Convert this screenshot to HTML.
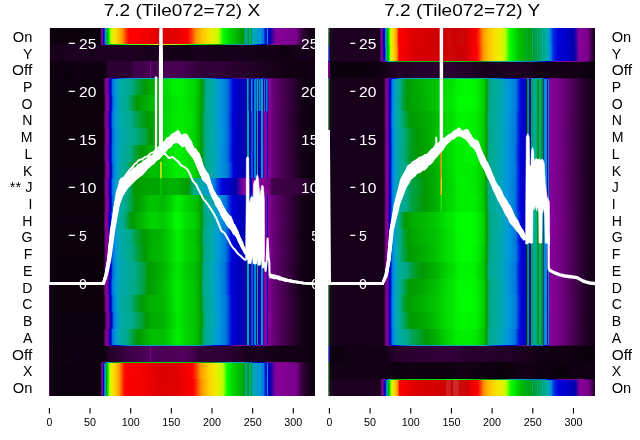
<!DOCTYPE html>
<html><head><meta charset="utf-8"><title>7.2 (Tile072=72)</title>
<style>
html,body{margin:0;padding:0;background:#fff;}
body{width:640px;height:440px;overflow:hidden;position:relative;font-family:"Liberation Sans",sans-serif;}
svg{display:block;font-family:"Liberation Sans",sans-serif;}
</style></head><body>
<svg width="640" height="440" viewBox="0 0 640 440">
<defs>
<clipPath id="cl"><rect x="48.90" y="27.90" width="266.10" height="367.80"/></clipPath>
<clipPath id="cr"><rect x="327.90" y="27.90" width="267.10" height="367.80"/></clipPath>
<linearGradient id="l0" gradientUnits="userSpaceOnUse" x1="48.90" y1="0" x2="315.00" y2="0"><stop offset="0" stop-color="#640072"/><stop offset=".0028" stop-color="#640072"/><stop offset=".0038" stop-color="#0c000d"/><stop offset=".1935" stop-color="#0c000e"/><stop offset=".1945" stop-color="#27002c"/><stop offset=".1954" stop-color="#540060"/><stop offset=".1964" stop-color="#780089"/><stop offset=".2001" stop-color="#870098"/><stop offset=".2011" stop-color="#7b009b"/><stop offset=".2029" stop-color="#56009f"/><stop offset=".2039" stop-color="#3600a3"/><stop offset=".2048" stop-color="#0d00a8"/><stop offset=".2057" stop-color="#0000b5"/><stop offset=".2076" stop-color="#0000d6"/><stop offset=".2086" stop-color="#0021dd"/><stop offset=".2104" stop-color="#007add"/><stop offset=".2123" stop-color="#0095dd"/><stop offset=".2133" stop-color="#009fcc"/><stop offset=".2142" stop-color="#00a7b2"/><stop offset=".2161" stop-color="#00aa8e"/><stop offset=".2170" stop-color="#00a45b"/><stop offset=".2180" stop-color="#009c17"/><stop offset=".2189" stop-color="#00a100"/><stop offset=".2255" stop-color="#00ee00"/><stop offset=".2274" stop-color="#03ff00"/><stop offset=".2292" stop-color="#60ff00"/><stop offset=".2302" stop-color="#81ff00"/><stop offset=".2321" stop-color="#afff00"/><stop offset=".2330" stop-color="#befe00"/><stop offset=".2368" stop-color="#d7f600"/><stop offset=".2424" stop-color="#ecef00"/><stop offset=".2584" stop-color="#ffcb00"/><stop offset=".2753" stop-color="#ff9a00"/><stop offset=".2931" stop-color="#ff2500"/><stop offset=".3016" stop-color="#ff0000"/><stop offset=".3420" stop-color="#fa0000"/><stop offset=".4181" stop-color="#dc0000"/><stop offset=".4744" stop-color="#e20000"/><stop offset=".5224" stop-color="#ff0000"/><stop offset=".5374" stop-color="#ff4100"/><stop offset=".5487" stop-color="#ff8000"/><stop offset=".5543" stop-color="#ff9700"/><stop offset=".5806" stop-color="#ffcc00"/><stop offset=".6097" stop-color="#eeee00"/><stop offset=".6248" stop-color="#d7f600"/><stop offset=".6389" stop-color="#b9ff00"/><stop offset=".6548" stop-color="#00ff00"/><stop offset=".6736" stop-color="#00dd00"/><stop offset=".7281" stop-color="#009900"/><stop offset=".7328" stop-color="#009c1a"/><stop offset=".7375" stop-color="#00a248"/><stop offset=".7384" stop-color="#00aaa3"/><stop offset=".7422" stop-color="#00aaa3"/><stop offset=".7431" stop-color="#00a981"/><stop offset=".7441" stop-color="#00aa89"/><stop offset=".7460" stop-color="#00aa8d"/><stop offset=".7469" stop-color="#009900"/><stop offset=".7507" stop-color="#009900"/><stop offset=".7516" stop-color="#00aa98"/><stop offset=".7544" stop-color="#00aaa3"/><stop offset=".7582" stop-color="#00aaa3"/><stop offset=".7601" stop-color="#00aaaa"/><stop offset=".7610" stop-color="#009c1b"/><stop offset=".7629" stop-color="#009c1b"/><stop offset=".7638" stop-color="#00a7b4"/><stop offset=".7835" stop-color="#00a2c3"/><stop offset=".7845" stop-color="#008bdd"/><stop offset=".7882" stop-color="#008bdd"/><stop offset=".7892" stop-color="#009fcb"/><stop offset=".7967" stop-color="#009cd5"/><stop offset=".7976" stop-color="#0085dd"/><stop offset=".8042" stop-color="#0085dd"/><stop offset=".8061" stop-color="#0078dd"/><stop offset=".8080" stop-color="#0052dd"/><stop offset=".8089" stop-color="#0044dd"/><stop offset=".8155" stop-color="#0005dd"/><stop offset=".8164" stop-color="#0000dc"/><stop offset=".8192" stop-color="#0000d3"/><stop offset=".8202" stop-color="#0099dd"/><stop offset=".8221" stop-color="#0099dd"/><stop offset=".8230" stop-color="#0000c7"/><stop offset=".8315" stop-color="#0000ab"/><stop offset=".8455" stop-color="#66009d"/><stop offset=".8587" stop-color="#880099"/><stop offset=".9310" stop-color="#770088"/><stop offset=".9442" stop-color="#470051"/><stop offset=".9620" stop-color="#24002a"/><stop offset=".9808" stop-color="#130016"/><stop offset=".9996" stop-color="#0d000f"/></linearGradient>
<linearGradient id="l1" gradientUnits="userSpaceOnUse" x1="48.90" y1="0" x2="315.00" y2="0"><stop offset="0" stop-color="#640072"/><stop offset=".0028" stop-color="#640072"/><stop offset=".0038" stop-color="#1b001e"/><stop offset=".0376" stop-color="#17001b"/><stop offset=".0752" stop-color="#1f0023"/><stop offset=".1503" stop-color="#1a001e"/><stop offset=".3382" stop-color="#1c0020"/><stop offset=".3758" stop-color="#17001a"/><stop offset=".4134" stop-color="#1d0021"/><stop offset=".4510" stop-color="#140017"/><stop offset=".5261" stop-color="#130016"/><stop offset=".5637" stop-color="#19001d"/><stop offset=".6013" stop-color="#150018"/><stop offset=".7140" stop-color="#16001a"/><stop offset=".9019" stop-color="#100012"/><stop offset=".9395" stop-color="#17001a"/><stop offset=".9996" stop-color="#150018"/></linearGradient>
<linearGradient id="l2" gradientUnits="userSpaceOnUse" x1="48.90" y1="0" x2="315.00" y2="0"><stop offset="0" stop-color="#640072"/><stop offset=".0028" stop-color="#640072"/><stop offset=".0038" stop-color="#0b000d"/><stop offset=".0376" stop-color="#0f0012"/><stop offset=".0752" stop-color="#0b000d"/><stop offset=".1127" stop-color="#100013"/><stop offset=".2104" stop-color="#0f0011"/><stop offset=".2227" stop-color="#2c0032"/><stop offset=".3006" stop-color="#2b0031"/><stop offset=".3241" stop-color="#41004b"/><stop offset=".3796" stop-color="#45004f"/><stop offset=".3805" stop-color="#720083"/><stop offset=".3833" stop-color="#720083"/><stop offset=".3843" stop-color="#45004f"/><stop offset=".4923" stop-color="#490054"/><stop offset=".5684" stop-color="#320039"/><stop offset=".6013" stop-color="#2e0035"/><stop offset=".6389" stop-color="#310038"/><stop offset=".9019" stop-color="#100012"/><stop offset=".9996" stop-color="#100012"/></linearGradient>
<linearGradient id="l3" gradientUnits="userSpaceOnUse" x1="48.90" y1="0" x2="315.00" y2="0"><stop offset="0" stop-color="#640072"/><stop offset=".0028" stop-color="#640072"/><stop offset=".0038" stop-color="#0c000e"/><stop offset=".2048" stop-color="#0c000e"/><stop offset=".2057" stop-color="#0f0011"/><stop offset=".2114" stop-color="#700080"/><stop offset=".2123" stop-color="#780089"/><stop offset=".2217" stop-color="#870098"/><stop offset=".2227" stop-color="#7c009a"/><stop offset=".2274" stop-color="#0d00a8"/><stop offset=".2283" stop-color="#0000ae"/><stop offset=".2330" stop-color="#0000d7"/><stop offset=".2339" stop-color="#0006dd"/><stop offset=".2386" stop-color="#0067dd"/><stop offset=".2396" stop-color="#0075dd"/><stop offset=".2508" stop-color="#0097dd"/><stop offset=".2659" stop-color="#00aaaa"/><stop offset=".3100" stop-color="#00aa88"/><stop offset=".3232" stop-color="#00a45a"/><stop offset=".3382" stop-color="#00a03c"/><stop offset=".3617" stop-color="#009901"/><stop offset=".3805" stop-color="#00a900"/><stop offset=".4190" stop-color="#00b500"/><stop offset=".4293" stop-color="#00d600"/><stop offset=".4782" stop-color="#00f200"/><stop offset=".4970" stop-color="#00f100"/><stop offset=".5487" stop-color="#00d600"/><stop offset=".5637" stop-color="#00bc00"/><stop offset=".5750" stop-color="#009b00"/><stop offset=".5759" stop-color="#009903"/><stop offset=".5909" stop-color="#00aa88"/><stop offset=".6191" stop-color="#00aaab"/><stop offset=".6285" stop-color="#00a3c0"/><stop offset=".6464" stop-color="#0098dd"/><stop offset=".6699" stop-color="#0077dd"/><stop offset=".6802" stop-color="#0047dd"/><stop offset=".6915" stop-color="#0001dd"/><stop offset=".6924" stop-color="#0000dc"/><stop offset=".7074" stop-color="#0000c3"/><stop offset=".7441" stop-color="#0000b6"/><stop offset=".7450" stop-color="#00aa9c"/><stop offset=".7497" stop-color="#00aa9c"/><stop offset=".7507" stop-color="#0000b3"/><stop offset=".7591" stop-color="#0000b0"/><stop offset=".7601" stop-color="#0085dd"/><stop offset=".7648" stop-color="#0085dd"/><stop offset=".7657" stop-color="#0000ae"/><stop offset=".7704" stop-color="#0000ac"/><stop offset=".7713" stop-color="#0085dd"/><stop offset=".7798" stop-color="#0085dd"/><stop offset=".7807" stop-color="#0400aa"/><stop offset=".7817" stop-color="#00aa9c"/><stop offset=".7864" stop-color="#00aa9c"/><stop offset=".7873" stop-color="#0a00a9"/><stop offset=".7882" stop-color="#008bdd"/><stop offset=".7948" stop-color="#008bdd"/><stop offset=".7958" stop-color="#1200a8"/><stop offset=".7967" stop-color="#00a3be"/><stop offset=".8042" stop-color="#00a3be"/><stop offset=".8051" stop-color="#2200a6"/><stop offset=".8080" stop-color="#2900a5"/><stop offset=".8089" stop-color="#0077dd"/><stop offset=".8117" stop-color="#0077dd"/><stop offset=".8127" stop-color="#3500a3"/><stop offset=".8164" stop-color="#3e00a2"/><stop offset=".8174" stop-color="#0077dd"/><stop offset=".8211" stop-color="#0077dd"/><stop offset=".8221" stop-color="#4d00a0"/><stop offset=".8239" stop-color="#56009f"/><stop offset=".8286" stop-color="#880099"/><stop offset=".8343" stop-color="#780089"/><stop offset=".8465" stop-color="#630072"/><stop offset=".9433" stop-color="#18001c"/><stop offset=".9630" stop-color="#110013"/><stop offset=".9996" stop-color="#0c000e"/></linearGradient>
<linearGradient id="l4" gradientUnits="userSpaceOnUse" x1="48.90" y1="0" x2="315.00" y2="0"><stop offset="0" stop-color="#640072"/><stop offset=".0028" stop-color="#640072"/><stop offset=".0038" stop-color="#0c000e"/><stop offset=".2067" stop-color="#0c000d"/><stop offset=".2133" stop-color="#770088"/><stop offset=".2227" stop-color="#860097"/><stop offset=".2236" stop-color="#860099"/><stop offset=".2292" stop-color="#0100aa"/><stop offset=".2349" stop-color="#0000db"/><stop offset=".2396" stop-color="#005ddd"/><stop offset=".2415" stop-color="#0076dd"/><stop offset=".2527" stop-color="#0097dd"/><stop offset=".2668" stop-color="#00aaaa"/><stop offset=".2959" stop-color="#00aa86"/><stop offset=".3091" stop-color="#00a458"/><stop offset=".3251" stop-color="#009c14"/><stop offset=".3326" stop-color="#009900"/><stop offset=".3814" stop-color="#00b700"/><stop offset=".4021" stop-color="#00bb00"/><stop offset=".4200" stop-color="#00b400"/><stop offset=".4303" stop-color="#00d000"/><stop offset=".4791" stop-color="#00ea00"/><stop offset=".4970" stop-color="#00ec00"/><stop offset=".5383" stop-color="#00dc00"/><stop offset=".5496" stop-color="#00d300"/><stop offset=".5646" stop-color="#00b700"/><stop offset=".5740" stop-color="#009b00"/><stop offset=".5750" stop-color="#009904"/><stop offset=".5769" stop-color="#009c18"/><stop offset=".5900" stop-color="#00aa88"/><stop offset=".6172" stop-color="#00aaa9"/><stop offset=".6295" stop-color="#00a1c4"/><stop offset=".6445" stop-color="#0099dd"/><stop offset=".6708" stop-color="#0076dd"/><stop offset=".6811" stop-color="#0045dd"/><stop offset=".6924" stop-color="#0000dc"/><stop offset=".7084" stop-color="#0000bf"/><stop offset=".7441" stop-color="#0000b1"/><stop offset=".7450" stop-color="#00aa9c"/><stop offset=".7497" stop-color="#00aa9c"/><stop offset=".7507" stop-color="#0000af"/><stop offset=".7591" stop-color="#0000ac"/><stop offset=".7601" stop-color="#0085dd"/><stop offset=".7648" stop-color="#0085dd"/><stop offset=".7657" stop-color="#0100aa"/><stop offset=".7704" stop-color="#0600a9"/><stop offset=".7713" stop-color="#0085dd"/><stop offset=".7798" stop-color="#0085dd"/><stop offset=".7807" stop-color="#0f00a8"/><stop offset=".7817" stop-color="#00aa9c"/><stop offset=".7864" stop-color="#00aa9c"/><stop offset=".7873" stop-color="#1300a8"/><stop offset=".7882" stop-color="#008bdd"/><stop offset=".7948" stop-color="#008bdd"/><stop offset=".7958" stop-color="#1a00a7"/><stop offset=".7967" stop-color="#00a3be"/><stop offset=".8042" stop-color="#00a3be"/><stop offset=".8051" stop-color="#2500a5"/><stop offset=".8080" stop-color="#2c00a5"/><stop offset=".8089" stop-color="#0077dd"/><stop offset=".8117" stop-color="#0077dd"/><stop offset=".8127" stop-color="#3600a3"/><stop offset=".8164" stop-color="#3f00a2"/><stop offset=".8174" stop-color="#0077dd"/><stop offset=".8211" stop-color="#0077dd"/><stop offset=".8221" stop-color="#4d00a0"/><stop offset=".8249" stop-color="#57009f"/><stop offset=".8296" stop-color="#880099"/><stop offset=".8362" stop-color="#760086"/><stop offset=".8474" stop-color="#630071"/><stop offset=".9442" stop-color="#18001b"/><stop offset=".9639" stop-color="#100013"/><stop offset=".9996" stop-color="#0c000e"/></linearGradient>
<linearGradient id="l5" gradientUnits="userSpaceOnUse" x1="48.90" y1="0" x2="315.00" y2="0"><stop offset="0" stop-color="#640072"/><stop offset=".0028" stop-color="#640072"/><stop offset=".0038" stop-color="#0c000d"/><stop offset=".2048" stop-color="#0c000d"/><stop offset=".2104" stop-color="#6b007b"/><stop offset=".2114" stop-color="#780089"/><stop offset=".2208" stop-color="#870098"/><stop offset=".2217" stop-color="#840099"/><stop offset=".2274" stop-color="#0000aa"/><stop offset=".2330" stop-color="#0000dc"/><stop offset=".2377" stop-color="#0060dd"/><stop offset=".2386" stop-color="#0070dd"/><stop offset=".2396" stop-color="#0078dd"/><stop offset=".2508" stop-color="#0098dd"/><stop offset=".2649" stop-color="#00a9af"/><stop offset=".3129" stop-color="#00aa88"/><stop offset=".3232" stop-color="#00a562"/><stop offset=".3382" stop-color="#00a13d"/><stop offset=".3617" stop-color="#009b13"/><stop offset=".3683" stop-color="#009900"/><stop offset=".4181" stop-color="#00af00"/><stop offset=".4284" stop-color="#00d200"/><stop offset=".4773" stop-color="#00ec00"/><stop offset=".4951" stop-color="#00ed00"/><stop offset=".5365" stop-color="#00de00"/><stop offset=".5477" stop-color="#00d400"/><stop offset=".5628" stop-color="#00b800"/><stop offset=".5731" stop-color="#009901"/><stop offset=".5750" stop-color="#009c17"/><stop offset=".5881" stop-color="#00aa89"/><stop offset=".6154" stop-color="#00aaa9"/><stop offset=".6276" stop-color="#00a2c3"/><stop offset=".6436" stop-color="#0099dd"/><stop offset=".6689" stop-color="#0076dd"/><stop offset=".6793" stop-color="#0046dd"/><stop offset=".6905" stop-color="#0000dc"/><stop offset=".7065" stop-color="#0000c0"/><stop offset=".7431" stop-color="#0000af"/><stop offset=".7441" stop-color="#00aa9c"/><stop offset=".7507" stop-color="#00aa9c"/><stop offset=".7516" stop-color="#0000ad"/><stop offset=".7591" stop-color="#0000ab"/><stop offset=".7601" stop-color="#0053dd"/><stop offset=".7666" stop-color="#0053dd"/><stop offset=".7676" stop-color="#0200aa"/><stop offset=".7704" stop-color="#0400aa"/><stop offset=".7713" stop-color="#0085dd"/><stop offset=".7788" stop-color="#0085dd"/><stop offset=".7798" stop-color="#0b00a9"/><stop offset=".7807" stop-color="#0c00a9"/><stop offset=".7817" stop-color="#00aaa3"/><stop offset=".7864" stop-color="#00aaa3"/><stop offset=".7873" stop-color="#1300a8"/><stop offset=".7958" stop-color="#1b00a7"/><stop offset=".7967" stop-color="#0092dd"/><stop offset=".8042" stop-color="#0092dd"/><stop offset=".8051" stop-color="#2d00a4"/><stop offset=".8061" stop-color="#2f00a4"/><stop offset=".8070" stop-color="#880099"/><stop offset=".8183" stop-color="#880099"/><stop offset=".8192" stop-color="#0000b9"/><stop offset=".8230" stop-color="#0000b9"/><stop offset=".8239" stop-color="#870098"/><stop offset=".8286" stop-color="#870098"/><stop offset=".8343" stop-color="#750086"/><stop offset=".8455" stop-color="#630071"/><stop offset=".9423" stop-color="#18001c"/><stop offset=".9620" stop-color="#110013"/><stop offset=".9996" stop-color="#0c000e"/></linearGradient>
<linearGradient id="l6" gradientUnits="userSpaceOnUse" x1="48.90" y1="0" x2="315.00" y2="0"><stop offset="0" stop-color="#640072"/><stop offset=".0028" stop-color="#640072"/><stop offset=".0038" stop-color="#0c000d"/><stop offset=".2057" stop-color="#0c000d"/><stop offset=".2067" stop-color="#120015"/><stop offset=".2123" stop-color="#730083"/><stop offset=".2151" stop-color="#7d008e"/><stop offset=".2227" stop-color="#870098"/><stop offset=".2236" stop-color="#78009b"/><stop offset=".2283" stop-color="#0800a9"/><stop offset=".2292" stop-color="#0000af"/><stop offset=".2339" stop-color="#0000da"/><stop offset=".2349" stop-color="#000cdd"/><stop offset=".2396" stop-color="#006ddd"/><stop offset=".2405" stop-color="#0077dd"/><stop offset=".2527" stop-color="#0098dd"/><stop offset=".2668" stop-color="#00a7b4"/><stop offset=".3232" stop-color="#00aa88"/><stop offset=".3636" stop-color="#00a141"/><stop offset=".3805" stop-color="#009a09"/><stop offset=".3861" stop-color="#009900"/><stop offset=".4200" stop-color="#00ab00"/><stop offset=".4303" stop-color="#00cf00"/><stop offset=".4782" stop-color="#00ea00"/><stop offset=".4970" stop-color="#00eb00"/><stop offset=".5383" stop-color="#00d900"/><stop offset=".5496" stop-color="#00cf00"/><stop offset=".5646" stop-color="#00b300"/><stop offset=".5731" stop-color="#009900"/><stop offset=".5769" stop-color="#009e29"/><stop offset=".5881" stop-color="#00aa89"/><stop offset=".6163" stop-color="#00aaab"/><stop offset=".6285" stop-color="#00a2c3"/><stop offset=".6464" stop-color="#0099dd"/><stop offset=".6699" stop-color="#0077dd"/><stop offset=".6811" stop-color="#0041dd"/><stop offset=".6915" stop-color="#0000dd"/><stop offset=".7074" stop-color="#0000c1"/><stop offset=".7431" stop-color="#0000b1"/><stop offset=".7441" stop-color="#00aa9c"/><stop offset=".7507" stop-color="#00aa9c"/><stop offset=".7516" stop-color="#0000ae"/><stop offset=".7591" stop-color="#0000ac"/><stop offset=".7601" stop-color="#0053dd"/><stop offset=".7666" stop-color="#0053dd"/><stop offset=".7676" stop-color="#0200aa"/><stop offset=".7704" stop-color="#0500a9"/><stop offset=".7713" stop-color="#0085dd"/><stop offset=".7788" stop-color="#0085dd"/><stop offset=".7798" stop-color="#0e00a8"/><stop offset=".7807" stop-color="#0f00a8"/><stop offset=".7817" stop-color="#00aaa3"/><stop offset=".7864" stop-color="#00aaa3"/><stop offset=".7873" stop-color="#1600a7"/><stop offset=".7958" stop-color="#1f00a6"/><stop offset=".7967" stop-color="#0092dd"/><stop offset=".8042" stop-color="#0092dd"/><stop offset=".8051" stop-color="#2e00a4"/><stop offset=".8061" stop-color="#3000a4"/><stop offset=".8070" stop-color="#880099"/><stop offset=".8183" stop-color="#880099"/><stop offset=".8192" stop-color="#0000b9"/><stop offset=".8230" stop-color="#0000b9"/><stop offset=".8239" stop-color="#870098"/><stop offset=".8286" stop-color="#870098"/><stop offset=".8362" stop-color="#730083"/><stop offset=".8465" stop-color="#620070"/><stop offset=".9442" stop-color="#18001b"/><stop offset=".9630" stop-color="#100013"/><stop offset=".9996" stop-color="#0c000e"/></linearGradient>
<linearGradient id="l7" gradientUnits="userSpaceOnUse" x1="48.90" y1="0" x2="315.00" y2="0"><stop offset="0" stop-color="#640072"/><stop offset=".0028" stop-color="#640072"/><stop offset=".0038" stop-color="#0c000d"/><stop offset=".2048" stop-color="#0c000e"/><stop offset=".2057" stop-color="#0f0011"/><stop offset=".2114" stop-color="#700080"/><stop offset=".2123" stop-color="#780089"/><stop offset=".2217" stop-color="#870098"/><stop offset=".2227" stop-color="#7c009b"/><stop offset=".2274" stop-color="#0c00a9"/><stop offset=".2283" stop-color="#0000ae"/><stop offset=".2330" stop-color="#0000d8"/><stop offset=".2339" stop-color="#0008dd"/><stop offset=".2386" stop-color="#0069dd"/><stop offset=".2396" stop-color="#0076dd"/><stop offset=".2518" stop-color="#0098dd"/><stop offset=".2659" stop-color="#00a9ad"/><stop offset=".3063" stop-color="#00aa86"/><stop offset=".3241" stop-color="#00a13c"/><stop offset=".3467" stop-color="#009901"/><stop offset=".3805" stop-color="#00ae00"/><stop offset=".4190" stop-color="#00b100"/><stop offset=".4293" stop-color="#00cf00"/><stop offset=".4782" stop-color="#00ee00"/><stop offset=".4970" stop-color="#00ed00"/><stop offset=".5487" stop-color="#00d000"/><stop offset=".5637" stop-color="#00b500"/><stop offset=".5731" stop-color="#009900"/><stop offset=".5759" stop-color="#009d1f"/><stop offset=".5881" stop-color="#00aa87"/><stop offset=".6172" stop-color="#00aaaa"/><stop offset=".6464" stop-color="#0098dd"/><stop offset=".6689" stop-color="#0075dd"/><stop offset=".6802" stop-color="#003edd"/><stop offset=".6905" stop-color="#0000dc"/><stop offset=".7074" stop-color="#0000c0"/><stop offset=".7431" stop-color="#0000b3"/><stop offset=".7441" stop-color="#00aa9c"/><stop offset=".7507" stop-color="#00aa9c"/><stop offset=".7516" stop-color="#0000b0"/><stop offset=".7591" stop-color="#0000ad"/><stop offset=".7601" stop-color="#0053dd"/><stop offset=".7666" stop-color="#0053dd"/><stop offset=".7676" stop-color="#0000aa"/><stop offset=".7704" stop-color="#0200aa"/><stop offset=".7713" stop-color="#0085dd"/><stop offset=".7788" stop-color="#0085dd"/><stop offset=".7798" stop-color="#0b00a9"/><stop offset=".7807" stop-color="#0c00a9"/><stop offset=".7817" stop-color="#00aaa3"/><stop offset=".7864" stop-color="#00aaa3"/><stop offset=".7873" stop-color="#1100a8"/><stop offset=".7958" stop-color="#1800a7"/><stop offset=".7967" stop-color="#0092dd"/><stop offset=".8042" stop-color="#0092dd"/><stop offset=".8051" stop-color="#2700a5"/><stop offset=".8061" stop-color="#2900a5"/><stop offset=".8070" stop-color="#880099"/><stop offset=".8183" stop-color="#880099"/><stop offset=".8192" stop-color="#0000b9"/><stop offset=".8230" stop-color="#0000b9"/><stop offset=".8239" stop-color="#870098"/><stop offset=".8286" stop-color="#870098"/><stop offset=".8352" stop-color="#750086"/><stop offset=".8465" stop-color="#620070"/><stop offset=".9433" stop-color="#18001b"/><stop offset=".9630" stop-color="#110013"/><stop offset=".9996" stop-color="#0c000e"/></linearGradient>
<linearGradient id="l8" gradientUnits="userSpaceOnUse" x1="48.90" y1="0" x2="315.00" y2="0"><stop offset="0" stop-color="#640072"/><stop offset=".0028" stop-color="#640072"/><stop offset=".0038" stop-color="#0c000e"/><stop offset=".2067" stop-color="#0c000e"/><stop offset=".2076" stop-color="#160019"/><stop offset=".2133" stop-color="#770088"/><stop offset=".2236" stop-color="#880099"/><stop offset=".2292" stop-color="#0100aa"/><stop offset=".2349" stop-color="#0000dc"/><stop offset=".2405" stop-color="#0074dd"/><stop offset=".2527" stop-color="#0099dd"/><stop offset=".2668" stop-color="#00aaa7"/><stop offset=".2903" stop-color="#00aa88"/><stop offset=".2978" stop-color="#00a666"/><stop offset=".3251" stop-color="#009900"/><stop offset=".3814" stop-color="#00bc00"/><stop offset=".4021" stop-color="#00bf00"/><stop offset=".4209" stop-color="#00b500"/><stop offset=".4303" stop-color="#00d000"/><stop offset=".4791" stop-color="#00ef00"/><stop offset=".4979" stop-color="#00ef00"/><stop offset=".5505" stop-color="#00d500"/><stop offset=".5656" stop-color="#00b900"/><stop offset=".5759" stop-color="#009a00"/><stop offset=".5909" stop-color="#00aa87"/><stop offset=".5919" stop-color="#00aa8a"/><stop offset=".6182" stop-color="#00aaaa"/><stop offset=".6295" stop-color="#00a2c3"/><stop offset=".6454" stop-color="#0098dd"/><stop offset=".6717" stop-color="#0077dd"/><stop offset=".6821" stop-color="#0047dd"/><stop offset=".6933" stop-color="#0000dc"/><stop offset=".7084" stop-color="#0000c2"/><stop offset=".7431" stop-color="#0000b4"/><stop offset=".7441" stop-color="#00aa9c"/><stop offset=".7507" stop-color="#00aa9c"/><stop offset=".7516" stop-color="#0000b1"/><stop offset=".7591" stop-color="#0000af"/><stop offset=".7601" stop-color="#0053dd"/><stop offset=".7666" stop-color="#0053dd"/><stop offset=".7676" stop-color="#0000ac"/><stop offset=".7704" stop-color="#0000ab"/><stop offset=".7713" stop-color="#0085dd"/><stop offset=".7788" stop-color="#0085dd"/><stop offset=".7798" stop-color="#0700a9"/><stop offset=".7807" stop-color="#0800a9"/><stop offset=".7817" stop-color="#00aaa3"/><stop offset=".7864" stop-color="#00aaa3"/><stop offset=".7873" stop-color="#0e00a8"/><stop offset=".7958" stop-color="#1600a7"/><stop offset=".7967" stop-color="#0092dd"/><stop offset=".8042" stop-color="#0092dd"/><stop offset=".8051" stop-color="#2200a6"/><stop offset=".8061" stop-color="#2500a5"/><stop offset=".8070" stop-color="#880099"/><stop offset=".8183" stop-color="#880099"/><stop offset=".8192" stop-color="#0000b9"/><stop offset=".8230" stop-color="#0000b9"/><stop offset=".8239" stop-color="#870098"/><stop offset=".8305" stop-color="#870098"/><stop offset=".8362" stop-color="#760087"/><stop offset=".8474" stop-color="#630072"/><stop offset=".9451" stop-color="#18001b"/><stop offset=".9639" stop-color="#110013"/><stop offset=".9996" stop-color="#0c000e"/></linearGradient>
<linearGradient id="l9" gradientUnits="userSpaceOnUse" x1="48.90" y1="0" x2="315.00" y2="0"><stop offset="0" stop-color="#640072"/><stop offset=".0028" stop-color="#640072"/><stop offset=".0038" stop-color="#0c000e"/><stop offset=".2048" stop-color="#0c000e"/><stop offset=".2057" stop-color="#0f0011"/><stop offset=".2114" stop-color="#710081"/><stop offset=".2123" stop-color="#780089"/><stop offset=".2217" stop-color="#870098"/><stop offset=".2227" stop-color="#7b009b"/><stop offset=".2274" stop-color="#0900a9"/><stop offset=".2283" stop-color="#0000af"/><stop offset=".2330" stop-color="#0000da"/><stop offset=".2339" stop-color="#000cdd"/><stop offset=".2386" stop-color="#006fdd"/><stop offset=".2396" stop-color="#0079dd"/><stop offset=".2480" stop-color="#0097dd"/><stop offset=".2640" stop-color="#00aaab"/><stop offset=".2978" stop-color="#00aa87"/><stop offset=".3204" stop-color="#009900"/><stop offset=".3720" stop-color="#00a400"/><stop offset=".4284" stop-color="#00a700"/><stop offset=".4547" stop-color="#00b000"/><stop offset=".4848" stop-color="#00b100"/><stop offset=".5224" stop-color="#009a00"/><stop offset=".5374" stop-color="#00a352"/><stop offset=".5458" stop-color="#00aa87"/><stop offset=".5712" stop-color="#00aaaa"/><stop offset=".5994" stop-color="#0099dd"/><stop offset=".6219" stop-color="#0078dd"/><stop offset=".6323" stop-color="#0046dd"/><stop offset=".6511" stop-color="#0000dd"/><stop offset=".7027" stop-color="#0000aa"/><stop offset=".7178" stop-color="#5000a0"/><stop offset=".7337" stop-color="#880099"/><stop offset=".7535" stop-color="#840095"/><stop offset=".7544" stop-color="#0000be"/><stop offset=".7629" stop-color="#0000be"/><stop offset=".7638" stop-color="#840095"/><stop offset=".7723" stop-color="#840095"/><stop offset=".7732" stop-color="#0000b4"/><stop offset=".7779" stop-color="#0000b4"/><stop offset=".7788" stop-color="#830094"/><stop offset=".8014" stop-color="#830094"/><stop offset=".8277" stop-color="#770088"/><stop offset=".8390" stop-color="#42004b"/><stop offset=".9433" stop-color="#34003c"/><stop offset=".9996" stop-color="#0e0010"/></linearGradient>
<linearGradient id="l10" gradientUnits="userSpaceOnUse" x1="48.90" y1="0" x2="315.00" y2="0"><stop offset="0" stop-color="#640072"/><stop offset=".0028" stop-color="#640072"/><stop offset=".0038" stop-color="#0c000d"/><stop offset=".2057" stop-color="#0c000d"/><stop offset=".2067" stop-color="#120015"/><stop offset=".2123" stop-color="#720083"/><stop offset=".2151" stop-color="#7d008e"/><stop offset=".2227" stop-color="#870098"/><stop offset=".2236" stop-color="#7a009b"/><stop offset=".2283" stop-color="#0a00a9"/><stop offset=".2292" stop-color="#0000af"/><stop offset=".2339" stop-color="#0000d9"/><stop offset=".2349" stop-color="#0009dd"/><stop offset=".2396" stop-color="#006bdd"/><stop offset=".2405" stop-color="#0076dd"/><stop offset=".2527" stop-color="#0099dd"/><stop offset=".2659" stop-color="#00aaaa"/><stop offset=".2912" stop-color="#00aa88"/><stop offset=".2969" stop-color="#00a76c"/><stop offset=".3044" stop-color="#00a34f"/><stop offset=".3241" stop-color="#009a0c"/><stop offset=".3298" stop-color="#009900"/><stop offset=".3805" stop-color="#00c300"/><stop offset=".4021" stop-color="#00c300"/><stop offset=".4284" stop-color="#00b700"/><stop offset=".4632" stop-color="#00d600"/><stop offset=".4782" stop-color="#00eb00"/><stop offset=".4932" stop-color="#00eb00"/><stop offset=".5083" stop-color="#00d900"/><stop offset=".5505" stop-color="#00c100"/><stop offset=".5609" stop-color="#00b600"/><stop offset=".5731" stop-color="#009a00"/><stop offset=".5834" stop-color="#00aa84"/><stop offset=".5844" stop-color="#00aa89"/><stop offset=".6107" stop-color="#00aaaa"/><stop offset=".6389" stop-color="#0098dd"/><stop offset=".6642" stop-color="#0078dd"/><stop offset=".6887" stop-color="#0000dc"/><stop offset=".7074" stop-color="#0000c3"/><stop offset=".7431" stop-color="#0000b1"/><stop offset=".7441" stop-color="#00aa9c"/><stop offset=".7507" stop-color="#00aa9c"/><stop offset=".7516" stop-color="#0000ae"/><stop offset=".7591" stop-color="#0000ac"/><stop offset=".7601" stop-color="#0053dd"/><stop offset=".7666" stop-color="#0053dd"/><stop offset=".7676" stop-color="#0200aa"/><stop offset=".7704" stop-color="#0500a9"/><stop offset=".7713" stop-color="#0085dd"/><stop offset=".7788" stop-color="#0085dd"/><stop offset=".7798" stop-color="#0d00a8"/><stop offset=".7807" stop-color="#0d00a8"/><stop offset=".7817" stop-color="#00aaa3"/><stop offset=".7864" stop-color="#00aaa3"/><stop offset=".7873" stop-color="#1200a8"/><stop offset=".7958" stop-color="#1900a7"/><stop offset=".7967" stop-color="#0092dd"/><stop offset=".8042" stop-color="#0092dd"/><stop offset=".8051" stop-color="#2500a5"/><stop offset=".8061" stop-color="#2700a5"/><stop offset=".8070" stop-color="#880099"/><stop offset=".8183" stop-color="#880099"/><stop offset=".8192" stop-color="#0000b9"/><stop offset=".8230" stop-color="#0000b9"/><stop offset=".8239" stop-color="#870098"/><stop offset=".8296" stop-color="#870099"/><stop offset=".8362" stop-color="#750086"/><stop offset=".8474" stop-color="#630071"/><stop offset=".9442" stop-color="#18001b"/><stop offset=".9630" stop-color="#110013"/><stop offset=".9996" stop-color="#0c000e"/></linearGradient>
<linearGradient id="l11" gradientUnits="userSpaceOnUse" x1="48.90" y1="0" x2="315.00" y2="0"><stop offset="0" stop-color="#640072"/><stop offset=".0028" stop-color="#640072"/><stop offset=".0038" stop-color="#0c000e"/><stop offset=".2048" stop-color="#0c000e"/><stop offset=".2104" stop-color="#710081"/><stop offset=".2114" stop-color="#780089"/><stop offset=".2208" stop-color="#870099"/><stop offset=".2217" stop-color="#77009b"/><stop offset=".2264" stop-color="#0300aa"/><stop offset=".2321" stop-color="#0000dd"/><stop offset=".2377" stop-color="#0078dd"/><stop offset=".2480" stop-color="#0098dd"/><stop offset=".2640" stop-color="#00aaa2"/><stop offset=".2818" stop-color="#00aa89"/><stop offset=".2969" stop-color="#00a03a"/><stop offset=".3119" stop-color="#009900"/><stop offset=".3796" stop-color="#00d100"/><stop offset=".4021" stop-color="#00d400"/><stop offset=".4293" stop-color="#00c800"/><stop offset=".4613" stop-color="#00e400"/><stop offset=".4773" stop-color="#00f900"/><stop offset=".4923" stop-color="#00f700"/><stop offset=".5073" stop-color="#00e400"/><stop offset=".5487" stop-color="#00ce00"/><stop offset=".5599" stop-color="#00bf00"/><stop offset=".5740" stop-color="#009900"/><stop offset=".5825" stop-color="#00a66b"/><stop offset=".5891" stop-color="#00aa88"/><stop offset=".6172" stop-color="#00aaaa"/><stop offset=".6436" stop-color="#0099dd"/><stop offset=".6670" stop-color="#0077dd"/><stop offset=".6868" stop-color="#000ddd"/><stop offset=".6905" stop-color="#0000dd"/><stop offset=".7065" stop-color="#0000c8"/><stop offset=".7431" stop-color="#0000b4"/><stop offset=".7441" stop-color="#00aa9c"/><stop offset=".7507" stop-color="#00aa9c"/><stop offset=".7516" stop-color="#0000b2"/><stop offset=".7591" stop-color="#0000b0"/><stop offset=".7601" stop-color="#0053dd"/><stop offset=".7666" stop-color="#0053dd"/><stop offset=".7676" stop-color="#0000ae"/><stop offset=".7704" stop-color="#0000ae"/><stop offset=".7713" stop-color="#0085dd"/><stop offset=".7788" stop-color="#0085dd"/><stop offset=".7798" stop-color="#0000ab"/><stop offset=".7807" stop-color="#0000ab"/><stop offset=".7817" stop-color="#00aaa3"/><stop offset=".7864" stop-color="#00aaa3"/><stop offset=".7873" stop-color="#0600a9"/><stop offset=".7958" stop-color="#1000a8"/><stop offset=".7967" stop-color="#0092dd"/><stop offset=".8042" stop-color="#0092dd"/><stop offset=".8051" stop-color="#2300a6"/><stop offset=".8061" stop-color="#2600a5"/><stop offset=".8070" stop-color="#880099"/><stop offset=".8183" stop-color="#880099"/><stop offset=".8192" stop-color="#0000b9"/><stop offset=".8230" stop-color="#0000b9"/><stop offset=".8239" stop-color="#870098"/><stop offset=".8286" stop-color="#870098"/><stop offset=".8333" stop-color="#79008a"/><stop offset=".8455" stop-color="#670075"/><stop offset=".9423" stop-color="#19001d"/><stop offset=".9620" stop-color="#110013"/><stop offset=".9996" stop-color="#0c000e"/></linearGradient>
<linearGradient id="l12" gradientUnits="userSpaceOnUse" x1="48.90" y1="0" x2="315.00" y2="0"><stop offset="0" stop-color="#640072"/><stop offset=".0028" stop-color="#640072"/><stop offset=".0038" stop-color="#0c000e"/><stop offset=".2048" stop-color="#0c000d"/><stop offset=".2057" stop-color="#0f0011"/><stop offset=".2114" stop-color="#6f007f"/><stop offset=".2123" stop-color="#780089"/><stop offset=".2217" stop-color="#870098"/><stop offset=".2227" stop-color="#80009a"/><stop offset=".2274" stop-color="#1100a8"/><stop offset=".2283" stop-color="#0000ac"/><stop offset=".2339" stop-color="#0001dd"/><stop offset=".2386" stop-color="#0062dd"/><stop offset=".2405" stop-color="#0078dd"/><stop offset=".2518" stop-color="#0098dd"/><stop offset=".2659" stop-color="#00a9ad"/><stop offset=".3063" stop-color="#00aa86"/><stop offset=".3241" stop-color="#00a247"/><stop offset=".3570" stop-color="#009901"/><stop offset=".3805" stop-color="#00ac00"/><stop offset=".4256" stop-color="#00b800"/><stop offset=".4622" stop-color="#00d900"/><stop offset=".4782" stop-color="#00ee00"/><stop offset=".4923" stop-color="#00ed00"/><stop offset=".5083" stop-color="#00da00"/><stop offset=".5487" stop-color="#00c400"/><stop offset=".5599" stop-color="#00b700"/><stop offset=".5722" stop-color="#009a00"/><stop offset=".5731" stop-color="#009a07"/><stop offset=".5825" stop-color="#00a981"/><stop offset=".5834" stop-color="#00aa88"/><stop offset=".6116" stop-color="#00aaaa"/><stop offset=".6389" stop-color="#0098dd"/><stop offset=".6642" stop-color="#0075dd"/><stop offset=".6868" stop-color="#0000dd"/><stop offset=".7074" stop-color="#0000bf"/><stop offset=".7431" stop-color="#0000af"/><stop offset=".7441" stop-color="#00aa9c"/><stop offset=".7507" stop-color="#00aa9c"/><stop offset=".7516" stop-color="#0000ad"/><stop offset=".7591" stop-color="#0000ac"/><stop offset=".7601" stop-color="#0053dd"/><stop offset=".7666" stop-color="#0053dd"/><stop offset=".7676" stop-color="#0000aa"/><stop offset=".7704" stop-color="#0100aa"/><stop offset=".7713" stop-color="#0085dd"/><stop offset=".7788" stop-color="#0085dd"/><stop offset=".7798" stop-color="#0700a9"/><stop offset=".7807" stop-color="#0800a9"/><stop offset=".7817" stop-color="#00aaa3"/><stop offset=".7864" stop-color="#00aaa3"/><stop offset=".7873" stop-color="#0f00a8"/><stop offset=".7958" stop-color="#1800a7"/><stop offset=".7967" stop-color="#0092dd"/><stop offset=".8042" stop-color="#0092dd"/><stop offset=".8051" stop-color="#2800a5"/><stop offset=".8061" stop-color="#2b00a5"/><stop offset=".8070" stop-color="#880099"/><stop offset=".8183" stop-color="#880099"/><stop offset=".8192" stop-color="#0000b9"/><stop offset=".8230" stop-color="#0000b9"/><stop offset=".8239" stop-color="#870098"/><stop offset=".8286" stop-color="#870098"/><stop offset=".8352" stop-color="#750086"/><stop offset=".8465" stop-color="#630071"/><stop offset=".9433" stop-color="#18001b"/><stop offset=".9630" stop-color="#100013"/><stop offset=".9996" stop-color="#0c000e"/></linearGradient>
<linearGradient id="l13" gradientUnits="userSpaceOnUse" x1="48.90" y1="0" x2="315.00" y2="0"><stop offset="0" stop-color="#640072"/><stop offset=".0028" stop-color="#640072"/><stop offset=".0038" stop-color="#0c000e"/><stop offset=".2067" stop-color="#0c000d"/><stop offset=".2123" stop-color="#6c007c"/><stop offset=".2133" stop-color="#780089"/><stop offset=".2227" stop-color="#870098"/><stop offset=".2236" stop-color="#80009a"/><stop offset=".2283" stop-color="#0e00a8"/><stop offset=".2292" stop-color="#0000ad"/><stop offset=".2339" stop-color="#0000d8"/><stop offset=".2349" stop-color="#0009dd"/><stop offset=".2396" stop-color="#006ddd"/><stop offset=".2405" stop-color="#0078dd"/><stop offset=".2518" stop-color="#0098dd"/><stop offset=".2668" stop-color="#00a9ad"/><stop offset=".3119" stop-color="#00aa87"/><stop offset=".3251" stop-color="#00a458"/><stop offset=".3429" stop-color="#009f2f"/><stop offset=".3589" stop-color="#009901"/><stop offset=".3814" stop-color="#00ae00"/><stop offset=".4265" stop-color="#00bb00"/><stop offset=".4632" stop-color="#00da00"/><stop offset=".4791" stop-color="#00ee00"/><stop offset=".4942" stop-color="#00ed00"/><stop offset=".5092" stop-color="#00db00"/><stop offset=".5505" stop-color="#00c500"/><stop offset=".5618" stop-color="#00b700"/><stop offset=".5731" stop-color="#009b00"/><stop offset=".5740" stop-color="#009903"/><stop offset=".5844" stop-color="#00aa86"/><stop offset=".6126" stop-color="#00aaaa"/><stop offset=".6398" stop-color="#0099dd"/><stop offset=".6652" stop-color="#0075dd"/><stop offset=".6877" stop-color="#0000dd"/><stop offset=".7084" stop-color="#0000c1"/><stop offset=".7431" stop-color="#0000b5"/><stop offset=".7441" stop-color="#00aa9c"/><stop offset=".7507" stop-color="#00aa9c"/><stop offset=".7516" stop-color="#0000b2"/><stop offset=".7591" stop-color="#0000af"/><stop offset=".7601" stop-color="#0053dd"/><stop offset=".7666" stop-color="#0053dd"/><stop offset=".7676" stop-color="#0000ac"/><stop offset=".7704" stop-color="#0000ab"/><stop offset=".7713" stop-color="#0085dd"/><stop offset=".7788" stop-color="#0085dd"/><stop offset=".7798" stop-color="#0700a9"/><stop offset=".7807" stop-color="#0800a9"/><stop offset=".7817" stop-color="#00aaa3"/><stop offset=".7864" stop-color="#00aaa3"/><stop offset=".7873" stop-color="#0f00a8"/><stop offset=".7958" stop-color="#1900a7"/><stop offset=".7967" stop-color="#0092dd"/><stop offset=".8042" stop-color="#0092dd"/><stop offset=".8051" stop-color="#2800a5"/><stop offset=".8061" stop-color="#2b00a5"/><stop offset=".8070" stop-color="#880099"/><stop offset=".8183" stop-color="#880099"/><stop offset=".8192" stop-color="#0000b9"/><stop offset=".8230" stop-color="#0000b9"/><stop offset=".8239" stop-color="#870098"/><stop offset=".8296" stop-color="#880099"/><stop offset=".8362" stop-color="#760087"/><stop offset=".8474" stop-color="#640073"/><stop offset=".9442" stop-color="#18001c"/><stop offset=".9639" stop-color="#110013"/><stop offset=".9996" stop-color="#0c000e"/></linearGradient>
<linearGradient id="l14" gradientUnits="userSpaceOnUse" x1="48.90" y1="0" x2="315.00" y2="0"><stop offset="0" stop-color="#640072"/><stop offset=".0028" stop-color="#640072"/><stop offset=".0038" stop-color="#0b000d"/><stop offset=".2048" stop-color="#0c000d"/><stop offset=".2057" stop-color="#0f0011"/><stop offset=".2114" stop-color="#6e007e"/><stop offset=".2123" stop-color="#780089"/><stop offset=".2217" stop-color="#870098"/><stop offset=".2227" stop-color="#82009a"/><stop offset=".2283" stop-color="#0000aa"/><stop offset=".2339" stop-color="#0000db"/><stop offset=".2349" stop-color="#000edd"/><stop offset=".2386" stop-color="#005add"/><stop offset=".2415" stop-color="#0078dd"/><stop offset=".2527" stop-color="#0098dd"/><stop offset=".2659" stop-color="#00a7b4"/><stop offset=".3251" stop-color="#00aa87"/><stop offset=".3420" stop-color="#00a563"/><stop offset=".3608" stop-color="#009f32"/><stop offset=".3739" stop-color="#009a00"/><stop offset=".4247" stop-color="#00b100"/><stop offset=".4622" stop-color="#00d300"/><stop offset=".4782" stop-color="#00e700"/><stop offset=".4923" stop-color="#00e500"/><stop offset=".5083" stop-color="#00d100"/><stop offset=".5487" stop-color="#00be00"/><stop offset=".5599" stop-color="#00b200"/><stop offset=".5712" stop-color="#009900"/><stop offset=".5815" stop-color="#00a983"/><stop offset=".5825" stop-color="#00aa8a"/><stop offset=".6079" stop-color="#00aaaa"/><stop offset=".6351" stop-color="#0098dd"/><stop offset=".6605" stop-color="#0078dd"/><stop offset=".6849" stop-color="#0000dd"/><stop offset=".7065" stop-color="#0000be"/><stop offset=".7431" stop-color="#0000ae"/><stop offset=".7441" stop-color="#00aa9c"/><stop offset=".7507" stop-color="#00aa9c"/><stop offset=".7516" stop-color="#0000ab"/><stop offset=".7591" stop-color="#0500a9"/><stop offset=".7601" stop-color="#0053dd"/><stop offset=".7666" stop-color="#0053dd"/><stop offset=".7676" stop-color="#0d00a8"/><stop offset=".7704" stop-color="#1000a8"/><stop offset=".7713" stop-color="#0085dd"/><stop offset=".7788" stop-color="#0085dd"/><stop offset=".7798" stop-color="#1800a7"/><stop offset=".7807" stop-color="#1900a7"/><stop offset=".7817" stop-color="#00aaa3"/><stop offset=".7864" stop-color="#00aaa3"/><stop offset=".7873" stop-color="#1d00a6"/><stop offset=".7958" stop-color="#2200a6"/><stop offset=".7967" stop-color="#0092dd"/><stop offset=".8042" stop-color="#0092dd"/><stop offset=".8051" stop-color="#2e00a4"/><stop offset=".8061" stop-color="#3000a4"/><stop offset=".8070" stop-color="#880099"/><stop offset=".8183" stop-color="#880099"/><stop offset=".8192" stop-color="#0000b9"/><stop offset=".8230" stop-color="#0000b9"/><stop offset=".8239" stop-color="#870098"/><stop offset=".8286" stop-color="#870098"/><stop offset=".8352" stop-color="#730084"/><stop offset=".8465" stop-color="#61006f"/><stop offset=".9433" stop-color="#17001b"/><stop offset=".9630" stop-color="#100012"/><stop offset=".9996" stop-color="#0c000e"/></linearGradient>
<linearGradient id="l15" gradientUnits="userSpaceOnUse" x1="48.90" y1="0" x2="315.00" y2="0"><stop offset="0" stop-color="#640072"/><stop offset=".0028" stop-color="#640072"/><stop offset=".0038" stop-color="#0c000d"/><stop offset=".2039" stop-color="#0c000d"/><stop offset=".2048" stop-color="#120015"/><stop offset=".2104" stop-color="#720083"/><stop offset=".2133" stop-color="#7d008e"/><stop offset=".2208" stop-color="#870098"/><stop offset=".2217" stop-color="#79009b"/><stop offset=".2264" stop-color="#0800a9"/><stop offset=".2274" stop-color="#0000b0"/><stop offset=".2321" stop-color="#0000da"/><stop offset=".2330" stop-color="#000ddd"/><stop offset=".2377" stop-color="#0070dd"/><stop offset=".2386" stop-color="#0078dd"/><stop offset=".2499" stop-color="#0098dd"/><stop offset=".2649" stop-color="#00a9af"/><stop offset=".3213" stop-color="#00aa88"/><stop offset=".3382" stop-color="#00a66a"/><stop offset=".3617" stop-color="#009f2d"/><stop offset=".3720" stop-color="#009901"/><stop offset=".4237" stop-color="#00b600"/><stop offset=".4613" stop-color="#00d700"/><stop offset=".4763" stop-color="#00eb00"/><stop offset=".4914" stop-color="#00ec00"/><stop offset=".5064" stop-color="#00da00"/><stop offset=".5477" stop-color="#00c200"/><stop offset=".5590" stop-color="#00b500"/><stop offset=".5703" stop-color="#009a00"/><stop offset=".5712" stop-color="#009a06"/><stop offset=".5815" stop-color="#00aa89"/><stop offset=".6097" stop-color="#00aaaa"/><stop offset=".6360" stop-color="#0099dd"/><stop offset=".6623" stop-color="#0075dd"/><stop offset=".6858" stop-color="#0000dd"/><stop offset=".7056" stop-color="#0000c3"/><stop offset=".7431" stop-color="#0000b1"/><stop offset=".7441" stop-color="#00aa9c"/><stop offset=".7507" stop-color="#00aa9c"/><stop offset=".7516" stop-color="#0000ae"/><stop offset=".7591" stop-color="#0000ab"/><stop offset=".7601" stop-color="#0053dd"/><stop offset=".7666" stop-color="#0053dd"/><stop offset=".7676" stop-color="#0500a9"/><stop offset=".7704" stop-color="#0700a9"/><stop offset=".7713" stop-color="#0085dd"/><stop offset=".7788" stop-color="#0085dd"/><stop offset=".7798" stop-color="#1000a8"/><stop offset=".7807" stop-color="#1100a8"/><stop offset=".7817" stop-color="#00aaa3"/><stop offset=".7864" stop-color="#00aaa3"/><stop offset=".7873" stop-color="#1800a7"/><stop offset=".7958" stop-color="#2000a6"/><stop offset=".7967" stop-color="#0092dd"/><stop offset=".8042" stop-color="#0092dd"/><stop offset=".8051" stop-color="#3200a4"/><stop offset=".8061" stop-color="#3400a3"/><stop offset=".8070" stop-color="#880099"/><stop offset=".8183" stop-color="#880099"/><stop offset=".8192" stop-color="#0000b9"/><stop offset=".8230" stop-color="#0000b9"/><stop offset=".8239" stop-color="#870098"/><stop offset=".8286" stop-color="#870098"/><stop offset=".8343" stop-color="#740084"/><stop offset=".8446" stop-color="#630071"/><stop offset=".9423" stop-color="#18001b"/><stop offset=".9611" stop-color="#110013"/><stop offset=".9996" stop-color="#0c000e"/></linearGradient>
<linearGradient id="l16" gradientUnits="userSpaceOnUse" x1="48.90" y1="0" x2="315.00" y2="0"><stop offset="0" stop-color="#640072"/><stop offset=".0028" stop-color="#640072"/><stop offset=".0038" stop-color="#0c000d"/><stop offset=".2057" stop-color="#0c000d"/><stop offset=".2067" stop-color="#120015"/><stop offset=".2123" stop-color="#720082"/><stop offset=".2151" stop-color="#7d008e"/><stop offset=".2227" stop-color="#870098"/><stop offset=".2236" stop-color="#7b009b"/><stop offset=".2283" stop-color="#0c00a8"/><stop offset=".2292" stop-color="#0000ae"/><stop offset=".2339" stop-color="#0000d7"/><stop offset=".2349" stop-color="#0006dd"/><stop offset=".2396" stop-color="#0068dd"/><stop offset=".2405" stop-color="#0073dd"/><stop offset=".2518" stop-color="#0097dd"/><stop offset=".2668" stop-color="#00aaa9"/><stop offset=".3063" stop-color="#00aa87"/><stop offset=".3241" stop-color="#00a143"/><stop offset=".3504" stop-color="#009900"/><stop offset=".3805" stop-color="#00b100"/><stop offset=".4284" stop-color="#00b600"/><stop offset=".4632" stop-color="#00d600"/><stop offset=".4791" stop-color="#00eb00"/><stop offset=".4932" stop-color="#00ea00"/><stop offset=".5083" stop-color="#00d700"/><stop offset=".5496" stop-color="#00c300"/><stop offset=".5609" stop-color="#00b500"/><stop offset=".5722" stop-color="#009900"/><stop offset=".5825" stop-color="#00aa84"/><stop offset=".5834" stop-color="#00aa8a"/><stop offset=".6097" stop-color="#00aaaa"/><stop offset=".6379" stop-color="#0098dd"/><stop offset=".6652" stop-color="#0077dd"/><stop offset=".6755" stop-color="#0047dd"/><stop offset=".6877" stop-color="#0001dd"/><stop offset=".6887" stop-color="#0000db"/><stop offset=".7074" stop-color="#0000bf"/><stop offset=".7431" stop-color="#0000af"/><stop offset=".7441" stop-color="#00aa9c"/><stop offset=".7507" stop-color="#00aa9c"/><stop offset=".7516" stop-color="#0000ad"/><stop offset=".7591" stop-color="#0000ac"/><stop offset=".7601" stop-color="#0053dd"/><stop offset=".7666" stop-color="#0053dd"/><stop offset=".7676" stop-color="#0100aa"/><stop offset=".7704" stop-color="#0300aa"/><stop offset=".7713" stop-color="#0085dd"/><stop offset=".7788" stop-color="#0085dd"/><stop offset=".7798" stop-color="#0a00a9"/><stop offset=".7807" stop-color="#0b00a9"/><stop offset=".7817" stop-color="#00aaa3"/><stop offset=".7864" stop-color="#00aaa3"/><stop offset=".7873" stop-color="#1300a8"/><stop offset=".7958" stop-color="#1d00a6"/><stop offset=".7967" stop-color="#0092dd"/><stop offset=".8042" stop-color="#0092dd"/><stop offset=".8051" stop-color="#2d00a4"/><stop offset=".8061" stop-color="#3000a4"/><stop offset=".8070" stop-color="#880099"/><stop offset=".8183" stop-color="#880099"/><stop offset=".8192" stop-color="#0000b9"/><stop offset=".8230" stop-color="#0000b9"/><stop offset=".8239" stop-color="#870098"/><stop offset=".8286" stop-color="#870098"/><stop offset=".8362" stop-color="#750085"/><stop offset=".8465" stop-color="#640072"/><stop offset=".9442" stop-color="#18001b"/><stop offset=".9630" stop-color="#110013"/><stop offset=".9996" stop-color="#0c000e"/></linearGradient>
<linearGradient id="l17" gradientUnits="userSpaceOnUse" x1="48.90" y1="0" x2="315.00" y2="0"><stop offset="0" stop-color="#640072"/><stop offset=".0028" stop-color="#640072"/><stop offset=".0038" stop-color="#0c000e"/><stop offset=".2086" stop-color="#0b000d"/><stop offset=".2151" stop-color="#770088"/><stop offset=".2255" stop-color="#880099"/><stop offset=".2311" stop-color="#0400aa"/><stop offset=".2368" stop-color="#0000da"/><stop offset=".2377" stop-color="#000ddd"/><stop offset=".2415" stop-color="#005bdd"/><stop offset=".2433" stop-color="#0075dd"/><stop offset=".2546" stop-color="#0097dd"/><stop offset=".2678" stop-color="#00a8af"/><stop offset=".2706" stop-color="#00aaaa"/><stop offset=".3166" stop-color="#00aa88"/><stop offset=".3269" stop-color="#00a669"/><stop offset=".3382" stop-color="#00a456"/><stop offset=".3457" stop-color="#00a144"/><stop offset=".3683" stop-color="#009900"/><stop offset=".3833" stop-color="#00a800"/><stop offset=".4284" stop-color="#00b300"/><stop offset=".4651" stop-color="#00d300"/><stop offset=".4810" stop-color="#00e800"/><stop offset=".4951" stop-color="#00e800"/><stop offset=".5111" stop-color="#00d600"/><stop offset=".5524" stop-color="#00bf00"/><stop offset=".5637" stop-color="#00b200"/><stop offset=".5740" stop-color="#009900"/><stop offset=".5853" stop-color="#00aa89"/><stop offset=".6126" stop-color="#00aaaa"/><stop offset=".6389" stop-color="#0099dd"/><stop offset=".6652" stop-color="#0077dd"/><stop offset=".6887" stop-color="#0001dd"/><stop offset=".6896" stop-color="#0000db"/><stop offset=".7103" stop-color="#0000bf"/><stop offset=".7431" stop-color="#0000af"/><stop offset=".7441" stop-color="#00aa9c"/><stop offset=".7507" stop-color="#00aa9c"/><stop offset=".7516" stop-color="#0000ad"/><stop offset=".7591" stop-color="#0000ac"/><stop offset=".7601" stop-color="#0053dd"/><stop offset=".7666" stop-color="#0053dd"/><stop offset=".7676" stop-color="#0100aa"/><stop offset=".7704" stop-color="#0200aa"/><stop offset=".7713" stop-color="#0085dd"/><stop offset=".7788" stop-color="#0085dd"/><stop offset=".7798" stop-color="#0900a9"/><stop offset=".7807" stop-color="#0a00a9"/><stop offset=".7817" stop-color="#00aaa3"/><stop offset=".7864" stop-color="#00aaa3"/><stop offset=".7873" stop-color="#1100a8"/><stop offset=".7958" stop-color="#1900a7"/><stop offset=".7967" stop-color="#0092dd"/><stop offset=".8042" stop-color="#0092dd"/><stop offset=".8051" stop-color="#2500a5"/><stop offset=".8061" stop-color="#2700a5"/><stop offset=".8070" stop-color="#880099"/><stop offset=".8183" stop-color="#880099"/><stop offset=".8192" stop-color="#0000b9"/><stop offset=".8230" stop-color="#0000b9"/><stop offset=".8239" stop-color="#870098"/><stop offset=".8286" stop-color="#870098"/><stop offset=".8296" stop-color="#79009b"/><stop offset=".8315" stop-color="#870098"/><stop offset=".8380" stop-color="#740085"/><stop offset=".8493" stop-color="#620070"/><stop offset=".9461" stop-color="#18001b"/><stop offset=".9658" stop-color="#100013"/><stop offset=".9996" stop-color="#0d000e"/></linearGradient>
<linearGradient id="l18" gradientUnits="userSpaceOnUse" x1="48.90" y1="0" x2="315.00" y2="0"><stop offset="0" stop-color="#640072"/><stop offset=".0028" stop-color="#640072"/><stop offset=".0038" stop-color="#0c000e"/><stop offset=".2048" stop-color="#0c000e"/><stop offset=".2057" stop-color="#0f0011"/><stop offset=".2114" stop-color="#700080"/><stop offset=".2123" stop-color="#780089"/><stop offset=".2217" stop-color="#870098"/><stop offset=".2227" stop-color="#7c009a"/><stop offset=".2274" stop-color="#0c00a9"/><stop offset=".2283" stop-color="#0000ae"/><stop offset=".2330" stop-color="#0000d8"/><stop offset=".2339" stop-color="#0009dd"/><stop offset=".2386" stop-color="#006bdd"/><stop offset=".2396" stop-color="#0077dd"/><stop offset=".2518" stop-color="#0098dd"/><stop offset=".2659" stop-color="#00aaab"/><stop offset=".2950" stop-color="#00aa88"/><stop offset=".3044" stop-color="#00a562"/><stop offset=".3232" stop-color="#009d21"/><stop offset=".3382" stop-color="#009900"/><stop offset=".3805" stop-color="#00bc00"/><stop offset=".4021" stop-color="#00c000"/><stop offset=".4284" stop-color="#00bc00"/><stop offset=".4622" stop-color="#00da00"/><stop offset=".4782" stop-color="#00ee00"/><stop offset=".4923" stop-color="#00ed00"/><stop offset=".5083" stop-color="#00da00"/><stop offset=".5487" stop-color="#00c500"/><stop offset=".5599" stop-color="#00b700"/><stop offset=".5722" stop-color="#009900"/><stop offset=".5825" stop-color="#00aa86"/><stop offset=".5834" stop-color="#00aa89"/><stop offset=".6107" stop-color="#00aaab"/><stop offset=".6370" stop-color="#0098dd"/><stop offset=".6642" stop-color="#0078dd"/><stop offset=".6755" stop-color="#0046dd"/><stop offset=".6877" stop-color="#0000dd"/><stop offset=".6887" stop-color="#0000db"/><stop offset=".7074" stop-color="#0000c1"/><stop offset=".7431" stop-color="#0000b2"/><stop offset=".7441" stop-color="#00aa9c"/><stop offset=".7507" stop-color="#00aa9c"/><stop offset=".7516" stop-color="#0000af"/><stop offset=".7591" stop-color="#0000ad"/><stop offset=".7601" stop-color="#0053dd"/><stop offset=".7666" stop-color="#0053dd"/><stop offset=".7676" stop-color="#0000aa"/><stop offset=".7704" stop-color="#0300aa"/><stop offset=".7713" stop-color="#0085dd"/><stop offset=".7788" stop-color="#0085dd"/><stop offset=".7798" stop-color="#0c00a9"/><stop offset=".7807" stop-color="#0d00a8"/><stop offset=".7817" stop-color="#00aaa3"/><stop offset=".7864" stop-color="#00aaa3"/><stop offset=".7873" stop-color="#1300a8"/><stop offset=".7958" stop-color="#1b00a7"/><stop offset=".7967" stop-color="#0092dd"/><stop offset=".8042" stop-color="#0092dd"/><stop offset=".8051" stop-color="#2a00a5"/><stop offset=".8061" stop-color="#2c00a4"/><stop offset=".8070" stop-color="#880099"/><stop offset=".8183" stop-color="#880099"/><stop offset=".8192" stop-color="#0000b9"/><stop offset=".8230" stop-color="#0000b9"/><stop offset=".8239" stop-color="#870098"/><stop offset=".8286" stop-color="#870098"/><stop offset=".8352" stop-color="#760087"/><stop offset=".8465" stop-color="#640072"/><stop offset=".9433" stop-color="#18001b"/><stop offset=".9630" stop-color="#100013"/><stop offset=".9996" stop-color="#0c000e"/></linearGradient>
<linearGradient id="l19" gradientUnits="userSpaceOnUse" x1="48.90" y1="0" x2="315.00" y2="0"><stop offset="0" stop-color="#640072"/><stop offset=".0028" stop-color="#640072"/><stop offset=".0038" stop-color="#0e0010"/><stop offset=".1127" stop-color="#110014"/><stop offset=".2104" stop-color="#0b000d"/><stop offset=".2227" stop-color="#210026"/><stop offset=".3006" stop-color="#3d0046"/><stop offset=".3786" stop-color="#4f005a"/><stop offset=".3796" stop-color="#770088"/><stop offset=".3824" stop-color="#770088"/><stop offset=".3833" stop-color="#4f005a"/><stop offset=".4510" stop-color="#4b0055"/><stop offset=".5111" stop-color="#50005c"/><stop offset=".5675" stop-color="#320039"/><stop offset=".6764" stop-color="#2d0034"/><stop offset=".7516" stop-color="#16001a"/><stop offset=".7892" stop-color="#1b001f"/><stop offset=".8643" stop-color="#120014"/><stop offset=".9395" stop-color="#140016"/><stop offset=".9996" stop-color="#0d000e"/></linearGradient>
<linearGradient id="l20" gradientUnits="userSpaceOnUse" x1="48.90" y1="0" x2="315.00" y2="0"><stop offset="0" stop-color="#640072"/><stop offset=".0028" stop-color="#640072"/><stop offset=".0038" stop-color="#0c000e"/><stop offset=".1945" stop-color="#0c000e"/><stop offset=".1954" stop-color="#210026"/><stop offset=".1964" stop-color="#550061"/><stop offset=".1973" stop-color="#7a008b"/><stop offset=".2001" stop-color="#860097"/><stop offset=".2011" stop-color="#80009a"/><stop offset=".2029" stop-color="#56009f"/><stop offset=".2048" stop-color="#0000ac"/><stop offset=".2067" stop-color="#0000d3"/><stop offset=".2076" stop-color="#0021dd"/><stop offset=".2086" stop-color="#0058dd"/><stop offset=".2095" stop-color="#007edd"/><stop offset=".2104" stop-color="#008edd"/><stop offset=".2114" stop-color="#009cd3"/><stop offset=".2123" stop-color="#00a6b5"/><stop offset=".2142" stop-color="#00aa89"/><stop offset=".2151" stop-color="#00a13e"/><stop offset=".2161" stop-color="#009c00"/><stop offset=".2217" stop-color="#00ea00"/><stop offset=".2236" stop-color="#03ff00"/><stop offset=".2255" stop-color="#71ff00"/><stop offset=".2274" stop-color="#a8ff00"/><stop offset=".2283" stop-color="#bdfe00"/><stop offset=".2321" stop-color="#dbf400"/><stop offset=".2368" stop-color="#eeed00"/><stop offset=".2499" stop-color="#ffca00"/><stop offset=".2649" stop-color="#ff9600"/><stop offset=".2800" stop-color="#ff2700"/><stop offset=".2884" stop-color="#ff0000"/><stop offset=".3720" stop-color="#ee0000"/><stop offset=".4162" stop-color="#dd0000"/><stop offset=".4820" stop-color="#e10000"/><stop offset=".5383" stop-color="#ff0000"/><stop offset=".5552" stop-color="#ff4500"/><stop offset=".5665" stop-color="#ff8500"/><stop offset=".5712" stop-color="#ff9900"/><stop offset=".5966" stop-color="#ffcc00"/><stop offset=".6266" stop-color="#eeee00"/><stop offset=".6539" stop-color="#bcff00"/><stop offset=".6548" stop-color="#b6ff00"/><stop offset=".6699" stop-color="#00ff00"/><stop offset=".6877" stop-color="#00dd00"/><stop offset=".7300" stop-color="#00a800"/><stop offset=".7375" stop-color="#009a00"/><stop offset=".7384" stop-color="#00aaa3"/><stop offset=".7422" stop-color="#00aaa3"/><stop offset=".7431" stop-color="#00a035"/><stop offset=".7460" stop-color="#00a45b"/><stop offset=".7469" stop-color="#009900"/><stop offset=".7507" stop-color="#009900"/><stop offset=".7516" stop-color="#00aa8e"/><stop offset=".7535" stop-color="#00aa93"/><stop offset=".7544" stop-color="#00aaa3"/><stop offset=".7601" stop-color="#00aaa4"/><stop offset=".7610" stop-color="#009c1b"/><stop offset=".7629" stop-color="#009c1b"/><stop offset=".7638" stop-color="#00a8b0"/><stop offset=".7835" stop-color="#00a2c3"/><stop offset=".7845" stop-color="#008bdd"/><stop offset=".7882" stop-color="#008bdd"/><stop offset=".7892" stop-color="#00a0c9"/><stop offset=".7967" stop-color="#009cd4"/><stop offset=".7976" stop-color="#0085dd"/><stop offset=".8051" stop-color="#0086dd"/><stop offset=".8070" stop-color="#007add"/><stop offset=".8080" stop-color="#006ddd"/><stop offset=".8098" stop-color="#0048dd"/><stop offset=".8164" stop-color="#0007dd"/><stop offset=".8174" stop-color="#0000dd"/><stop offset=".8192" stop-color="#0000d6"/><stop offset=".8202" stop-color="#0099dd"/><stop offset=".8221" stop-color="#0099dd"/><stop offset=".8230" stop-color="#0000c9"/><stop offset=".8324" stop-color="#0100aa"/><stop offset=".8362" stop-color="#2100a6"/><stop offset=".8465" stop-color="#6d009c"/><stop offset=".8578" stop-color="#880099"/><stop offset=".9320" stop-color="#770088"/><stop offset=".9451" stop-color="#470051"/><stop offset=".9630" stop-color="#25002a"/><stop offset=".9827" stop-color="#130015"/><stop offset=".9996" stop-color="#0d000f"/></linearGradient>
<linearGradient id="l21" gradientUnits="userSpaceOnUse" x1="48.90" y1="0" x2="315.00" y2="0"><stop offset="0" stop-color="#640072"/><stop offset=".0028" stop-color="#640072"/><stop offset=".0038" stop-color="#0c000e"/><stop offset=".1945" stop-color="#0c000e"/><stop offset=".1954" stop-color="#210026"/><stop offset=".1964" stop-color="#560063"/><stop offset=".1973" stop-color="#7a008b"/><stop offset=".2001" stop-color="#870098"/><stop offset=".2011" stop-color="#7b009b"/><stop offset=".2029" stop-color="#4f00a0"/><stop offset=".2039" stop-color="#2200a6"/><stop offset=".2048" stop-color="#0000af"/><stop offset=".2067" stop-color="#0000d7"/><stop offset=".2076" stop-color="#002add"/><stop offset=".2086" stop-color="#0062dd"/><stop offset=".2095" stop-color="#0081dd"/><stop offset=".2104" stop-color="#0091dd"/><stop offset=".2114" stop-color="#009ecf"/><stop offset=".2123" stop-color="#00a8b1"/><stop offset=".2142" stop-color="#00a983"/><stop offset=".2151" stop-color="#009f33"/><stop offset=".2161" stop-color="#009e00"/><stop offset=".2227" stop-color="#00f800"/><stop offset=".2236" stop-color="#0fff00"/><stop offset=".2255" stop-color="#7cff00"/><stop offset=".2274" stop-color="#b3ff00"/><stop offset=".2283" stop-color="#c0fd00"/><stop offset=".2321" stop-color="#ddf400"/><stop offset=".2358" stop-color="#edee00"/><stop offset=".2490" stop-color="#ffcc00"/><stop offset=".2640" stop-color="#ff9b00"/><stop offset=".2800" stop-color="#ff2300"/><stop offset=".2865" stop-color="#ff0000"/><stop offset=".3044" stop-color="#f80000"/><stop offset=".3382" stop-color="#f80000"/><stop offset=".4162" stop-color="#de0000"/><stop offset=".4397" stop-color="#de0000"/><stop offset=".4829" stop-color="#e10000"/><stop offset=".5421" stop-color="#ff0000"/><stop offset=".5552" stop-color="#ff3500"/><stop offset=".5665" stop-color="#ff7300"/><stop offset=".5750" stop-color="#ff9800"/><stop offset=".5994" stop-color="#ffcc00"/><stop offset=".6295" stop-color="#eeee00"/><stop offset=".6548" stop-color="#bcff00"/><stop offset=".6699" stop-color="#03ff00"/><stop offset=".6708" stop-color="#00fd00"/><stop offset=".6877" stop-color="#00dd00"/><stop offset=".7300" stop-color="#00a800"/><stop offset=".7375" stop-color="#009a00"/><stop offset=".7384" stop-color="#00aaa3"/><stop offset=".7422" stop-color="#00aaa3"/><stop offset=".7431" stop-color="#009f32"/><stop offset=".7460" stop-color="#00a459"/><stop offset=".7469" stop-color="#009900"/><stop offset=".7507" stop-color="#009900"/><stop offset=".7516" stop-color="#00aa8e"/><stop offset=".7535" stop-color="#00aa93"/><stop offset=".7544" stop-color="#00aaa3"/><stop offset=".7601" stop-color="#00aaa4"/><stop offset=".7610" stop-color="#009c1b"/><stop offset=".7629" stop-color="#009c1b"/><stop offset=".7638" stop-color="#00a8b0"/><stop offset=".7835" stop-color="#00a1c4"/><stop offset=".7845" stop-color="#008bdd"/><stop offset=".7882" stop-color="#008bdd"/><stop offset=".7892" stop-color="#009fca"/><stop offset=".7967" stop-color="#009cd4"/><stop offset=".7976" stop-color="#0085dd"/><stop offset=".8051" stop-color="#0086dd"/><stop offset=".8070" stop-color="#007add"/><stop offset=".8080" stop-color="#006edd"/><stop offset=".8098" stop-color="#0049dd"/><stop offset=".8164" stop-color="#0009dd"/><stop offset=".8174" stop-color="#0001dd"/><stop offset=".8192" stop-color="#0000d7"/><stop offset=".8202" stop-color="#0099dd"/><stop offset=".8221" stop-color="#0099dd"/><stop offset=".8230" stop-color="#0000ca"/><stop offset=".8324" stop-color="#0000ab"/><stop offset=".8465" stop-color="#6a009d"/><stop offset=".8587" stop-color="#880099"/><stop offset=".9320" stop-color="#770088"/><stop offset=".9451" stop-color="#460050"/><stop offset=".9630" stop-color="#25002a"/><stop offset=".9827" stop-color="#130016"/><stop offset=".9996" stop-color="#0e0010"/></linearGradient>
<linearGradient id="r0" gradientUnits="userSpaceOnUse" x1="327.90" y1="0" x2="595.00" y2="0"><stop offset="0" stop-color="#00c900"/><stop offset=".0028" stop-color="#00c900"/><stop offset=".0037" stop-color="#6b007a"/><stop offset=".0066" stop-color="#6b007a"/><stop offset=".0075" stop-color="#1c0020"/><stop offset=".1937" stop-color="#1c0020"/><stop offset=".1947" stop-color="#27002d"/><stop offset=".1975" stop-color="#770088"/><stop offset=".2022" stop-color="#860097"/><stop offset=".2031" stop-color="#7f009a"/><stop offset=".2078" stop-color="#0e00a8"/><stop offset=".2087" stop-color="#0000af"/><stop offset=".2115" stop-color="#0000d3"/><stop offset=".2125" stop-color="#0003dd"/><stop offset=".2134" stop-color="#001fdd"/><stop offset=".2153" stop-color="#007fdd"/><stop offset=".2162" stop-color="#0092dd"/><stop offset=".2171" stop-color="#009fcc"/><stop offset=".2181" stop-color="#00a9ae"/><stop offset=".2190" stop-color="#00aa98"/><stop offset=".2200" stop-color="#00a878"/><stop offset=".2209" stop-color="#009e26"/><stop offset=".2218" stop-color="#009f00"/><stop offset=".2293" stop-color="#00fb00"/><stop offset=".2303" stop-color="#2dff00"/><stop offset=".2312" stop-color="#63ff00"/><stop offset=".2331" stop-color="#bdfe00"/><stop offset=".2340" stop-color="#cafa00"/><stop offset=".2387" stop-color="#eeee00"/><stop offset=".2480" stop-color="#ffca00"/><stop offset=".2574" stop-color="#ff9600"/><stop offset=".2602" stop-color="#ff6800"/><stop offset=".2639" stop-color="#ff1000"/><stop offset=".2649" stop-color="#ff0600"/><stop offset=".2677" stop-color="#ff0000"/><stop offset=".3154" stop-color="#df0000"/><stop offset=".4446" stop-color="#cc0101"/><stop offset=".4502" stop-color="#cc0d0d"/><stop offset=".4699" stop-color="#cc0000"/><stop offset=".5054" stop-color="#cc0808"/><stop offset=".5129" stop-color="#cc0404"/><stop offset=".5139" stop-color="#cd0000"/><stop offset=".5251" stop-color="#de0000"/><stop offset=".5560" stop-color="#fe0000"/><stop offset=".5588" stop-color="#ff0a00"/><stop offset=".5691" stop-color="#ff4400"/><stop offset=".5766" stop-color="#ff8000"/><stop offset=".5822" stop-color="#ff9700"/><stop offset=".5953" stop-color="#ffb800"/><stop offset=".6065" stop-color="#ffcc00"/><stop offset=".6290" stop-color="#f2e600"/><stop offset=".6440" stop-color="#efed00"/><stop offset=".6636" stop-color="#b7ff00"/><stop offset=".6814" stop-color="#04ff00"/><stop offset=".6823" stop-color="#00fe00"/><stop offset=".7188" stop-color="#00bc00"/><stop offset=".7450" stop-color="#00a900"/><stop offset=".7460" stop-color="#00a352"/><stop offset=".7497" stop-color="#00a352"/><stop offset=".7507" stop-color="#00a400"/><stop offset=".7544" stop-color="#00a100"/><stop offset=".7553" stop-color="#00a352"/><stop offset=".7581" stop-color="#00a352"/><stop offset=".7591" stop-color="#009d00"/><stop offset=".7638" stop-color="#009a00"/><stop offset=".7647" stop-color="#00aa88"/><stop offset=".7675" stop-color="#00aa88"/><stop offset=".7684" stop-color="#009b0d"/><stop offset=".7731" stop-color="#009c1c"/><stop offset=".7741" stop-color="#00a76d"/><stop offset=".7769" stop-color="#00a76d"/><stop offset=".7778" stop-color="#009e2b"/><stop offset=".7825" stop-color="#00a03a"/><stop offset=".7834" stop-color="#00aa8f"/><stop offset=".7862" stop-color="#00aa8f"/><stop offset=".7872" stop-color="#00a249"/><stop offset=".7918" stop-color="#00a458"/><stop offset=".7928" stop-color="#00aa88"/><stop offset=".7956" stop-color="#00aa88"/><stop offset=".7965" stop-color="#00a667"/><stop offset=".8012" stop-color="#00a877"/><stop offset=".8021" stop-color="#00aa96"/><stop offset=".8049" stop-color="#00aa96"/><stop offset=".8059" stop-color="#00aa86"/><stop offset=".8096" stop-color="#00aa8c"/><stop offset=".8180" stop-color="#00aaa9"/><stop offset=".8237" stop-color="#00a3bf"/><stop offset=".8283" stop-color="#0098dd"/><stop offset=".8349" stop-color="#0078dd"/><stop offset=".8433" stop-color="#002edd"/><stop offset=".8639" stop-color="#0000dd"/><stop offset=".8882" stop-color="#0000ce"/><stop offset=".9210" stop-color="#0000ab"/><stop offset=".9407" stop-color="#880099"/><stop offset=".9734" stop-color="#770088"/><stop offset=".9959" stop-color="#1e0022"/><stop offset=".9996" stop-color="#18001b"/></linearGradient>
<linearGradient id="r1" gradientUnits="userSpaceOnUse" x1="327.90" y1="0" x2="595.00" y2="0"><stop offset="0" stop-color="#0085dd"/><stop offset=".0028" stop-color="#0085dd"/><stop offset=".0037" stop-color="#6b007a"/><stop offset=".0066" stop-color="#6b007a"/><stop offset=".0075" stop-color="#1c0020"/><stop offset=".1947" stop-color="#1d0021"/><stop offset=".1956" stop-color="#220027"/><stop offset=".1984" stop-color="#770088"/><stop offset=".2031" stop-color="#860097"/><stop offset=".2040" stop-color="#7f009a"/><stop offset=".2087" stop-color="#0d00a8"/><stop offset=".2097" stop-color="#0000af"/><stop offset=".2125" stop-color="#0000d3"/><stop offset=".2134" stop-color="#0004dd"/><stop offset=".2143" stop-color="#0020dd"/><stop offset=".2162" stop-color="#007ddd"/><stop offset=".2171" stop-color="#0090dd"/><stop offset=".2181" stop-color="#009ece"/><stop offset=".2190" stop-color="#00a8b1"/><stop offset=".2209" stop-color="#00a980"/><stop offset=".2218" stop-color="#009f2e"/><stop offset=".2228" stop-color="#009e00"/><stop offset=".2303" stop-color="#00fb00"/><stop offset=".2312" stop-color="#2aff00"/><stop offset=".2321" stop-color="#64ff00"/><stop offset=".2340" stop-color="#bdfe00"/><stop offset=".2349" stop-color="#cafa00"/><stop offset=".2396" stop-color="#eeed00"/><stop offset=".2490" stop-color="#ffc900"/><stop offset=".2574" stop-color="#ff9c00"/><stop offset=".2583" stop-color="#ff9200"/><stop offset=".2621" stop-color="#ff5200"/><stop offset=".2649" stop-color="#ff0e00"/><stop offset=".2658" stop-color="#ff0000"/><stop offset=".3164" stop-color="#dc0000"/><stop offset=".4474" stop-color="#cc0000"/><stop offset=".4511" stop-color="#cc0808"/><stop offset=".4867" stop-color="#cc0000"/><stop offset=".5148" stop-color="#cd0000"/><stop offset=".5260" stop-color="#dd0000"/><stop offset=".5588" stop-color="#ff0000"/><stop offset=".5700" stop-color="#ff4100"/><stop offset=".5784" stop-color="#ff8300"/><stop offset=".5841" stop-color="#ff9900"/><stop offset=".5972" stop-color="#ffba00"/><stop offset=".6075" stop-color="#ffcc00"/><stop offset=".6299" stop-color="#f1e800"/><stop offset=".6421" stop-color="#eeee00"/><stop offset=".6458" stop-color="#ebef00"/><stop offset=".6636" stop-color="#b9ff00"/><stop offset=".6823" stop-color="#00ff00"/><stop offset=".7198" stop-color="#00bb00"/><stop offset=".7450" stop-color="#00ad00"/><stop offset=".7460" stop-color="#00a352"/><stop offset=".7497" stop-color="#00a352"/><stop offset=".7507" stop-color="#00a800"/><stop offset=".7544" stop-color="#00a500"/><stop offset=".7553" stop-color="#00a352"/><stop offset=".7581" stop-color="#00a352"/><stop offset=".7591" stop-color="#00a100"/><stop offset=".7638" stop-color="#009e00"/><stop offset=".7647" stop-color="#00aa88"/><stop offset=".7675" stop-color="#00aa88"/><stop offset=".7684" stop-color="#009a00"/><stop offset=".7694" stop-color="#009900"/><stop offset=".7731" stop-color="#009b0d"/><stop offset=".7741" stop-color="#00a76d"/><stop offset=".7769" stop-color="#00a76d"/><stop offset=".7778" stop-color="#009d1d"/><stop offset=".7825" stop-color="#009f2e"/><stop offset=".7834" stop-color="#00aa8f"/><stop offset=".7862" stop-color="#00aa8f"/><stop offset=".7872" stop-color="#00a13f"/><stop offset=".7918" stop-color="#00a350"/><stop offset=".7928" stop-color="#00aa88"/><stop offset=".7956" stop-color="#00aa88"/><stop offset=".7965" stop-color="#00a561"/><stop offset=".8012" stop-color="#00a772"/><stop offset=".8021" stop-color="#00aa96"/><stop offset=".8049" stop-color="#00aa96"/><stop offset=".8059" stop-color="#00a983"/><stop offset=".8106" stop-color="#00aa8c"/><stop offset=".8190" stop-color="#00aaa8"/><stop offset=".8246" stop-color="#00a3be"/><stop offset=".8293" stop-color="#0099dd"/><stop offset=".8368" stop-color="#0073dd"/><stop offset=".8443" stop-color="#002fdd"/><stop offset=".8611" stop-color="#0001dd"/><stop offset=".9070" stop-color="#0000bf"/><stop offset=".9219" stop-color="#0000ab"/><stop offset=".9229" stop-color="#0200aa"/><stop offset=".9416" stop-color="#880099"/><stop offset=".9744" stop-color="#770088"/><stop offset=".9968" stop-color="#1f0023"/><stop offset=".9996" stop-color="#1a001e"/></linearGradient>
<linearGradient id="r2" gradientUnits="userSpaceOnUse" x1="327.90" y1="0" x2="595.00" y2="0"><stop offset="0" stop-color="#810092"/><stop offset=".0028" stop-color="#810092"/><stop offset=".0037" stop-color="#6b007a"/><stop offset=".0066" stop-color="#6b007a"/><stop offset=".0075" stop-color="#0e0010"/><stop offset=".1123" stop-color="#09000a"/><stop offset=".1956" stop-color="#0f0012"/><stop offset=".2621" stop-color="#240029"/><stop offset=".2995" stop-color="#210025"/><stop offset=".3370" stop-color="#27002d"/><stop offset=".3744" stop-color="#25002b"/><stop offset=".4568" stop-color="#2c0033"/><stop offset=".5990" stop-color="#17001b"/><stop offset=".7113" stop-color="#1d0021"/><stop offset=".7488" stop-color="#1b001f"/><stop offset=".7862" stop-color="#130015"/><stop offset=".9360" stop-color="#130016"/><stop offset=".9996" stop-color="#08000a"/></linearGradient>
<linearGradient id="r3" gradientUnits="userSpaceOnUse" x1="327.90" y1="0" x2="595.00" y2="0"><stop offset="0" stop-color="#00c900"/><stop offset=".0028" stop-color="#00c900"/><stop offset=".0037" stop-color="#6b007a"/><stop offset=".0066" stop-color="#6b007a"/><stop offset=".0075" stop-color="#18001b"/><stop offset=".2087" stop-color="#18001b"/><stop offset=".2134" stop-color="#43004d"/><stop offset=".2162" stop-color="#750085"/><stop offset=".2246" stop-color="#870098"/><stop offset=".2256" stop-color="#7b009b"/><stop offset=".2293" stop-color="#0b00a9"/><stop offset=".2303" stop-color="#0000b0"/><stop offset=".2340" stop-color="#0000d6"/><stop offset=".2349" stop-color="#0005dd"/><stop offset=".2405" stop-color="#0077dd"/><stop offset=".2480" stop-color="#0098dd"/><stop offset=".2593" stop-color="#00aaa7"/><stop offset=".2714" stop-color="#00aa89"/><stop offset=".2742" stop-color="#00a771"/><stop offset=".2845" stop-color="#00a037"/><stop offset=".2995" stop-color="#009a00"/><stop offset=".3117" stop-color="#00a400"/><stop offset=".4118" stop-color="#00c500"/><stop offset=".4530" stop-color="#00e200"/><stop offset=".4680" stop-color="#00e200"/><stop offset=".4802" stop-color="#00f300"/><stop offset=".5054" stop-color="#00fb00"/><stop offset=".5550" stop-color="#00f400"/><stop offset=".5859" stop-color="#00ca00"/><stop offset=".5915" stop-color="#00aa00"/><stop offset=".5953" stop-color="#009b00"/><stop offset=".5962" stop-color="#009a08"/><stop offset=".6009" stop-color="#00a563"/><stop offset=".6018" stop-color="#00a76d"/><stop offset=".6084" stop-color="#00aa88"/><stop offset=".6468" stop-color="#00aaaa"/><stop offset=".6767" stop-color="#0098dd"/><stop offset=".7048" stop-color="#0078dd"/><stop offset=".7142" stop-color="#0032dd"/><stop offset=".7235" stop-color="#0000dd"/><stop offset=".7338" stop-color="#0000c9"/><stop offset=".7441" stop-color="#0000bd"/><stop offset=".7450" stop-color="#009900"/><stop offset=".7507" stop-color="#009900"/><stop offset=".7516" stop-color="#0099dd"/><stop offset=".7535" stop-color="#0099dd"/><stop offset=".7544" stop-color="#0000bb"/><stop offset=".7591" stop-color="#0000b9"/><stop offset=".7600" stop-color="#00a352"/><stop offset=".7675" stop-color="#00a352"/><stop offset=".7684" stop-color="#00aa96"/><stop offset=".7815" stop-color="#00aa96"/><stop offset=".7825" stop-color="#009900"/><stop offset=".7900" stop-color="#009900"/><stop offset=".7909" stop-color="#00aa96"/><stop offset=".7965" stop-color="#00aa96"/><stop offset=".7975" stop-color="#009900"/><stop offset=".8049" stop-color="#009900"/><stop offset=".8059" stop-color="#0600a9"/><stop offset=".8068" stop-color="#0800a9"/><stop offset=".8077" stop-color="#008bdd"/><stop offset=".8190" stop-color="#008bdd"/><stop offset=".8199" stop-color="#2b00a5"/><stop offset=".8237" stop-color="#3400a3"/><stop offset=".8246" stop-color="#0085dd"/><stop offset=".8265" stop-color="#0085dd"/><stop offset=".8274" stop-color="#73009c"/><stop offset=".8283" stop-color="#840099"/><stop offset=".8293" stop-color="#880099"/><stop offset=".8686" stop-color="#770088"/><stop offset=".9622" stop-color="#220027"/><stop offset=".9996" stop-color="#140017"/></linearGradient>
<linearGradient id="r4" gradientUnits="userSpaceOnUse" x1="327.90" y1="0" x2="595.00" y2="0"><stop offset="0" stop-color="#00c900"/><stop offset=".0028" stop-color="#00c900"/><stop offset=".0037" stop-color="#6b007a"/><stop offset=".0066" stop-color="#6b007a"/><stop offset=".0075" stop-color="#18001b"/><stop offset=".2087" stop-color="#18001b"/><stop offset=".2134" stop-color="#44004e"/><stop offset=".2162" stop-color="#760087"/><stop offset=".2246" stop-color="#870098"/><stop offset=".2256" stop-color="#77009b"/><stop offset=".2293" stop-color="#0600a9"/><stop offset=".2303" stop-color="#0000b1"/><stop offset=".2340" stop-color="#0000d8"/><stop offset=".2349" stop-color="#000add"/><stop offset=".2396" stop-color="#006ddd"/><stop offset=".2405" stop-color="#0079dd"/><stop offset=".2480" stop-color="#009ada"/><stop offset=".2583" stop-color="#00aaa7"/><stop offset=".2705" stop-color="#00aa89"/><stop offset=".2742" stop-color="#00a668"/><stop offset=".2845" stop-color="#009f33"/><stop offset=".2995" stop-color="#009900"/><stop offset=".3117" stop-color="#00a300"/><stop offset=".3370" stop-color="#00a800"/><stop offset=".4118" stop-color="#00c700"/><stop offset=".4530" stop-color="#00e600"/><stop offset=".4680" stop-color="#00e500"/><stop offset=".4792" stop-color="#00f600"/><stop offset=".4951" stop-color="#00fd00"/><stop offset=".5316" stop-color="#00fc00"/><stop offset=".5550" stop-color="#00f600"/><stop offset=".5859" stop-color="#00ca00"/><stop offset=".5915" stop-color="#00a900"/><stop offset=".5953" stop-color="#009900"/><stop offset=".5962" stop-color="#009b0d"/><stop offset=".6009" stop-color="#00a66a"/><stop offset=".6018" stop-color="#00a774"/><stop offset=".6065" stop-color="#00aa88"/><stop offset=".6430" stop-color="#00aaab"/><stop offset=".6776" stop-color="#0099dd"/><stop offset=".7048" stop-color="#0076dd"/><stop offset=".7142" stop-color="#0031dd"/><stop offset=".7244" stop-color="#0000dc"/><stop offset=".7441" stop-color="#0000c1"/><stop offset=".7450" stop-color="#009900"/><stop offset=".7507" stop-color="#009900"/><stop offset=".7516" stop-color="#0099dd"/><stop offset=".7535" stop-color="#0099dd"/><stop offset=".7544" stop-color="#0000bd"/><stop offset=".7591" stop-color="#0000bb"/><stop offset=".7600" stop-color="#00a352"/><stop offset=".7675" stop-color="#00a352"/><stop offset=".7684" stop-color="#00aa96"/><stop offset=".7815" stop-color="#00aa96"/><stop offset=".7825" stop-color="#009900"/><stop offset=".7900" stop-color="#009900"/><stop offset=".7909" stop-color="#00aa96"/><stop offset=".7965" stop-color="#00aa96"/><stop offset=".7975" stop-color="#009900"/><stop offset=".8049" stop-color="#009900"/><stop offset=".8059" stop-color="#0a00a9"/><stop offset=".8068" stop-color="#0c00a8"/><stop offset=".8077" stop-color="#008bdd"/><stop offset=".8190" stop-color="#008bdd"/><stop offset=".8199" stop-color="#2b00a5"/><stop offset=".8237" stop-color="#3300a4"/><stop offset=".8246" stop-color="#0085dd"/><stop offset=".8265" stop-color="#0085dd"/><stop offset=".8274" stop-color="#71009c"/><stop offset=".8283" stop-color="#82009a"/><stop offset=".8293" stop-color="#880099"/><stop offset=".8686" stop-color="#770088"/><stop offset=".9622" stop-color="#220027"/><stop offset=".9996" stop-color="#140017"/></linearGradient>
<linearGradient id="r5" gradientUnits="userSpaceOnUse" x1="327.90" y1="0" x2="595.00" y2="0"><stop offset="0" stop-color="#00c900"/><stop offset=".0028" stop-color="#00c900"/><stop offset=".0037" stop-color="#6b007a"/><stop offset=".0066" stop-color="#6b007a"/><stop offset=".0075" stop-color="#18001b"/><stop offset=".2087" stop-color="#17001b"/><stop offset=".2134" stop-color="#43004c"/><stop offset=".2162" stop-color="#740085"/><stop offset=".2246" stop-color="#870098"/><stop offset=".2256" stop-color="#79009b"/><stop offset=".2293" stop-color="#0700a9"/><stop offset=".2303" stop-color="#0000b1"/><stop offset=".2340" stop-color="#0000d9"/><stop offset=".2349" stop-color="#000cdd"/><stop offset=".2396" stop-color="#0070dd"/><stop offset=".2405" stop-color="#007add"/><stop offset=".2480" stop-color="#009ada"/><stop offset=".2583" stop-color="#00aaaa"/><stop offset=".2733" stop-color="#00aa88"/><stop offset=".2845" stop-color="#00a458"/><stop offset=".3107" stop-color="#009900"/><stop offset=".3828" stop-color="#00b000"/><stop offset=".4128" stop-color="#00bf00"/><stop offset=".4530" stop-color="#00df00"/><stop offset=".4680" stop-color="#00de00"/><stop offset=".4802" stop-color="#00f000"/><stop offset=".5054" stop-color="#00f900"/><stop offset=".5550" stop-color="#00ef00"/><stop offset=".5859" stop-color="#00c500"/><stop offset=".5934" stop-color="#009c00"/><stop offset=".5943" stop-color="#009901"/><stop offset=".5962" stop-color="#009d1e"/><stop offset=".6009" stop-color="#00a879"/><stop offset=".6028" stop-color="#00aa87"/><stop offset=".6402" stop-color="#00aaab"/><stop offset=".6748" stop-color="#0098dd"/><stop offset=".7029" stop-color="#0077dd"/><stop offset=".7132" stop-color="#002ddd"/><stop offset=".7216" stop-color="#0001dd"/><stop offset=".7338" stop-color="#0000c7"/><stop offset=".7441" stop-color="#0000bb"/><stop offset=".7450" stop-color="#009900"/><stop offset=".7507" stop-color="#009900"/><stop offset=".7516" stop-color="#0099dd"/><stop offset=".7535" stop-color="#0099dd"/><stop offset=".7544" stop-color="#0000b8"/><stop offset=".7591" stop-color="#0000b7"/><stop offset=".7600" stop-color="#00a352"/><stop offset=".7675" stop-color="#00a352"/><stop offset=".7684" stop-color="#00aa96"/><stop offset=".7815" stop-color="#00aa96"/><stop offset=".7825" stop-color="#009900"/><stop offset=".7900" stop-color="#009900"/><stop offset=".7909" stop-color="#00aa96"/><stop offset=".7965" stop-color="#00aa96"/><stop offset=".7975" stop-color="#009900"/><stop offset=".8049" stop-color="#009900"/><stop offset=".8059" stop-color="#0d00a8"/><stop offset=".8068" stop-color="#0f00a8"/><stop offset=".8077" stop-color="#008bdd"/><stop offset=".8190" stop-color="#008bdd"/><stop offset=".8199" stop-color="#3100a4"/><stop offset=".8237" stop-color="#3a00a3"/><stop offset=".8246" stop-color="#0085dd"/><stop offset=".8265" stop-color="#0085dd"/><stop offset=".8274" stop-color="#78009b"/><stop offset=".8283" stop-color="#880099"/><stop offset=".8677" stop-color="#770088"/><stop offset=".9622" stop-color="#220026"/><stop offset=".9996" stop-color="#140017"/></linearGradient>
<linearGradient id="r6" gradientUnits="userSpaceOnUse" x1="327.90" y1="0" x2="595.00" y2="0"><stop offset="0" stop-color="#00c900"/><stop offset=".0028" stop-color="#00c900"/><stop offset=".0037" stop-color="#6b007a"/><stop offset=".0066" stop-color="#6b007a"/><stop offset=".0075" stop-color="#17001b"/><stop offset=".2087" stop-color="#17001b"/><stop offset=".2134" stop-color="#42004c"/><stop offset=".2162" stop-color="#740084"/><stop offset=".2171" stop-color="#79008a"/><stop offset=".2246" stop-color="#870098"/><stop offset=".2256" stop-color="#7c009b"/><stop offset=".2293" stop-color="#0c00a9"/><stop offset=".2303" stop-color="#0000af"/><stop offset=".2340" stop-color="#0000d6"/><stop offset=".2349" stop-color="#0005dd"/><stop offset=".2405" stop-color="#0076dd"/><stop offset=".2490" stop-color="#0099dc"/><stop offset=".2602" stop-color="#00a9ac"/><stop offset=".2733" stop-color="#00aa92"/><stop offset=".2836" stop-color="#00aa87"/><stop offset=".3107" stop-color="#009d24"/><stop offset=".3351" stop-color="#009900"/><stop offset=".3828" stop-color="#00ad00"/><stop offset=".4530" stop-color="#00df00"/><stop offset=".4680" stop-color="#00df00"/><stop offset=".4792" stop-color="#00ef00"/><stop offset=".4951" stop-color="#00f600"/><stop offset=".5550" stop-color="#00ee00"/><stop offset=".5859" stop-color="#00c500"/><stop offset=".5943" stop-color="#009a00"/><stop offset=".5962" stop-color="#009c18"/><stop offset=".6009" stop-color="#00a771"/><stop offset=".6018" stop-color="#00a87b"/><stop offset=".6046" stop-color="#00aa86"/><stop offset=".6393" stop-color="#00aaaa"/><stop offset=".6730" stop-color="#0098dd"/><stop offset=".7020" stop-color="#0077dd"/><stop offset=".7048" stop-color="#0069dd"/><stop offset=".7142" stop-color="#0024dd"/><stop offset=".7216" stop-color="#0000dc"/><stop offset=".7338" stop-color="#0000c6"/><stop offset=".7441" stop-color="#0000bb"/><stop offset=".7450" stop-color="#009900"/><stop offset=".7507" stop-color="#009900"/><stop offset=".7516" stop-color="#0099dd"/><stop offset=".7535" stop-color="#0099dd"/><stop offset=".7544" stop-color="#0000b7"/><stop offset=".7591" stop-color="#0000b6"/><stop offset=".7600" stop-color="#00a352"/><stop offset=".7675" stop-color="#00a352"/><stop offset=".7684" stop-color="#00aa96"/><stop offset=".7815" stop-color="#00aa96"/><stop offset=".7825" stop-color="#009900"/><stop offset=".7900" stop-color="#009900"/><stop offset=".7909" stop-color="#00aa96"/><stop offset=".7965" stop-color="#00aa96"/><stop offset=".7975" stop-color="#009900"/><stop offset=".8049" stop-color="#009900"/><stop offset=".8059" stop-color="#1200a8"/><stop offset=".8068" stop-color="#1400a7"/><stop offset=".8077" stop-color="#008bdd"/><stop offset=".8190" stop-color="#008bdd"/><stop offset=".8199" stop-color="#3300a4"/><stop offset=".8237" stop-color="#3c00a2"/><stop offset=".8246" stop-color="#0085dd"/><stop offset=".8265" stop-color="#0085dd"/><stop offset=".8274" stop-color="#79009b"/><stop offset=".8283" stop-color="#880099"/><stop offset=".8667" stop-color="#770088"/><stop offset=".9622" stop-color="#210026"/><stop offset=".9996" stop-color="#130016"/></linearGradient>
<linearGradient id="r7" gradientUnits="userSpaceOnUse" x1="327.90" y1="0" x2="595.00" y2="0"><stop offset="0" stop-color="#00c900"/><stop offset=".0028" stop-color="#00c900"/><stop offset=".0037" stop-color="#6b007a"/><stop offset=".0066" stop-color="#6b007a"/><stop offset=".0075" stop-color="#17001b"/><stop offset=".2087" stop-color="#17001a"/><stop offset=".2134" stop-color="#41004b"/><stop offset=".2162" stop-color="#720082"/><stop offset=".2171" stop-color="#79008a"/><stop offset=".2246" stop-color="#860097"/><stop offset=".2256" stop-color="#80009a"/><stop offset=".2293" stop-color="#1200a8"/><stop offset=".2303" stop-color="#0000ad"/><stop offset=".2349" stop-color="#0000dc"/><stop offset=".2359" stop-color="#0011dd"/><stop offset=".2396" stop-color="#005fdd"/><stop offset=".2405" stop-color="#0070dd"/><stop offset=".2415" stop-color="#0079dd"/><stop offset=".2490" stop-color="#0099dd"/><stop offset=".2583" stop-color="#00a8b1"/><stop offset=".2733" stop-color="#00aa8f"/><stop offset=".2808" stop-color="#00aa88"/><stop offset=".3107" stop-color="#009d1f"/><stop offset=".3379" stop-color="#009900"/><stop offset=".3828" stop-color="#00aa00"/><stop offset=".4128" stop-color="#00bc00"/><stop offset=".4530" stop-color="#00dd00"/><stop offset=".4680" stop-color="#00de00"/><stop offset=".4802" stop-color="#00ee00"/><stop offset=".5316" stop-color="#00f500"/><stop offset=".5541" stop-color="#00ef00"/><stop offset=".5728" stop-color="#00d800"/><stop offset=".5859" stop-color="#00c300"/><stop offset=".5934" stop-color="#009c00"/><stop offset=".5943" stop-color="#009903"/><stop offset=".5962" stop-color="#009d1f"/><stop offset=".6009" stop-color="#00a879"/><stop offset=".6028" stop-color="#00aa86"/><stop offset=".6411" stop-color="#00aaaa"/><stop offset=".6711" stop-color="#0099dd"/><stop offset=".7001" stop-color="#0077dd"/><stop offset=".7048" stop-color="#0060dd"/><stop offset=".7132" stop-color="#0024dd"/><stop offset=".7207" stop-color="#0000dd"/><stop offset=".7338" stop-color="#0000c6"/><stop offset=".7441" stop-color="#0000bc"/><stop offset=".7450" stop-color="#009900"/><stop offset=".7507" stop-color="#009900"/><stop offset=".7516" stop-color="#0099dd"/><stop offset=".7535" stop-color="#0099dd"/><stop offset=".7544" stop-color="#0000b7"/><stop offset=".7591" stop-color="#0000b6"/><stop offset=".7600" stop-color="#00a352"/><stop offset=".7675" stop-color="#00a352"/><stop offset=".7684" stop-color="#00aa96"/><stop offset=".7815" stop-color="#00aa96"/><stop offset=".7825" stop-color="#009900"/><stop offset=".7900" stop-color="#009900"/><stop offset=".7909" stop-color="#00aa96"/><stop offset=".7965" stop-color="#00aa96"/><stop offset=".7975" stop-color="#009900"/><stop offset=".8049" stop-color="#009900"/><stop offset=".8059" stop-color="#1100a8"/><stop offset=".8068" stop-color="#1300a8"/><stop offset=".8077" stop-color="#008bdd"/><stop offset=".8190" stop-color="#008bdd"/><stop offset=".8199" stop-color="#3200a4"/><stop offset=".8237" stop-color="#3b00a3"/><stop offset=".8246" stop-color="#0085dd"/><stop offset=".8265" stop-color="#0085dd"/><stop offset=".8274" stop-color="#78009b"/><stop offset=".8283" stop-color="#880099"/><stop offset=".8686" stop-color="#770088"/><stop offset=".9622" stop-color="#210026"/><stop offset=".9996" stop-color="#130016"/></linearGradient>
<linearGradient id="r8" gradientUnits="userSpaceOnUse" x1="327.90" y1="0" x2="595.00" y2="0"><stop offset="0" stop-color="#00c900"/><stop offset=".0028" stop-color="#00c900"/><stop offset=".0037" stop-color="#6b007a"/><stop offset=".0066" stop-color="#6b007a"/><stop offset=".0075" stop-color="#17001a"/><stop offset=".2087" stop-color="#17001a"/><stop offset=".2134" stop-color="#42004b"/><stop offset=".2162" stop-color="#730083"/><stop offset=".2171" stop-color="#79008a"/><stop offset=".2246" stop-color="#870098"/><stop offset=".2256" stop-color="#7d009a"/><stop offset=".2293" stop-color="#0e00a8"/><stop offset=".2303" stop-color="#0000ae"/><stop offset=".2349" stop-color="#0002dd"/><stop offset=".2396" stop-color="#0064dd"/><stop offset=".2405" stop-color="#0074dd"/><stop offset=".2415" stop-color="#007add"/><stop offset=".2490" stop-color="#0099dc"/><stop offset=".2611" stop-color="#00a9ac"/><stop offset=".2733" stop-color="#00aa95"/><stop offset=".2902" stop-color="#00aa88"/><stop offset=".3117" stop-color="#00a13d"/><stop offset=".3575" stop-color="#009900"/><stop offset=".4043" stop-color="#00b000"/><stop offset=".4530" stop-color="#00db00"/><stop offset=".4680" stop-color="#00dc00"/><stop offset=".4792" stop-color="#00ec00"/><stop offset=".4951" stop-color="#00f200"/><stop offset=".5550" stop-color="#00e900"/><stop offset=".5859" stop-color="#00c000"/><stop offset=".5934" stop-color="#009900"/><stop offset=".5962" stop-color="#009e28"/><stop offset=".6009" stop-color="#00a980"/><stop offset=".6018" stop-color="#00aa88"/><stop offset=".6374" stop-color="#00aaaa"/><stop offset=".6720" stop-color="#0098dd"/><stop offset=".7010" stop-color="#0078dd"/><stop offset=".7048" stop-color="#0066dd"/><stop offset=".7142" stop-color="#0023dd"/><stop offset=".7216" stop-color="#0000dc"/><stop offset=".7338" stop-color="#0000c6"/><stop offset=".7441" stop-color="#0000bb"/><stop offset=".7450" stop-color="#009900"/><stop offset=".7507" stop-color="#009900"/><stop offset=".7516" stop-color="#0099dd"/><stop offset=".7535" stop-color="#0099dd"/><stop offset=".7544" stop-color="#0000b7"/><stop offset=".7591" stop-color="#0000b5"/><stop offset=".7600" stop-color="#00a352"/><stop offset=".7675" stop-color="#00a352"/><stop offset=".7684" stop-color="#00aa96"/><stop offset=".7815" stop-color="#00aa96"/><stop offset=".7825" stop-color="#009900"/><stop offset=".7900" stop-color="#009900"/><stop offset=".7909" stop-color="#00aa96"/><stop offset=".7965" stop-color="#00aa96"/><stop offset=".7975" stop-color="#009900"/><stop offset=".8049" stop-color="#009900"/><stop offset=".8059" stop-color="#1600a7"/><stop offset=".8068" stop-color="#1900a7"/><stop offset=".8077" stop-color="#008bdd"/><stop offset=".8190" stop-color="#008bdd"/><stop offset=".8199" stop-color="#3800a3"/><stop offset=".8237" stop-color="#4200a2"/><stop offset=".8246" stop-color="#0085dd"/><stop offset=".8265" stop-color="#0085dd"/><stop offset=".8274" stop-color="#7e009a"/><stop offset=".8283" stop-color="#870098"/><stop offset=".8677" stop-color="#770087"/><stop offset=".9622" stop-color="#200025"/><stop offset=".9996" stop-color="#130016"/></linearGradient>
<linearGradient id="r9" gradientUnits="userSpaceOnUse" x1="327.90" y1="0" x2="595.00" y2="0"><stop offset="0" stop-color="#00c900"/><stop offset=".0028" stop-color="#00c900"/><stop offset=".0037" stop-color="#6b007a"/><stop offset=".0066" stop-color="#6b007a"/><stop offset=".0075" stop-color="#17001b"/><stop offset=".2087" stop-color="#17001a"/><stop offset=".2134" stop-color="#42004b"/><stop offset=".2162" stop-color="#720083"/><stop offset=".2171" stop-color="#79008a"/><stop offset=".2246" stop-color="#870098"/><stop offset=".2256" stop-color="#7e009a"/><stop offset=".2293" stop-color="#0e00a8"/><stop offset=".2303" stop-color="#0000af"/><stop offset=".2349" stop-color="#0003dd"/><stop offset=".2405" stop-color="#0075dd"/><stop offset=".2490" stop-color="#0099dd"/><stop offset=".2593" stop-color="#00a6b5"/><stop offset=".2733" stop-color="#00aa99"/><stop offset=".2939" stop-color="#00aa88"/><stop offset=".3107" stop-color="#00a34d"/><stop offset=".3370" stop-color="#009f30"/><stop offset=".3622" stop-color="#009900"/><stop offset=".4128" stop-color="#00b400"/><stop offset=".4530" stop-color="#00d700"/><stop offset=".4680" stop-color="#00d900"/><stop offset=".4802" stop-color="#00eb00"/><stop offset=".5054" stop-color="#00f200"/><stop offset=".5550" stop-color="#00e900"/><stop offset=".5859" stop-color="#00bf00"/><stop offset=".5925" stop-color="#009b00"/><stop offset=".5934" stop-color="#009a06"/><stop offset=".5962" stop-color="#009f30"/><stop offset=".6009" stop-color="#00aa88"/><stop offset=".6346" stop-color="#00aaaa"/><stop offset=".6702" stop-color="#0099dd"/><stop offset=".7010" stop-color="#0075dd"/><stop offset=".7048" stop-color="#0063dd"/><stop offset=".7132" stop-color="#0026dd"/><stop offset=".7207" stop-color="#0001dd"/><stop offset=".7338" stop-color="#0000c6"/><stop offset=".7441" stop-color="#0000bb"/><stop offset=".7450" stop-color="#009900"/><stop offset=".7507" stop-color="#009900"/><stop offset=".7516" stop-color="#0099dd"/><stop offset=".7535" stop-color="#0099dd"/><stop offset=".7544" stop-color="#0000b6"/><stop offset=".7591" stop-color="#0000b4"/><stop offset=".7600" stop-color="#00a352"/><stop offset=".7675" stop-color="#00a352"/><stop offset=".7684" stop-color="#00aa96"/><stop offset=".7815" stop-color="#00aa96"/><stop offset=".7825" stop-color="#009900"/><stop offset=".7900" stop-color="#009900"/><stop offset=".7909" stop-color="#00aa96"/><stop offset=".7965" stop-color="#00aa96"/><stop offset=".7975" stop-color="#009900"/><stop offset=".8049" stop-color="#009900"/><stop offset=".8059" stop-color="#1900a7"/><stop offset=".8068" stop-color="#1b00a7"/><stop offset=".8077" stop-color="#008bdd"/><stop offset=".8190" stop-color="#008bdd"/><stop offset=".8199" stop-color="#3a00a3"/><stop offset=".8237" stop-color="#4300a2"/><stop offset=".8246" stop-color="#0085dd"/><stop offset=".8265" stop-color="#0085dd"/><stop offset=".8274" stop-color="#7f009a"/><stop offset=".8283" stop-color="#870098"/><stop offset=".8677" stop-color="#770088"/><stop offset=".9622" stop-color="#210025"/><stop offset=".9996" stop-color="#130016"/></linearGradient>
<linearGradient id="r10" gradientUnits="userSpaceOnUse" x1="327.90" y1="0" x2="595.00" y2="0"><stop offset="0" stop-color="#00c900"/><stop offset=".0028" stop-color="#00c900"/><stop offset=".0037" stop-color="#6b007a"/><stop offset=".0066" stop-color="#6b007a"/><stop offset=".0075" stop-color="#17001b"/><stop offset=".2087" stop-color="#17001a"/><stop offset=".2134" stop-color="#42004b"/><stop offset=".2162" stop-color="#730083"/><stop offset=".2171" stop-color="#79008a"/><stop offset=".2246" stop-color="#870098"/><stop offset=".2256" stop-color="#7d009a"/><stop offset=".2293" stop-color="#0d00a8"/><stop offset=".2303" stop-color="#0000af"/><stop offset=".2349" stop-color="#0004dd"/><stop offset=".2405" stop-color="#0075dd"/><stop offset=".2490" stop-color="#0099dd"/><stop offset=".2583" stop-color="#00a6b7"/><stop offset=".2630" stop-color="#00aaaa"/><stop offset=".2733" stop-color="#00aa99"/><stop offset=".2939" stop-color="#00aa88"/><stop offset=".3117" stop-color="#00a248"/><stop offset=".3632" stop-color="#009900"/><stop offset=".4043" stop-color="#00af00"/><stop offset=".4530" stop-color="#00da00"/><stop offset=".4680" stop-color="#00d900"/><stop offset=".4802" stop-color="#00ea00"/><stop offset=".4942" stop-color="#00ef00"/><stop offset=".5316" stop-color="#00f100"/><stop offset=".5541" stop-color="#00ec00"/><stop offset=".5728" stop-color="#00d600"/><stop offset=".5859" stop-color="#00c200"/><stop offset=".5934" stop-color="#009b00"/><stop offset=".5943" stop-color="#009a06"/><stop offset=".5962" stop-color="#009d21"/><stop offset=".6009" stop-color="#00a87a"/><stop offset=".6028" stop-color="#00aa87"/><stop offset=".6355" stop-color="#00aaaa"/><stop offset=".6711" stop-color="#0099dd"/><stop offset=".7001" stop-color="#0077dd"/><stop offset=".7048" stop-color="#0060dd"/><stop offset=".7132" stop-color="#0023dd"/><stop offset=".7207" stop-color="#0000dd"/><stop offset=".7338" stop-color="#0000c6"/><stop offset=".7441" stop-color="#0000bc"/><stop offset=".7450" stop-color="#009900"/><stop offset=".7507" stop-color="#009900"/><stop offset=".7516" stop-color="#0099dd"/><stop offset=".7535" stop-color="#0099dd"/><stop offset=".7544" stop-color="#0000b7"/><stop offset=".7591" stop-color="#0000b5"/><stop offset=".7600" stop-color="#00a352"/><stop offset=".7675" stop-color="#00a352"/><stop offset=".7684" stop-color="#00aa96"/><stop offset=".7815" stop-color="#00aa96"/><stop offset=".7825" stop-color="#009900"/><stop offset=".7900" stop-color="#009900"/><stop offset=".7909" stop-color="#00aa96"/><stop offset=".7965" stop-color="#00aa96"/><stop offset=".7975" stop-color="#009900"/><stop offset=".8049" stop-color="#009900"/><stop offset=".8059" stop-color="#1500a7"/><stop offset=".8068" stop-color="#1700a7"/><stop offset=".8077" stop-color="#008bdd"/><stop offset=".8190" stop-color="#008bdd"/><stop offset=".8199" stop-color="#3500a3"/><stop offset=".8237" stop-color="#3e00a2"/><stop offset=".8246" stop-color="#0085dd"/><stop offset=".8265" stop-color="#0085dd"/><stop offset=".8274" stop-color="#7b009b"/><stop offset=".8283" stop-color="#880099"/><stop offset=".8677" stop-color="#770088"/><stop offset=".9622" stop-color="#210026"/><stop offset=".9996" stop-color="#130016"/></linearGradient>
<linearGradient id="r11" gradientUnits="userSpaceOnUse" x1="327.90" y1="0" x2="595.00" y2="0"><stop offset="0" stop-color="#00c900"/><stop offset=".0028" stop-color="#00c900"/><stop offset=".0037" stop-color="#6b007a"/><stop offset=".0066" stop-color="#6b007a"/><stop offset=".0075" stop-color="#18001b"/><stop offset=".2087" stop-color="#18001b"/><stop offset=".2134" stop-color="#44004d"/><stop offset=".2162" stop-color="#760087"/><stop offset=".2246" stop-color="#880099"/><stop offset=".2256" stop-color="#74009c"/><stop offset=".2293" stop-color="#0000aa"/><stop offset=".2340" stop-color="#0000dc"/><stop offset=".2349" stop-color="#0014dd"/><stop offset=".2396" stop-color="#0077dd"/><stop offset=".2471" stop-color="#0099dc"/><stop offset=".2574" stop-color="#00aaa8"/><stop offset=".2686" stop-color="#00aa89"/><stop offset=".2742" stop-color="#00a455"/><stop offset=".2845" stop-color="#009c17"/><stop offset=".2911" stop-color="#009900"/><stop offset=".3117" stop-color="#00ab00"/><stop offset=".3706" stop-color="#00bc00"/><stop offset=".4118" stop-color="#00cd00"/><stop offset=".4530" stop-color="#00ea00"/><stop offset=".4680" stop-color="#00e700"/><stop offset=".4802" stop-color="#00f800"/><stop offset=".4951" stop-color="#00fe00"/><stop offset=".5316" stop-color="#00fe00"/><stop offset=".5541" stop-color="#00f800"/><stop offset=".5738" stop-color="#00e000"/><stop offset=".5859" stop-color="#00cc00"/><stop offset=".5915" stop-color="#00ab00"/><stop offset=".5953" stop-color="#009c00"/><stop offset=".5962" stop-color="#009a04"/><stop offset=".6009" stop-color="#00a561"/><stop offset=".6018" stop-color="#00a66b"/><stop offset=".6084" stop-color="#00aa87"/><stop offset=".6477" stop-color="#00aaaa"/><stop offset=".6776" stop-color="#0098dd"/><stop offset=".7048" stop-color="#0077dd"/><stop offset=".7142" stop-color="#0032dd"/><stop offset=".7244" stop-color="#0000dc"/><stop offset=".7338" stop-color="#0000cb"/><stop offset=".7441" stop-color="#0000c0"/><stop offset=".7450" stop-color="#009900"/><stop offset=".7507" stop-color="#009900"/><stop offset=".7516" stop-color="#0099dd"/><stop offset=".7535" stop-color="#0099dd"/><stop offset=".7544" stop-color="#0000bd"/><stop offset=".7591" stop-color="#0000bb"/><stop offset=".7600" stop-color="#00a352"/><stop offset=".7675" stop-color="#00a352"/><stop offset=".7684" stop-color="#00aa96"/><stop offset=".7815" stop-color="#00aa96"/><stop offset=".7825" stop-color="#009900"/><stop offset=".7900" stop-color="#009900"/><stop offset=".7909" stop-color="#00aa96"/><stop offset=".7965" stop-color="#00aa96"/><stop offset=".7975" stop-color="#009900"/><stop offset=".8049" stop-color="#009900"/><stop offset=".8059" stop-color="#0900a9"/><stop offset=".8068" stop-color="#0c00a9"/><stop offset=".8077" stop-color="#008bdd"/><stop offset=".8190" stop-color="#008bdd"/><stop offset=".8199" stop-color="#2900a5"/><stop offset=".8237" stop-color="#3100a4"/><stop offset=".8246" stop-color="#0085dd"/><stop offset=".8265" stop-color="#0085dd"/><stop offset=".8274" stop-color="#70009c"/><stop offset=".8283" stop-color="#81009a"/><stop offset=".8302" stop-color="#880099"/><stop offset=".8705" stop-color="#770088"/><stop offset=".9622" stop-color="#220027"/><stop offset=".9996" stop-color="#140017"/></linearGradient>
<linearGradient id="r12" gradientUnits="userSpaceOnUse" x1="327.90" y1="0" x2="595.00" y2="0"><stop offset="0" stop-color="#00c900"/><stop offset=".0028" stop-color="#00c900"/><stop offset=".0037" stop-color="#6b007a"/><stop offset=".0066" stop-color="#6b007a"/><stop offset=".0075" stop-color="#18001b"/><stop offset=".2087" stop-color="#18001b"/><stop offset=".2134" stop-color="#44004e"/><stop offset=".2162" stop-color="#770088"/><stop offset=".2246" stop-color="#880099"/><stop offset=".2256" stop-color="#73009c"/><stop offset=".2293" stop-color="#0000aa"/><stop offset=".2340" stop-color="#0000dd"/><stop offset=".2349" stop-color="#0016dd"/><stop offset=".2396" stop-color="#0078dd"/><stop offset=".2471" stop-color="#0099dd"/><stop offset=".2583" stop-color="#00aaa8"/><stop offset=".2714" stop-color="#00aa89"/><stop offset=".2742" stop-color="#00a773"/><stop offset=".2845" stop-color="#00a13d"/><stop offset=".3014" stop-color="#009900"/><stop offset=".3117" stop-color="#00a300"/><stop offset=".3370" stop-color="#00ad00"/><stop offset=".4118" stop-color="#00c600"/><stop offset=".4530" stop-color="#00e400"/><stop offset=".4680" stop-color="#00e300"/><stop offset=".4792" stop-color="#00f400"/><stop offset=".4942" stop-color="#00fc00"/><stop offset=".5326" stop-color="#01ff00"/><stop offset=".5550" stop-color="#00f800"/><stop offset=".5859" stop-color="#00cd00"/><stop offset=".5915" stop-color="#00ad00"/><stop offset=".5962" stop-color="#009a00"/><stop offset=".5972" stop-color="#009b0d"/><stop offset=".6009" stop-color="#00a457"/><stop offset=".6018" stop-color="#00a560"/><stop offset=".6112" stop-color="#00aa88"/><stop offset=".6430" stop-color="#00aaaa"/><stop offset=".6776" stop-color="#0099dd"/><stop offset=".7039" stop-color="#0075dd"/><stop offset=".7132" stop-color="#002fdd"/><stop offset=".7226" stop-color="#0000dd"/><stop offset=".7338" stop-color="#0000c9"/><stop offset=".7441" stop-color="#0000be"/><stop offset=".7450" stop-color="#009900"/><stop offset=".7507" stop-color="#009900"/><stop offset=".7516" stop-color="#0099dd"/><stop offset=".7535" stop-color="#0099dd"/><stop offset=".7544" stop-color="#0000bb"/><stop offset=".7591" stop-color="#0000ba"/><stop offset=".7600" stop-color="#00a352"/><stop offset=".7675" stop-color="#00a352"/><stop offset=".7684" stop-color="#00aa96"/><stop offset=".7815" stop-color="#00aa96"/><stop offset=".7825" stop-color="#009900"/><stop offset=".7900" stop-color="#009900"/><stop offset=".7909" stop-color="#00aa96"/><stop offset=".7965" stop-color="#00aa96"/><stop offset=".7975" stop-color="#009900"/><stop offset=".8049" stop-color="#009900"/><stop offset=".8059" stop-color="#0600a9"/><stop offset=".8068" stop-color="#0800a9"/><stop offset=".8077" stop-color="#008bdd"/><stop offset=".8190" stop-color="#008bdd"/><stop offset=".8199" stop-color="#2900a5"/><stop offset=".8237" stop-color="#3300a4"/><stop offset=".8246" stop-color="#0085dd"/><stop offset=".8265" stop-color="#0085dd"/><stop offset=".8274" stop-color="#72009c"/><stop offset=".8283" stop-color="#83009a"/><stop offset=".8293" stop-color="#880099"/><stop offset=".8686" stop-color="#770088"/><stop offset=".9622" stop-color="#220027"/><stop offset=".9996" stop-color="#140017"/></linearGradient>
<linearGradient id="r13" gradientUnits="userSpaceOnUse" x1="327.90" y1="0" x2="595.00" y2="0"><stop offset="0" stop-color="#00c900"/><stop offset=".0028" stop-color="#00c900"/><stop offset=".0037" stop-color="#6b007a"/><stop offset=".0066" stop-color="#6b007a"/><stop offset=".0075" stop-color="#18001b"/><stop offset=".2087" stop-color="#18001b"/><stop offset=".2134" stop-color="#44004d"/><stop offset=".2162" stop-color="#760087"/><stop offset=".2246" stop-color="#870098"/><stop offset=".2256" stop-color="#78009b"/><stop offset=".2293" stop-color="#0800a9"/><stop offset=".2303" stop-color="#0000b1"/><stop offset=".2340" stop-color="#0000d8"/><stop offset=".2349" stop-color="#0008dd"/><stop offset=".2396" stop-color="#006bdd"/><stop offset=".2405" stop-color="#0079dd"/><stop offset=".2480" stop-color="#009adb"/><stop offset=".2583" stop-color="#00aaa8"/><stop offset=".2705" stop-color="#00aa8a"/><stop offset=".2714" stop-color="#00aa87"/><stop offset=".2742" stop-color="#00a771"/><stop offset=".2845" stop-color="#00a142"/><stop offset=".3051" stop-color="#009900"/><stop offset=".3819" stop-color="#00b600"/><stop offset=".4530" stop-color="#00e400"/><stop offset=".4680" stop-color="#00e200"/><stop offset=".4802" stop-color="#00f400"/><stop offset=".5054" stop-color="#00fd00"/><stop offset=".5316" stop-color="#00fc00"/><stop offset=".5550" stop-color="#00f400"/><stop offset=".5859" stop-color="#00c800"/><stop offset=".5915" stop-color="#00a800"/><stop offset=".5953" stop-color="#009901"/><stop offset=".6009" stop-color="#00a669"/><stop offset=".6018" stop-color="#00a773"/><stop offset=".6065" stop-color="#00aa87"/><stop offset=".6421" stop-color="#00aaaa"/><stop offset=".6786" stop-color="#0099dd"/><stop offset=".7048" stop-color="#0078dd"/><stop offset=".7142" stop-color="#0034dd"/><stop offset=".7244" stop-color="#0000dd"/><stop offset=".7338" stop-color="#0000cb"/><stop offset=".7441" stop-color="#0000bf"/><stop offset=".7450" stop-color="#009900"/><stop offset=".7507" stop-color="#009900"/><stop offset=".7516" stop-color="#0099dd"/><stop offset=".7535" stop-color="#0099dd"/><stop offset=".7544" stop-color="#0000bb"/><stop offset=".7591" stop-color="#0000b9"/><stop offset=".7600" stop-color="#00a352"/><stop offset=".7675" stop-color="#00a352"/><stop offset=".7684" stop-color="#00aa96"/><stop offset=".7815" stop-color="#00aa96"/><stop offset=".7825" stop-color="#009900"/><stop offset=".7900" stop-color="#009900"/><stop offset=".7909" stop-color="#00aa96"/><stop offset=".7965" stop-color="#00aa96"/><stop offset=".7975" stop-color="#009900"/><stop offset=".8049" stop-color="#009900"/><stop offset=".8059" stop-color="#0d00a8"/><stop offset=".8068" stop-color="#0f00a8"/><stop offset=".8077" stop-color="#008bdd"/><stop offset=".8190" stop-color="#008bdd"/><stop offset=".8199" stop-color="#2d00a4"/><stop offset=".8237" stop-color="#3500a3"/><stop offset=".8246" stop-color="#0085dd"/><stop offset=".8265" stop-color="#0085dd"/><stop offset=".8274" stop-color="#73009c"/><stop offset=".8283" stop-color="#84009a"/><stop offset=".8293" stop-color="#880099"/><stop offset=".8686" stop-color="#770088"/><stop offset=".9622" stop-color="#220027"/><stop offset=".9996" stop-color="#140016"/></linearGradient>
<linearGradient id="r14" gradientUnits="userSpaceOnUse" x1="327.90" y1="0" x2="595.00" y2="0"><stop offset="0" stop-color="#00c900"/><stop offset=".0028" stop-color="#00c900"/><stop offset=".0037" stop-color="#6b007a"/><stop offset=".0066" stop-color="#6b007a"/><stop offset=".0075" stop-color="#17001a"/><stop offset=".2087" stop-color="#17001b"/><stop offset=".2134" stop-color="#42004b"/><stop offset=".2162" stop-color="#730083"/><stop offset=".2171" stop-color="#79008a"/><stop offset=".2246" stop-color="#870098"/><stop offset=".2256" stop-color="#7d009a"/><stop offset=".2293" stop-color="#0f00a8"/><stop offset=".2303" stop-color="#0000ae"/><stop offset=".2349" stop-color="#0001dd"/><stop offset=".2396" stop-color="#0063dd"/><stop offset=".2405" stop-color="#0074dd"/><stop offset=".2415" stop-color="#007add"/><stop offset=".2490" stop-color="#0099dc"/><stop offset=".2611" stop-color="#00a9ac"/><stop offset=".2733" stop-color="#00aa95"/><stop offset=".2920" stop-color="#00aa88"/><stop offset=".3033" stop-color="#00a666"/><stop offset=".3117" stop-color="#00a244"/><stop offset=".3370" stop-color="#009c16"/><stop offset=".3538" stop-color="#009900"/><stop offset=".4118" stop-color="#00b700"/><stop offset=".4530" stop-color="#00da00"/><stop offset=".4680" stop-color="#00dc00"/><stop offset=".4802" stop-color="#00ed00"/><stop offset=".4951" stop-color="#00f500"/><stop offset=".5316" stop-color="#00f600"/><stop offset=".5541" stop-color="#00ed00"/><stop offset=".5859" stop-color="#00c000"/><stop offset=".5934" stop-color="#009900"/><stop offset=".5962" stop-color="#009e28"/><stop offset=".6009" stop-color="#00a980"/><stop offset=".6018" stop-color="#00aa88"/><stop offset=".6411" stop-color="#00aaaa"/><stop offset=".6720" stop-color="#0099dd"/><stop offset=".7029" stop-color="#0075dd"/><stop offset=".7132" stop-color="#002cdd"/><stop offset=".7216" stop-color="#0000dd"/><stop offset=".7338" stop-color="#0000c6"/><stop offset=".7441" stop-color="#0000bb"/><stop offset=".7450" stop-color="#009900"/><stop offset=".7507" stop-color="#009900"/><stop offset=".7516" stop-color="#0099dd"/><stop offset=".7535" stop-color="#0099dd"/><stop offset=".7544" stop-color="#0000b8"/><stop offset=".7591" stop-color="#0000b6"/><stop offset=".7600" stop-color="#00a352"/><stop offset=".7675" stop-color="#00a352"/><stop offset=".7684" stop-color="#00aa96"/><stop offset=".7815" stop-color="#00aa96"/><stop offset=".7825" stop-color="#009900"/><stop offset=".7900" stop-color="#009900"/><stop offset=".7909" stop-color="#00aa96"/><stop offset=".7965" stop-color="#00aa96"/><stop offset=".7975" stop-color="#009900"/><stop offset=".8049" stop-color="#009900"/><stop offset=".8059" stop-color="#1000a8"/><stop offset=".8068" stop-color="#1300a8"/><stop offset=".8077" stop-color="#008bdd"/><stop offset=".8190" stop-color="#008bdd"/><stop offset=".8199" stop-color="#3400a4"/><stop offset=".8237" stop-color="#3e00a2"/><stop offset=".8246" stop-color="#0085dd"/><stop offset=".8265" stop-color="#0085dd"/><stop offset=".8274" stop-color="#7b009b"/><stop offset=".8283" stop-color="#880099"/><stop offset=".8677" stop-color="#770088"/><stop offset=".9622" stop-color="#210026"/><stop offset=".9996" stop-color="#140016"/></linearGradient>
<linearGradient id="r15" gradientUnits="userSpaceOnUse" x1="327.90" y1="0" x2="595.00" y2="0"><stop offset="0" stop-color="#00c900"/><stop offset=".0028" stop-color="#00c900"/><stop offset=".0037" stop-color="#6b007a"/><stop offset=".0066" stop-color="#6b007a"/><stop offset=".0075" stop-color="#18001b"/><stop offset=".2087" stop-color="#18001b"/><stop offset=".2134" stop-color="#43004d"/><stop offset=".2162" stop-color="#750086"/><stop offset=".2246" stop-color="#870098"/><stop offset=".2256" stop-color="#7a009b"/><stop offset=".2293" stop-color="#0a00a9"/><stop offset=".2303" stop-color="#0000b0"/><stop offset=".2340" stop-color="#0000d6"/><stop offset=".2349" stop-color="#0005dd"/><stop offset=".2405" stop-color="#0077dd"/><stop offset=".2480" stop-color="#0098dd"/><stop offset=".2593" stop-color="#00aaaa"/><stop offset=".2742" stop-color="#00aa88"/><stop offset=".2855" stop-color="#00a351"/><stop offset=".3051" stop-color="#009901"/><stop offset=".3519" stop-color="#00a700"/><stop offset=".4118" stop-color="#00c400"/><stop offset=".4530" stop-color="#00e300"/><stop offset=".4680" stop-color="#00e200"/><stop offset=".4792" stop-color="#00f300"/><stop offset=".4942" stop-color="#00fa00"/><stop offset=".5316" stop-color="#00fb00"/><stop offset=".5550" stop-color="#00f400"/><stop offset=".5859" stop-color="#00ca00"/><stop offset=".5915" stop-color="#00aa00"/><stop offset=".5953" stop-color="#009b00"/><stop offset=".5962" stop-color="#009a05"/><stop offset=".6009" stop-color="#00a55e"/><stop offset=".6018" stop-color="#00a668"/><stop offset=".6103" stop-color="#00aa88"/><stop offset=".6458" stop-color="#00aaaa"/><stop offset=".6748" stop-color="#0099dd"/><stop offset=".7029" stop-color="#0077dd"/><stop offset=".7048" stop-color="#006edd"/><stop offset=".7132" stop-color="#002edd"/><stop offset=".7216" stop-color="#0002dd"/><stop offset=".7338" stop-color="#0000c7"/><stop offset=".7441" stop-color="#0000bc"/><stop offset=".7450" stop-color="#009900"/><stop offset=".7507" stop-color="#009900"/><stop offset=".7516" stop-color="#0099dd"/><stop offset=".7535" stop-color="#0099dd"/><stop offset=".7544" stop-color="#0000b9"/><stop offset=".7591" stop-color="#0000b8"/><stop offset=".7600" stop-color="#00a352"/><stop offset=".7675" stop-color="#00a352"/><stop offset=".7684" stop-color="#00aa96"/><stop offset=".7815" stop-color="#00aa96"/><stop offset=".7825" stop-color="#009900"/><stop offset=".7900" stop-color="#009900"/><stop offset=".7909" stop-color="#00aa96"/><stop offset=".7965" stop-color="#00aa96"/><stop offset=".7975" stop-color="#009900"/><stop offset=".8049" stop-color="#009900"/><stop offset=".8059" stop-color="#0900a9"/><stop offset=".8068" stop-color="#0b00a9"/><stop offset=".8077" stop-color="#008bdd"/><stop offset=".8190" stop-color="#008bdd"/><stop offset=".8199" stop-color="#2b00a5"/><stop offset=".8237" stop-color="#3400a3"/><stop offset=".8246" stop-color="#0085dd"/><stop offset=".8265" stop-color="#0085dd"/><stop offset=".8274" stop-color="#73009c"/><stop offset=".8283" stop-color="#84009a"/><stop offset=".8293" stop-color="#880099"/><stop offset=".8677" stop-color="#770088"/><stop offset=".9622" stop-color="#220026"/><stop offset=".9996" stop-color="#140017"/></linearGradient>
<linearGradient id="r16" gradientUnits="userSpaceOnUse" x1="327.90" y1="0" x2="595.00" y2="0"><stop offset="0" stop-color="#00c900"/><stop offset=".0028" stop-color="#00c900"/><stop offset=".0037" stop-color="#6b007a"/><stop offset=".0066" stop-color="#6b007a"/><stop offset=".0075" stop-color="#18001b"/><stop offset=".2087" stop-color="#18001c"/><stop offset=".2134" stop-color="#44004e"/><stop offset=".2162" stop-color="#770088"/><stop offset=".2246" stop-color="#880099"/><stop offset=".2256" stop-color="#75009b"/><stop offset=".2293" stop-color="#0300aa"/><stop offset=".2340" stop-color="#0000da"/><stop offset=".2349" stop-color="#000fdd"/><stop offset=".2396" stop-color="#0073dd"/><stop offset=".2471" stop-color="#0099dd"/><stop offset=".2583" stop-color="#00aaa7"/><stop offset=".2714" stop-color="#00aa86"/><stop offset=".2742" stop-color="#00a76e"/><stop offset=".2845" stop-color="#00a03c"/><stop offset=".3014" stop-color="#009a00"/><stop offset=".3117" stop-color="#00a200"/><stop offset=".4043" stop-color="#00c400"/><stop offset=".4530" stop-color="#00e600"/><stop offset=".4680" stop-color="#00e400"/><stop offset=".4792" stop-color="#00f400"/><stop offset=".4942" stop-color="#00fc00"/><stop offset=".5316" stop-color="#00fd00"/><stop offset=".5541" stop-color="#00f600"/><stop offset=".5738" stop-color="#00dd00"/><stop offset=".5859" stop-color="#00ca00"/><stop offset=".5915" stop-color="#00a900"/><stop offset=".5953" stop-color="#009a00"/><stop offset=".5962" stop-color="#009a0c"/><stop offset=".6009" stop-color="#00a668"/><stop offset=".6018" stop-color="#00a772"/><stop offset=".6065" stop-color="#00aa86"/><stop offset=".6468" stop-color="#00aaaa"/><stop offset=".6795" stop-color="#0099dd"/><stop offset=".7057" stop-color="#0077dd"/><stop offset=".7142" stop-color="#0035dd"/><stop offset=".7244" stop-color="#0000dd"/><stop offset=".7338" stop-color="#0000ca"/><stop offset=".7441" stop-color="#0000bf"/><stop offset=".7450" stop-color="#009900"/><stop offset=".7507" stop-color="#009900"/><stop offset=".7516" stop-color="#0099dd"/><stop offset=".7535" stop-color="#0099dd"/><stop offset=".7544" stop-color="#0000bc"/><stop offset=".7591" stop-color="#0000ba"/><stop offset=".7600" stop-color="#00a352"/><stop offset=".7675" stop-color="#00a352"/><stop offset=".7684" stop-color="#00aa96"/><stop offset=".7815" stop-color="#00aa96"/><stop offset=".7825" stop-color="#009900"/><stop offset=".7900" stop-color="#009900"/><stop offset=".7909" stop-color="#00aa96"/><stop offset=".7965" stop-color="#00aa96"/><stop offset=".7975" stop-color="#009900"/><stop offset=".8049" stop-color="#009900"/><stop offset=".8059" stop-color="#0400a9"/><stop offset=".8068" stop-color="#0700a9"/><stop offset=".8077" stop-color="#008bdd"/><stop offset=".8190" stop-color="#008bdd"/><stop offset=".8199" stop-color="#2800a5"/><stop offset=".8237" stop-color="#3100a4"/><stop offset=".8246" stop-color="#0085dd"/><stop offset=".8265" stop-color="#0085dd"/><stop offset=".8274" stop-color="#70009c"/><stop offset=".8283" stop-color="#82009a"/><stop offset=".8293" stop-color="#880099"/><stop offset=".8686" stop-color="#770088"/><stop offset=".9622" stop-color="#220027"/><stop offset=".9996" stop-color="#140017"/></linearGradient>
<linearGradient id="r17" gradientUnits="userSpaceOnUse" x1="327.90" y1="0" x2="595.00" y2="0"><stop offset="0" stop-color="#00c900"/><stop offset=".0028" stop-color="#00c900"/><stop offset=".0037" stop-color="#6b007a"/><stop offset=".0066" stop-color="#6b007a"/><stop offset=".0075" stop-color="#17001b"/><stop offset=".2087" stop-color="#18001c"/><stop offset=".2134" stop-color="#44004e"/><stop offset=".2162" stop-color="#770088"/><stop offset=".2246" stop-color="#870098"/><stop offset=".2256" stop-color="#76009b"/><stop offset=".2293" stop-color="#0400a9"/><stop offset=".2340" stop-color="#0000d9"/><stop offset=".2349" stop-color="#000ddd"/><stop offset=".2396" stop-color="#006fdd"/><stop offset=".2405" stop-color="#0079dd"/><stop offset=".2480" stop-color="#0099dc"/><stop offset=".2593" stop-color="#00aaa9"/><stop offset=".2742" stop-color="#00aa89"/><stop offset=".2855" stop-color="#00a457"/><stop offset=".3089" stop-color="#009900"/><stop offset=".3706" stop-color="#00ae00"/><stop offset=".4530" stop-color="#00e300"/><stop offset=".4680" stop-color="#00e300"/><stop offset=".4802" stop-color="#00f400"/><stop offset=".5054" stop-color="#00fb00"/><stop offset=".5550" stop-color="#00f300"/><stop offset=".5859" stop-color="#00c900"/><stop offset=".5915" stop-color="#00a900"/><stop offset=".5953" stop-color="#009a00"/><stop offset=".5962" stop-color="#009a08"/><stop offset=".6009" stop-color="#00a562"/><stop offset=".6018" stop-color="#00a66c"/><stop offset=".6093" stop-color="#00aa88"/><stop offset=".6458" stop-color="#00aaaa"/><stop offset=".6786" stop-color="#0098dd"/><stop offset=".7048" stop-color="#0078dd"/><stop offset=".7142" stop-color="#0032dd"/><stop offset=".7235" stop-color="#0000dd"/><stop offset=".7338" stop-color="#0000c9"/><stop offset=".7441" stop-color="#0000be"/><stop offset=".7450" stop-color="#009900"/><stop offset=".7507" stop-color="#009900"/><stop offset=".7516" stop-color="#0099dd"/><stop offset=".7535" stop-color="#0099dd"/><stop offset=".7544" stop-color="#0000bb"/><stop offset=".7591" stop-color="#0000b9"/><stop offset=".7600" stop-color="#00a352"/><stop offset=".7675" stop-color="#00a352"/><stop offset=".7684" stop-color="#00aa96"/><stop offset=".7815" stop-color="#00aa96"/><stop offset=".7825" stop-color="#009900"/><stop offset=".7900" stop-color="#009900"/><stop offset=".7909" stop-color="#00aa96"/><stop offset=".7965" stop-color="#00aa96"/><stop offset=".7975" stop-color="#009900"/><stop offset=".8049" stop-color="#009900"/><stop offset=".8059" stop-color="#0700a9"/><stop offset=".8068" stop-color="#0900a9"/><stop offset=".8077" stop-color="#008bdd"/><stop offset=".8190" stop-color="#008bdd"/><stop offset=".8199" stop-color="#2900a5"/><stop offset=".8237" stop-color="#3300a4"/><stop offset=".8246" stop-color="#0085dd"/><stop offset=".8265" stop-color="#0085dd"/><stop offset=".8274" stop-color="#72009c"/><stop offset=".8283" stop-color="#83009a"/><stop offset=".8293" stop-color="#880099"/><stop offset=".8686" stop-color="#770088"/><stop offset=".9622" stop-color="#220026"/><stop offset=".9996" stop-color="#140016"/></linearGradient>
<linearGradient id="r18" gradientUnits="userSpaceOnUse" x1="327.90" y1="0" x2="595.00" y2="0"><stop offset="0" stop-color="#00c900"/><stop offset=".0028" stop-color="#00c900"/><stop offset=".0037" stop-color="#6b007a"/><stop offset=".0066" stop-color="#6b007a"/><stop offset=".0075" stop-color="#17001b"/><stop offset=".2087" stop-color="#17001b"/><stop offset=".2134" stop-color="#43004c"/><stop offset=".2162" stop-color="#740085"/><stop offset=".2246" stop-color="#870098"/><stop offset=".2256" stop-color="#7c009b"/><stop offset=".2293" stop-color="#0c00a8"/><stop offset=".2303" stop-color="#0000af"/><stop offset=".2349" stop-color="#0004dd"/><stop offset=".2405" stop-color="#0074dd"/><stop offset=".2490" stop-color="#0098dd"/><stop offset=".2593" stop-color="#00a6b6"/><stop offset=".2733" stop-color="#00aa9c"/><stop offset=".2995" stop-color="#00aa87"/><stop offset=".3117" stop-color="#00a45c"/><stop offset=".3519" stop-color="#009d22"/><stop offset=".3688" stop-color="#009901"/><stop offset=".4128" stop-color="#00b700"/><stop offset=".4530" stop-color="#00da00"/><stop offset=".4614" stop-color="#00d900"/><stop offset=".4802" stop-color="#00ed00"/><stop offset=".4951" stop-color="#00f100"/><stop offset=".5316" stop-color="#00f000"/><stop offset=".5541" stop-color="#00e900"/><stop offset=".5859" stop-color="#00c000"/><stop offset=".5934" stop-color="#009a00"/><stop offset=".5962" stop-color="#009e24"/><stop offset=".6009" stop-color="#00a87a"/><stop offset=".6028" stop-color="#00aa86"/><stop offset=".6374" stop-color="#00aaaa"/><stop offset=".6711" stop-color="#0098dd"/><stop offset=".6992" stop-color="#0077dd"/><stop offset=".7039" stop-color="#0062dd"/><stop offset=".7132" stop-color="#0020dd"/><stop offset=".7198" stop-color="#0001dd"/><stop offset=".7338" stop-color="#0000c5"/><stop offset=".7441" stop-color="#0000bb"/><stop offset=".7450" stop-color="#009900"/><stop offset=".7507" stop-color="#009900"/><stop offset=".7516" stop-color="#0099dd"/><stop offset=".7535" stop-color="#0099dd"/><stop offset=".7544" stop-color="#0000b8"/><stop offset=".7591" stop-color="#0000b6"/><stop offset=".7600" stop-color="#00a352"/><stop offset=".7675" stop-color="#00a352"/><stop offset=".7684" stop-color="#00aa96"/><stop offset=".7815" stop-color="#00aa96"/><stop offset=".7825" stop-color="#009900"/><stop offset=".7900" stop-color="#009900"/><stop offset=".7909" stop-color="#00aa96"/><stop offset=".7965" stop-color="#00aa96"/><stop offset=".7975" stop-color="#009900"/><stop offset=".8049" stop-color="#009900"/><stop offset=".8059" stop-color="#1800a7"/><stop offset=".8068" stop-color="#1b00a7"/><stop offset=".8077" stop-color="#008bdd"/><stop offset=".8190" stop-color="#008bdd"/><stop offset=".8199" stop-color="#3800a3"/><stop offset=".8237" stop-color="#4000a2"/><stop offset=".8246" stop-color="#0085dd"/><stop offset=".8265" stop-color="#0085dd"/><stop offset=".8274" stop-color="#7c009b"/><stop offset=".8283" stop-color="#870098"/><stop offset=".8677" stop-color="#770088"/><stop offset=".9622" stop-color="#210026"/><stop offset=".9996" stop-color="#130016"/></linearGradient>
<linearGradient id="r19" gradientUnits="userSpaceOnUse" x1="327.90" y1="0" x2="595.00" y2="0"><stop offset="0" stop-color="#0085dd"/><stop offset=".0028" stop-color="#0085dd"/><stop offset=".0037" stop-color="#6b007a"/><stop offset=".0066" stop-color="#6b007a"/><stop offset=".0075" stop-color="#0f0012"/><stop offset=".0374" stop-color="#0c000e"/><stop offset=".0749" stop-color="#120015"/><stop offset=".2134" stop-color="#110013"/><stop offset=".2518" stop-color="#27002c"/><stop offset=".4203" stop-color="#310038"/><stop offset=".4867" stop-color="#310038"/><stop offset=".5241" stop-color="#25002a"/><stop offset=".5990" stop-color="#29002f"/><stop offset=".6365" stop-color="#1f0024"/><stop offset=".6739" stop-color="#24002a"/><stop offset=".7113" stop-color="#1b001f"/><stop offset=".7488" stop-color="#1b001e"/><stop offset=".7862" stop-color="#110013"/><stop offset=".8985" stop-color="#110013"/><stop offset=".9734" stop-color="#09000a"/><stop offset=".9996" stop-color="#0e0010"/></linearGradient>
<linearGradient id="r20" gradientUnits="userSpaceOnUse" x1="327.90" y1="0" x2="595.00" y2="0"><stop offset="0" stop-color="#00c900"/><stop offset=".0028" stop-color="#00c900"/><stop offset=".0037" stop-color="#6b007a"/><stop offset=".0066" stop-color="#6b007a"/><stop offset=".0075" stop-color="#120014"/><stop offset=".2246" stop-color="#120015"/><stop offset=".2621" stop-color="#0c000d"/><stop offset=".2995" stop-color="#110013"/><stop offset=".4493" stop-color="#0d000e"/><stop offset=".4867" stop-color="#130015"/><stop offset=".6739" stop-color="#0b000c"/><stop offset=".7113" stop-color="#120014"/><stop offset=".7488" stop-color="#120014"/><stop offset=".8985" stop-color="#0a000b"/><stop offset=".9360" stop-color="#110014"/><stop offset=".9996" stop-color="#110013"/></linearGradient>
<linearGradient id="r21" gradientUnits="userSpaceOnUse" x1="327.90" y1="0" x2="595.00" y2="0"><stop offset="0" stop-color="#00c900"/><stop offset=".0028" stop-color="#00c900"/><stop offset=".0037" stop-color="#6b007a"/><stop offset=".0066" stop-color="#6b007a"/><stop offset=".0075" stop-color="#1c0020"/><stop offset=".1975" stop-color="#1d0021"/><stop offset=".1984" stop-color="#28002e"/><stop offset=".2003" stop-color="#620070"/><stop offset=".2012" stop-color="#780089"/><stop offset=".2059" stop-color="#870098"/><stop offset=".2069" stop-color="#77009b"/><stop offset=".2115" stop-color="#0500a9"/><stop offset=".2125" stop-color="#0000b3"/><stop offset=".2153" stop-color="#0000d6"/><stop offset=".2162" stop-color="#000cdd"/><stop offset=".2171" stop-color="#0028dd"/><stop offset=".2181" stop-color="#005add"/><stop offset=".2190" stop-color="#0082dd"/><stop offset=".2200" stop-color="#0094dd"/><stop offset=".2209" stop-color="#00a0c8"/><stop offset=".2218" stop-color="#00aaab"/><stop offset=".2228" stop-color="#00aa96"/><stop offset=".2237" stop-color="#00a770"/><stop offset=".2246" stop-color="#009d1f"/><stop offset=".2256" stop-color="#00a000"/><stop offset=".2331" stop-color="#00fc00"/><stop offset=".2349" stop-color="#65ff00"/><stop offset=".2368" stop-color="#bdfe00"/><stop offset=".2377" stop-color="#cafa00"/><stop offset=".2424" stop-color="#eeee00"/><stop offset=".2518" stop-color="#ffc900"/><stop offset=".2602" stop-color="#ff9b00"/><stop offset=".2611" stop-color="#ff9000"/><stop offset=".2639" stop-color="#ff6200"/><stop offset=".2677" stop-color="#ff0900"/><stop offset=".2686" stop-color="#ff0000"/><stop offset=".3192" stop-color="#df0000"/><stop offset=".4418" stop-color="#cf0000"/><stop offset=".4427" stop-color="#cc2121"/><stop offset=".4586" stop-color="#cc2121"/><stop offset=".4596" stop-color="#cc0303"/><stop offset=".4680" stop-color="#cc0404"/><stop offset=".4689" stop-color="#cc2929"/><stop offset=".4886" stop-color="#cc2929"/><stop offset=".4895" stop-color="#cc0808"/><stop offset=".5167" stop-color="#cc0808"/><stop offset=".5176" stop-color="#cc0000"/><stop offset=".5279" stop-color="#dc0000"/><stop offset=".5607" stop-color="#ff0000"/><stop offset=".5728" stop-color="#ff4300"/><stop offset=".5812" stop-color="#ff8200"/><stop offset=".5869" stop-color="#ff9700"/><stop offset=".5990" stop-color="#ffb600"/><stop offset=".6112" stop-color="#ffcc00"/><stop offset=".6327" stop-color="#f3e500"/><stop offset=".6486" stop-color="#efed00"/><stop offset=".6674" stop-color="#bbff00"/><stop offset=".6683" stop-color="#b3ff00"/><stop offset=".6861" stop-color="#00ff00"/><stop offset=".7226" stop-color="#00bb00"/><stop offset=".7450" stop-color="#00ab00"/><stop offset=".7460" stop-color="#00a352"/><stop offset=".7497" stop-color="#00a352"/><stop offset=".7507" stop-color="#00a700"/><stop offset=".7544" stop-color="#00a400"/><stop offset=".7553" stop-color="#00a352"/><stop offset=".7581" stop-color="#00a352"/><stop offset=".7591" stop-color="#00a000"/><stop offset=".7638" stop-color="#009c00"/><stop offset=".7647" stop-color="#00aa88"/><stop offset=".7675" stop-color="#00aa88"/><stop offset=".7684" stop-color="#009902"/><stop offset=".7731" stop-color="#009b11"/><stop offset=".7741" stop-color="#00a76d"/><stop offset=".7769" stop-color="#00a76d"/><stop offset=".7778" stop-color="#009d20"/><stop offset=".7825" stop-color="#009f2f"/><stop offset=".7834" stop-color="#00aa8f"/><stop offset=".7862" stop-color="#00aa8f"/><stop offset=".7872" stop-color="#00a13e"/><stop offset=".7918" stop-color="#00a34c"/><stop offset=".7928" stop-color="#00aa88"/><stop offset=".7956" stop-color="#00aa88"/><stop offset=".7965" stop-color="#00a45b"/><stop offset=".8012" stop-color="#00a66a"/><stop offset=".8021" stop-color="#00aa96"/><stop offset=".8049" stop-color="#00aa96"/><stop offset=".8059" stop-color="#00a879"/><stop offset=".8134" stop-color="#00aa8c"/><stop offset=".8227" stop-color="#00aaab"/><stop offset=".8274" stop-color="#00a3be"/><stop offset=".8321" stop-color="#0098dd"/><stop offset=".8386" stop-color="#0078dd"/><stop offset=".8471" stop-color="#002ddd"/><stop offset=".8648" stop-color="#0000dd"/><stop offset=".9098" stop-color="#0000c1"/><stop offset=".9247" stop-color="#0000ab"/><stop offset=".9257" stop-color="#0300aa"/><stop offset=".9435" stop-color="#880099"/><stop offset=".9772" stop-color="#770088"/><stop offset=".9996" stop-color="#1e0022"/></linearGradient>
<linearGradient id="lb1" gradientUnits="userSpaceOnUse" x1="48.90" y1="0" x2="315.00" y2="0"><stop offset="0" stop-color="#640072"/><stop offset=".0028" stop-color="#640072"/><stop offset=".0038" stop-color="#100012"/><stop offset=".1935" stop-color="#100013"/><stop offset=".1945" stop-color="#240029"/><stop offset=".1964" stop-color="#640073"/><stop offset=".1973" stop-color="#79008a"/><stop offset=".2039" stop-color="#870098"/><stop offset=".2048" stop-color="#73009c"/><stop offset=".2067" stop-color="#3800a3"/><stop offset=".2076" stop-color="#1400a8"/><stop offset=".2086" stop-color="#0000b1"/><stop offset=".2114" stop-color="#0001dd"/><stop offset=".2123" stop-color="#0023dd"/><stop offset=".2142" stop-color="#0075dd"/><stop offset=".2161" stop-color="#008fdd"/><stop offset=".2170" stop-color="#009ada"/><stop offset=".2198" stop-color="#00a9ad"/><stop offset=".2236" stop-color="#00aa8d"/><stop offset=".2245" stop-color="#00a87a"/><stop offset=".2264" stop-color="#00a13f"/><stop offset=".2283" stop-color="#009b0f"/><stop offset=".2292" stop-color="#009b00"/><stop offset=".2368" stop-color="#00b500"/><stop offset=".2480" stop-color="#00c800"/><stop offset=".2640" stop-color="#00e100"/><stop offset=".2894" stop-color="#02ff00"/><stop offset=".2941" stop-color="#1bff00"/><stop offset=".3044" stop-color="#43ff00"/><stop offset=".3420" stop-color="#4cff00"/><stop offset=".3805" stop-color="#85ff00"/><stop offset=".4059" stop-color="#b5ff00"/><stop offset=".4181" stop-color="#befe00"/><stop offset=".4744" stop-color="#aaff00"/><stop offset=".5073" stop-color="#68ff00"/><stop offset=".5224" stop-color="#37ff00"/><stop offset=".5365" stop-color="#00ff00"/><stop offset=".6248" stop-color="#00b400"/><stop offset=".6473" stop-color="#009a00"/><stop offset=".6586" stop-color="#00a141"/><stop offset=".6727" stop-color="#00aa88"/><stop offset=".7131" stop-color="#00aaaa"/><stop offset=".7328" stop-color="#00a0c9"/><stop offset=".7375" stop-color="#009cd5"/><stop offset=".7384" stop-color="#007fdd"/><stop offset=".7422" stop-color="#007fdd"/><stop offset=".7431" stop-color="#0094dd"/><stop offset=".7460" stop-color="#008fdd"/><stop offset=".7469" stop-color="#00a2c2"/><stop offset=".7507" stop-color="#00a2c2"/><stop offset=".7516" stop-color="#0087dd"/><stop offset=".7544" stop-color="#007fdd"/><stop offset=".7601" stop-color="#007add"/><stop offset=".7610" stop-color="#009fca"/><stop offset=".7629" stop-color="#009fca"/><stop offset=".7638" stop-color="#0071dd"/><stop offset=".7835" stop-color="#0056dd"/><stop offset=".7845" stop-color="#0009dd"/><stop offset=".7882" stop-color="#0009dd"/><stop offset=".7892" stop-color="#004add"/><stop offset=".7967" stop-color="#0038dd"/><stop offset=".7976" stop-color="#0000d9"/><stop offset=".8042" stop-color="#0000da"/><stop offset=".8089" stop-color="#0000bb"/><stop offset=".8145" stop-color="#0000aa"/><stop offset=".8192" stop-color="#1e00a6"/><stop offset=".8202" stop-color="#002cdd"/><stop offset=".8221" stop-color="#002cdd"/><stop offset=".8230" stop-color="#3500a3"/><stop offset=".8371" stop-color="#880099"/><stop offset=".8681" stop-color="#7d008e"/><stop offset=".9151" stop-color="#770088"/><stop offset=".9282" stop-color="#640073"/><stop offset=".9442" stop-color="#390041"/><stop offset=".9620" stop-color="#200025"/><stop offset=".9808" stop-color="#140016"/><stop offset=".9996" stop-color="#0f0011"/></linearGradient>
<linearGradient id="lb3" gradientUnits="userSpaceOnUse" x1="48.90" y1="0" x2="315.00" y2="0"><stop offset="0" stop-color="#640072"/><stop offset=".0028" stop-color="#640072"/><stop offset=".0038" stop-color="#0c000d"/><stop offset=".2048" stop-color="#0d000f"/><stop offset=".2057" stop-color="#0f0011"/><stop offset=".2142" stop-color="#700080"/><stop offset=".2151" stop-color="#770088"/><stop offset=".2264" stop-color="#860098"/><stop offset=".2274" stop-color="#850099"/><stop offset=".2358" stop-color="#0300aa"/><stop offset=".2396" stop-color="#0000bd"/><stop offset=".2508" stop-color="#0000dd"/><stop offset=".2565" stop-color="#0023dd"/><stop offset=".2649" stop-color="#004edd"/><stop offset=".2865" stop-color="#0077dd"/><stop offset=".3579" stop-color="#0099dd"/><stop offset=".3796" stop-color="#009fcc"/><stop offset=".3805" stop-color="#00a1c4"/><stop offset=".3833" stop-color="#00a2c3"/><stop offset=".3843" stop-color="#009fca"/><stop offset=".4190" stop-color="#00a3bf"/><stop offset=".4256" stop-color="#00aaaa"/><stop offset=".4293" stop-color="#00aaa2"/><stop offset=".4773" stop-color="#00aa90"/><stop offset=".4961" stop-color="#00aa90"/><stop offset=".5487" stop-color="#00aaa4"/><stop offset=".5637" stop-color="#00a4bb"/><stop offset=".5759" stop-color="#0098dd"/><stop offset=".5900" stop-color="#0084dd"/><stop offset=".6079" stop-color="#0076dd"/><stop offset=".6276" stop-color="#0034dd"/><stop offset=".6483" stop-color="#0000dc"/><stop offset=".6840" stop-color="#0100aa"/><stop offset=".6924" stop-color="#2800a5"/><stop offset=".7065" stop-color="#5100a0"/><stop offset=".7441" stop-color="#6c009c"/><stop offset=".7450" stop-color="#006ddd"/><stop offset=".7497" stop-color="#006ddd"/><stop offset=".7507" stop-color="#70009c"/><stop offset=".7591" stop-color="#76009b"/><stop offset=".7601" stop-color="#0000c9"/><stop offset=".7648" stop-color="#0000c9"/><stop offset=".7657" stop-color="#7a009b"/><stop offset=".7704" stop-color="#7d009a"/><stop offset=".7713" stop-color="#0000c9"/><stop offset=".7798" stop-color="#0000c9"/><stop offset=".7807" stop-color="#840099"/><stop offset=".7817" stop-color="#006cdd"/><stop offset=".7864" stop-color="#006cdd"/><stop offset=".7873" stop-color="#880099"/><stop offset=".7882" stop-color="#0000cf"/><stop offset=".7948" stop-color="#0000cf"/><stop offset=".7958" stop-color="#870098"/><stop offset=".7967" stop-color="#002ddd"/><stop offset=".8042" stop-color="#002ddd"/><stop offset=".8051" stop-color="#860097"/><stop offset=".8080" stop-color="#850096"/><stop offset=".8089" stop-color="#0000bb"/><stop offset=".8117" stop-color="#0000bb"/><stop offset=".8127" stop-color="#840095"/><stop offset=".8164" stop-color="#830094"/><stop offset=".8174" stop-color="#0000bb"/><stop offset=".8211" stop-color="#0000bb"/><stop offset=".8221" stop-color="#820093"/><stop offset=".8315" stop-color="#780089"/><stop offset=".8324" stop-color="#740085"/><stop offset=".8343" stop-color="#5b0068"/><stop offset=".8352" stop-color="#560062"/><stop offset=".8465" stop-color="#490054"/><stop offset=".9433" stop-color="#160019"/><stop offset=".9996" stop-color="#0e0010"/></linearGradient>
<linearGradient id="lb19" gradientUnits="userSpaceOnUse" x1="48.90" y1="0" x2="315.00" y2="0"><stop offset="0" stop-color="#640072"/><stop offset=".0028" stop-color="#640072"/><stop offset=".0038" stop-color="#0d000f"/><stop offset=".2048" stop-color="#0b000d"/><stop offset=".2057" stop-color="#0d000f"/><stop offset=".2142" stop-color="#670075"/><stop offset=".2161" stop-color="#740085"/><stop offset=".2283" stop-color="#870098"/><stop offset=".2292" stop-color="#7f009a"/><stop offset=".2377" stop-color="#0500a9"/><stop offset=".2386" stop-color="#0000ad"/><stop offset=".2584" stop-color="#0003dd"/><stop offset=".2659" stop-color="#0028dd"/><stop offset=".2959" stop-color="#0078dd"/><stop offset=".3636" stop-color="#0099dd"/><stop offset=".3786" stop-color="#009dd0"/><stop offset=".3796" stop-color="#00a0c8"/><stop offset=".3824" stop-color="#00a0c7"/><stop offset=".3833" stop-color="#009ece"/><stop offset=".4021" stop-color="#009fcb"/><stop offset=".4284" stop-color="#009ecf"/><stop offset=".4707" stop-color="#00aaaa"/><stop offset=".4782" stop-color="#00aaa4"/><stop offset=".4932" stop-color="#00aaa5"/><stop offset=".5083" stop-color="#00a7b3"/><stop offset=".5487" stop-color="#009fca"/><stop offset=".5618" stop-color="#009adb"/><stop offset=".5815" stop-color="#0078dd"/><stop offset=".6257" stop-color="#0000dd"/><stop offset=".6708" stop-color="#0000ab"/><stop offset=".6764" stop-color="#1000a8"/><stop offset=".6887" stop-color="#4100a2"/><stop offset=".7065" stop-color="#6e009c"/><stop offset=".7394" stop-color="#880099"/><stop offset=".7431" stop-color="#880099"/><stop offset=".7441" stop-color="#003edd"/><stop offset=".7507" stop-color="#003ddd"/><stop offset=".7516" stop-color="#870098"/><stop offset=".7591" stop-color="#860097"/><stop offset=".7601" stop-color="#0e00a8"/><stop offset=".7666" stop-color="#0e00a8"/><stop offset=".7676" stop-color="#860097"/><stop offset=".7704" stop-color="#860097"/><stop offset=".7713" stop-color="#0000ba"/><stop offset=".7788" stop-color="#0000bb"/><stop offset=".7798" stop-color="#850096"/><stop offset=".7807" stop-color="#850096"/><stop offset=".7817" stop-color="#0030dd"/><stop offset=".7864" stop-color="#0031dd"/><stop offset=".7873" stop-color="#850096"/><stop offset=".7958" stop-color="#840095"/><stop offset=".7967" stop-color="#0000c7"/><stop offset=".8042" stop-color="#0000c7"/><stop offset=".8051" stop-color="#830094"/><stop offset=".8070" stop-color="#7c008d"/><stop offset=".8183" stop-color="#7c008d"/><stop offset=".8192" stop-color="#7f009a"/><stop offset=".8230" stop-color="#7f009a"/><stop offset=".8239" stop-color="#7b008c"/><stop offset=".8315" stop-color="#770088"/><stop offset=".8343" stop-color="#550061"/><stop offset=".8352" stop-color="#50005c"/><stop offset=".8465" stop-color="#44004e"/><stop offset=".9442" stop-color="#150018"/><stop offset=".9996" stop-color="#0c000e"/></linearGradient>
<linearGradient id="lb20" gradientUnits="userSpaceOnUse" x1="48.90" y1="0" x2="315.00" y2="0"><stop offset="0" stop-color="#640072"/><stop offset=".0028" stop-color="#640072"/><stop offset=".0038" stop-color="#0d000f"/><stop offset=".1945" stop-color="#0b000d"/><stop offset=".1954" stop-color="#18001b"/><stop offset=".1982" stop-color="#760087"/><stop offset=".2048" stop-color="#860097"/><stop offset=".2057" stop-color="#7e009a"/><stop offset=".2086" stop-color="#1000a8"/><stop offset=".2095" stop-color="#0000b2"/><stop offset=".2114" stop-color="#0000d1"/><stop offset=".2123" stop-color="#000edd"/><stop offset=".2142" stop-color="#0063dd"/><stop offset=".2151" stop-color="#007edd"/><stop offset=".2180" stop-color="#0099dd"/><stop offset=".2227" stop-color="#00aaa5"/><stop offset=".2255" stop-color="#00aa93"/><stop offset=".2283" stop-color="#00aa8a"/><stop offset=".2292" stop-color="#00a983"/><stop offset=".2321" stop-color="#00a560"/><stop offset=".2415" stop-color="#009d1f"/><stop offset=".2461" stop-color="#009901"/><stop offset=".2471" stop-color="#009a00"/><stop offset=".2668" stop-color="#00b500"/><stop offset=".2894" stop-color="#00c900"/><stop offset=".4162" stop-color="#00e000"/><stop offset=".4820" stop-color="#00dd00"/><stop offset=".5186" stop-color="#00d200"/><stop offset=".5552" stop-color="#00bf00"/><stop offset=".6032" stop-color="#009900"/><stop offset=".6398" stop-color="#00a55f"/><stop offset=".6520" stop-color="#00aa87"/><stop offset=".6802" stop-color="#00aaaa"/><stop offset=".7206" stop-color="#0098dd"/><stop offset=".7375" stop-color="#0088dd"/><stop offset=".7384" stop-color="#0031dd"/><stop offset=".7422" stop-color="#0030dd"/><stop offset=".7431" stop-color="#0080dd"/><stop offset=".7460" stop-color="#007add"/><stop offset=".7469" stop-color="#0087dd"/><stop offset=".7507" stop-color="#0087dd"/><stop offset=".7516" stop-color="#005cdd"/><stop offset=".7535" stop-color="#0051dd"/><stop offset=".7544" stop-color="#002fdd"/><stop offset=".7591" stop-color="#0032dd"/><stop offset=".7601" stop-color="#002ddd"/><stop offset=".7610" stop-color="#0083dd"/><stop offset=".7629" stop-color="#0083dd"/><stop offset=".7638" stop-color="#0019dd"/><stop offset=".7648" stop-color="#0015dd"/><stop offset=".7835" stop-color="#0000dd"/><stop offset=".7845" stop-color="#0000c1"/><stop offset=".7882" stop-color="#0000c1"/><stop offset=".7892" stop-color="#0000d9"/><stop offset=".7967" stop-color="#0000d3"/><stop offset=".7976" stop-color="#0000bb"/><stop offset=".8051" stop-color="#0000bc"/><stop offset=".8080" stop-color="#0000ac"/><stop offset=".8098" stop-color="#1400a7"/><stop offset=".8192" stop-color="#5100a0"/><stop offset=".8202" stop-color="#0000cd"/><stop offset=".8221" stop-color="#0000cd"/><stop offset=".8230" stop-color="#65009d"/><stop offset=".8296" stop-color="#880099"/><stop offset=".8474" stop-color="#7d008e"/><stop offset=".9066" stop-color="#730084"/><stop offset=".9292" stop-color="#570063"/><stop offset=".9451" stop-color="#320039"/><stop offset=".9630" stop-color="#1c0020"/><stop offset=".9818" stop-color="#100013"/><stop offset=".9996" stop-color="#0d000f"/></linearGradient>
<linearGradient id="rb2" gradientUnits="userSpaceOnUse" x1="327.90" y1="0" x2="595.00" y2="0"><stop offset="0" stop-color="#0000cd"/><stop offset=".0028" stop-color="#0000cd"/><stop offset=".0037" stop-color="#6b007a"/><stop offset=".0066" stop-color="#6b007a"/><stop offset=".0075" stop-color="#160019"/><stop offset=".1947" stop-color="#17001a"/><stop offset=".1956" stop-color="#1a001d"/><stop offset=".1984" stop-color="#490053"/><stop offset=".2022" stop-color="#770088"/><stop offset=".2106" stop-color="#860097"/><stop offset=".2115" stop-color="#83009a"/><stop offset=".2143" stop-color="#4e00a0"/><stop offset=".2153" stop-color="#3200a4"/><stop offset=".2162" stop-color="#0900a9"/><stop offset=".2171" stop-color="#0000b6"/><stop offset=".2190" stop-color="#0000d6"/><stop offset=".2200" stop-color="#0017dd"/><stop offset=".2218" stop-color="#0065dd"/><stop offset=".2228" stop-color="#007bdd"/><stop offset=".2265" stop-color="#0095dd"/><stop offset=".2274" stop-color="#009ada"/><stop offset=".2321" stop-color="#00aaaa"/><stop offset=".2359" stop-color="#00aa98"/><stop offset=".2424" stop-color="#00aa85"/><stop offset=".2593" stop-color="#009900"/><stop offset=".2658" stop-color="#00aa00"/><stop offset=".3164" stop-color="#00bd00"/><stop offset=".4568" stop-color="#00d100"/><stop offset=".5139" stop-color="#00ce00"/><stop offset=".5260" stop-color="#00bb00"/><stop offset=".5775" stop-color="#009900"/><stop offset=".5859" stop-color="#009b13"/><stop offset=".5972" stop-color="#00a140"/><stop offset=".6243" stop-color="#00aa88"/><stop offset=".6458" stop-color="#00aa90"/><stop offset=".6720" stop-color="#00aaaa"/><stop offset=".7067" stop-color="#0098dd"/><stop offset=".7207" stop-color="#008bdd"/><stop offset=".7450" stop-color="#0084dd"/><stop offset=".7460" stop-color="#0056dd"/><stop offset=".7497" stop-color="#0056dd"/><stop offset=".7507" stop-color="#0081dd"/><stop offset=".7544" stop-color="#007fdd"/><stop offset=".7553" stop-color="#0055dd"/><stop offset=".7581" stop-color="#0055dd"/><stop offset=".7591" stop-color="#007ddd"/><stop offset=".7638" stop-color="#007bdd"/><stop offset=".7647" stop-color="#003add"/><stop offset=".7675" stop-color="#003add"/><stop offset=".7684" stop-color="#0079dd"/><stop offset=".7722" stop-color="#0076dd"/><stop offset=".7731" stop-color="#0075dd"/><stop offset=".7741" stop-color="#0046dd"/><stop offset=".7769" stop-color="#0046dd"/><stop offset=".7778" stop-color="#006cdd"/><stop offset=".7825" stop-color="#0064dd"/><stop offset=".7834" stop-color="#002bdd"/><stop offset=".7862" stop-color="#002bdd"/><stop offset=".7872" stop-color="#005bdd"/><stop offset=".7918" stop-color="#0053dd"/><stop offset=".7928" stop-color="#0038dd"/><stop offset=".7956" stop-color="#0038dd"/><stop offset=".7965" stop-color="#004bdd"/><stop offset=".8012" stop-color="#0043dd"/><stop offset=".8021" stop-color="#001edd"/><stop offset=".8049" stop-color="#001edd"/><stop offset=".8059" stop-color="#003add"/><stop offset=".8096" stop-color="#0034dd"/><stop offset=".8180" stop-color="#0000dc"/><stop offset=".8255" stop-color="#0000cb"/><stop offset=".8340" stop-color="#0000aa"/><stop offset=".8368" stop-color="#1b00a7"/><stop offset=".8443" stop-color="#4600a1"/><stop offset=".8630" stop-color="#67009d"/><stop offset=".9004" stop-color="#880099"/><stop offset=".9519" stop-color="#770088"/><stop offset=".9641" stop-color="#61006e"/><stop offset=".9865" stop-color="#2b0031"/><stop offset=".9996" stop-color="#120015"/></linearGradient>
<linearGradient id="rb3" gradientUnits="userSpaceOnUse" x1="327.90" y1="0" x2="595.00" y2="0"><stop offset="0" stop-color="#00aa9f"/><stop offset=".0028" stop-color="#00aa9f"/><stop offset=".0037" stop-color="#6b007a"/><stop offset=".0066" stop-color="#6b007a"/><stop offset=".0075" stop-color="#140017"/><stop offset=".1956" stop-color="#150018"/><stop offset=".2087" stop-color="#160019"/><stop offset=".2134" stop-color="#33003a"/><stop offset=".2171" stop-color="#5f006d"/><stop offset=".2200" stop-color="#770088"/><stop offset=".2293" stop-color="#880099"/><stop offset=".2349" stop-color="#2700a5"/><stop offset=".2377" stop-color="#0000ac"/><stop offset=".2480" stop-color="#0000dc"/><stop offset=".2490" stop-color="#0005dd"/><stop offset=".2583" stop-color="#004ddd"/><stop offset=".2649" stop-color="#0074dd"/><stop offset=".2742" stop-color="#0085dd"/><stop offset=".3014" stop-color="#0099dd"/><stop offset=".3107" stop-color="#009cd5"/><stop offset=".4043" stop-color="#00a6b7"/><stop offset=".4268" stop-color="#00aaaa"/><stop offset=".4530" stop-color="#00aa9d"/><stop offset=".4680" stop-color="#00aa9e"/><stop offset=".4802" stop-color="#00aa92"/><stop offset=".5054" stop-color="#00aa8e"/><stop offset=".5541" stop-color="#00aa93"/><stop offset=".5859" stop-color="#00a8b1"/><stop offset=".5915" stop-color="#009dd1"/><stop offset=".5953" stop-color="#0097dd"/><stop offset=".6018" stop-color="#0085dd"/><stop offset=".6243" stop-color="#0077dd"/><stop offset=".6514" stop-color="#003fdd"/><stop offset=".6758" stop-color="#0000dc"/><stop offset=".7039" stop-color="#0000be"/><stop offset=".7132" stop-color="#0100aa"/><stop offset=".7226" stop-color="#2800a5"/><stop offset=".7338" stop-color="#4e00a0"/><stop offset=".7441" stop-color="#62009e"/><stop offset=".7450" stop-color="#0097dd"/><stop offset=".7507" stop-color="#0097dd"/><stop offset=".7516" stop-color="#0000dc"/><stop offset=".7535" stop-color="#0000dc"/><stop offset=".7544" stop-color="#68009d"/><stop offset=".7591" stop-color="#6a009d"/><stop offset=".7600" stop-color="#0089dd"/><stop offset=".7675" stop-color="#0089dd"/><stop offset=".7684" stop-color="#0077dd"/><stop offset=".7815" stop-color="#0077dd"/><stop offset=".7825" stop-color="#0096dd"/><stop offset=".7900" stop-color="#0096dd"/><stop offset=".7909" stop-color="#0076dd"/><stop offset=".7965" stop-color="#0076dd"/><stop offset=".7975" stop-color="#0096dd"/><stop offset=".8049" stop-color="#0096dd"/><stop offset=".8059" stop-color="#880099"/><stop offset=".8068" stop-color="#870098"/><stop offset=".8077" stop-color="#0000cd"/><stop offset=".8190" stop-color="#0000cd"/><stop offset=".8199" stop-color="#850096"/><stop offset=".8237" stop-color="#840095"/><stop offset=".8246" stop-color="#0000c7"/><stop offset=".8265" stop-color="#0000c7"/><stop offset=".8274" stop-color="#7f0090"/><stop offset=".8443" stop-color="#770088"/><stop offset=".8695" stop-color="#53005e"/><stop offset=".9622" stop-color="#1b001e"/><stop offset=".9996" stop-color="#100012"/></linearGradient>
<linearGradient id="rb19" gradientUnits="userSpaceOnUse" x1="327.90" y1="0" x2="595.00" y2="0"><stop offset="0" stop-color="#00a352"/><stop offset=".0028" stop-color="#00a352"/><stop offset=".0037" stop-color="#6b007a"/><stop offset=".0066" stop-color="#6b007a"/><stop offset=".0075" stop-color="#140017"/><stop offset=".2087" stop-color="#150018"/><stop offset=".2134" stop-color="#2f0035"/><stop offset=".2171" stop-color="#580064"/><stop offset=".2209" stop-color="#760087"/><stop offset=".2303" stop-color="#870098"/><stop offset=".2312" stop-color="#7f009a"/><stop offset=".2349" stop-color="#4200a2"/><stop offset=".2396" stop-color="#0000ab"/><stop offset=".2480" stop-color="#0000cc"/><stop offset=".2555" stop-color="#0003dd"/><stop offset=".2593" stop-color="#0016dd"/><stop offset=".2733" stop-color="#0046dd"/><stop offset=".2855" stop-color="#0057dd"/><stop offset=".3023" stop-color="#0077dd"/><stop offset=".4053" stop-color="#0099dd"/><stop offset=".4530" stop-color="#00a5b9"/><stop offset=".4680" stop-color="#00a6b7"/><stop offset=".4783" stop-color="#00aaaa"/><stop offset=".4951" stop-color="#00aaa6"/><stop offset=".5541" stop-color="#00a9ac"/><stop offset=".5859" stop-color="#009dd1"/><stop offset=".5887" stop-color="#0098dd"/><stop offset=".6018" stop-color="#0072dd"/><stop offset=".6561" stop-color="#0000dd"/><stop offset=".7029" stop-color="#0000ab"/><stop offset=".7132" stop-color="#2f00a4"/><stop offset=".7226" stop-color="#4d00a0"/><stop offset=".7338" stop-color="#6b009d"/><stop offset=".7441" stop-color="#7b009b"/><stop offset=".7450" stop-color="#0088dd"/><stop offset=".7507" stop-color="#0088dd"/><stop offset=".7516" stop-color="#0000cd"/><stop offset=".7535" stop-color="#0000cd"/><stop offset=".7544" stop-color="#82009a"/><stop offset=".7591" stop-color="#850099"/><stop offset=".7600" stop-color="#007bdd"/><stop offset=".7675" stop-color="#007bdd"/><stop offset=".7684" stop-color="#004bdd"/><stop offset=".7815" stop-color="#004add"/><stop offset=".7825" stop-color="#0087dd"/><stop offset=".7900" stop-color="#0087dd"/><stop offset=".7909" stop-color="#0049dd"/><stop offset=".7965" stop-color="#004add"/><stop offset=".7975" stop-color="#0087dd"/><stop offset=".8049" stop-color="#0087dd"/><stop offset=".8059" stop-color="#840095"/><stop offset=".8068" stop-color="#840095"/><stop offset=".8077" stop-color="#0000bf"/><stop offset=".8190" stop-color="#0000c0"/><stop offset=".8199" stop-color="#810092"/><stop offset=".8237" stop-color="#810092"/><stop offset=".8246" stop-color="#0000b9"/><stop offset=".8265" stop-color="#0000b9"/><stop offset=".8274" stop-color="#7c008d"/><stop offset=".8405" stop-color="#770088"/><stop offset=".8471" stop-color="#680077"/><stop offset=".8695" stop-color="#4d0058"/><stop offset=".9622" stop-color="#18001b"/><stop offset=".9996" stop-color="#110014"/></linearGradient>
<linearGradient id="rb21" gradientUnits="userSpaceOnUse" x1="327.90" y1="0" x2="595.00" y2="0"><stop offset="0" stop-color="#00c900"/><stop offset=".0028" stop-color="#00c900"/><stop offset=".0037" stop-color="#6b007a"/><stop offset=".0066" stop-color="#6b007a"/><stop offset=".0075" stop-color="#18001c"/><stop offset=".1975" stop-color="#18001c"/><stop offset=".1984" stop-color="#1f0024"/><stop offset=".2012" stop-color="#52005e"/><stop offset=".2040" stop-color="#770088"/><stop offset=".2125" stop-color="#870098"/><stop offset=".2134" stop-color="#7a009b"/><stop offset=".2171" stop-color="#2e00a4"/><stop offset=".2181" stop-color="#0b00a9"/><stop offset=".2190" stop-color="#0000b7"/><stop offset=".2209" stop-color="#0000d8"/><stop offset=".2218" stop-color="#001edd"/><stop offset=".2237" stop-color="#0073dd"/><stop offset=".2246" stop-color="#0082dd"/><stop offset=".2274" stop-color="#0098dd"/><stop offset=".2331" stop-color="#00aaa3"/><stop offset=".2377" stop-color="#00aa84"/><stop offset=".2434" stop-color="#00a140"/><stop offset=".2508" stop-color="#009a00"/><stop offset=".2686" stop-color="#00c300"/><stop offset=".3182" stop-color="#00d700"/><stop offset=".4231" stop-color="#00e300"/><stop offset=".4418" stop-color="#00e900"/><stop offset=".4427" stop-color="#00ef00"/><stop offset=".4886" stop-color="#00f100"/><stop offset=".5167" stop-color="#00ed00"/><stop offset=".5288" stop-color="#00d800"/><stop offset=".6131" stop-color="#009900"/><stop offset=".6327" stop-color="#00a036"/><stop offset=".6477" stop-color="#00a247"/><stop offset=".6627" stop-color="#00aa88"/><stop offset=".6936" stop-color="#00aaaa"/><stop offset=".7226" stop-color="#009ada"/><stop offset=".7273" stop-color="#0099dd"/><stop offset=".7450" stop-color="#0092dd"/><stop offset=".7460" stop-color="#007add"/><stop offset=".7497" stop-color="#007add"/><stop offset=".7507" stop-color="#008fdd"/><stop offset=".7544" stop-color="#008ddd"/><stop offset=".7553" stop-color="#007add"/><stop offset=".7581" stop-color="#007add"/><stop offset=".7591" stop-color="#008bdd"/><stop offset=".7638" stop-color="#0088dd"/><stop offset=".7647" stop-color="#0065dd"/><stop offset=".7675" stop-color="#0065dd"/><stop offset=".7684" stop-color="#0086dd"/><stop offset=".7731" stop-color="#0084dd"/><stop offset=".7741" stop-color="#0073dd"/><stop offset=".7769" stop-color="#0073dd"/><stop offset=".7778" stop-color="#0081dd"/><stop offset=".7825" stop-color="#007fdd"/><stop offset=".7834" stop-color="#0056dd"/><stop offset=".7862" stop-color="#0056dd"/><stop offset=".7872" stop-color="#007ddd"/><stop offset=".7918" stop-color="#007bdd"/><stop offset=".7928" stop-color="#0064dd"/><stop offset=".7956" stop-color="#0064dd"/><stop offset=".7965" stop-color="#0078dd"/><stop offset=".7993" stop-color="#0077dd"/><stop offset=".8012" stop-color="#0074dd"/><stop offset=".8021" stop-color="#0048dd"/><stop offset=".8049" stop-color="#0048dd"/><stop offset=".8059" stop-color="#006cdd"/><stop offset=".8124" stop-color="#0061dd"/><stop offset=".8199" stop-color="#002bdd"/><stop offset=".8274" stop-color="#0000dd"/><stop offset=".8396" stop-color="#0000aa"/><stop offset=".8471" stop-color="#2d00a4"/><stop offset=".8648" stop-color="#4c00a0"/><stop offset=".9098" stop-color="#79009b"/><stop offset=".9173" stop-color="#880099"/><stop offset=".9603" stop-color="#760087"/><stop offset=".9996" stop-color="#19001c"/></linearGradient>
</defs>
<rect x="0" y="0" width="640" height="440" fill="#ffffff"/>
<rect x="48.90" y="27.90" width="266.10" height="17.22" fill="url(#l0)" shape-rendering="crispEdges"/>
<rect x="48.90" y="44.62" width="266.10" height="17.22" fill="url(#l1)" shape-rendering="crispEdges"/>
<rect x="48.90" y="61.34" width="266.10" height="17.22" fill="url(#l2)" shape-rendering="crispEdges"/>
<rect x="48.90" y="78.05" width="266.10" height="17.22" fill="url(#l3)" shape-rendering="crispEdges"/>
<rect x="48.90" y="94.77" width="266.10" height="17.22" fill="url(#l4)" shape-rendering="crispEdges"/>
<rect x="48.90" y="111.49" width="266.10" height="17.22" fill="url(#l5)" shape-rendering="crispEdges"/>
<rect x="48.90" y="128.21" width="266.10" height="17.22" fill="url(#l6)" shape-rendering="crispEdges"/>
<rect x="48.90" y="144.93" width="266.10" height="17.22" fill="url(#l7)" shape-rendering="crispEdges"/>
<rect x="48.90" y="161.65" width="266.10" height="17.22" fill="url(#l8)" shape-rendering="crispEdges"/>
<rect x="48.90" y="178.36" width="266.10" height="17.22" fill="url(#l9)" shape-rendering="crispEdges"/>
<rect x="48.90" y="195.08" width="266.10" height="17.22" fill="url(#l10)" shape-rendering="crispEdges"/>
<rect x="48.90" y="211.80" width="266.10" height="17.22" fill="url(#l11)" shape-rendering="crispEdges"/>
<rect x="48.90" y="228.52" width="266.10" height="17.22" fill="url(#l12)" shape-rendering="crispEdges"/>
<rect x="48.90" y="245.24" width="266.10" height="17.22" fill="url(#l13)" shape-rendering="crispEdges"/>
<rect x="48.90" y="261.95" width="266.10" height="17.22" fill="url(#l14)" shape-rendering="crispEdges"/>
<rect x="48.90" y="278.67" width="266.10" height="17.22" fill="url(#l15)" shape-rendering="crispEdges"/>
<rect x="48.90" y="295.39" width="266.10" height="17.22" fill="url(#l16)" shape-rendering="crispEdges"/>
<rect x="48.90" y="312.11" width="266.10" height="17.22" fill="url(#l17)" shape-rendering="crispEdges"/>
<rect x="48.90" y="328.83" width="266.10" height="17.22" fill="url(#l18)" shape-rendering="crispEdges"/>
<rect x="48.90" y="345.55" width="266.10" height="17.22" fill="url(#l19)" shape-rendering="crispEdges"/>
<rect x="48.90" y="362.26" width="266.10" height="17.22" fill="url(#l20)" shape-rendering="crispEdges"/>
<rect x="48.90" y="378.98" width="266.10" height="16.72" fill="url(#l21)" shape-rendering="crispEdges"/>
<rect x="327.90" y="27.90" width="267.10" height="17.22" fill="url(#r0)" shape-rendering="crispEdges"/>
<rect x="327.90" y="44.62" width="267.10" height="17.22" fill="url(#r1)" shape-rendering="crispEdges"/>
<rect x="327.90" y="61.34" width="267.10" height="17.22" fill="url(#r2)" shape-rendering="crispEdges"/>
<rect x="327.90" y="78.05" width="267.10" height="17.22" fill="url(#r3)" shape-rendering="crispEdges"/>
<rect x="327.90" y="94.77" width="267.10" height="17.22" fill="url(#r4)" shape-rendering="crispEdges"/>
<rect x="327.90" y="111.49" width="267.10" height="17.22" fill="url(#r5)" shape-rendering="crispEdges"/>
<rect x="327.90" y="128.21" width="267.10" height="17.22" fill="url(#r6)" shape-rendering="crispEdges"/>
<rect x="327.90" y="144.93" width="267.10" height="17.22" fill="url(#r7)" shape-rendering="crispEdges"/>
<rect x="327.90" y="161.65" width="267.10" height="17.22" fill="url(#r8)" shape-rendering="crispEdges"/>
<rect x="327.90" y="178.36" width="267.10" height="17.22" fill="url(#r9)" shape-rendering="crispEdges"/>
<rect x="327.90" y="195.08" width="267.10" height="17.22" fill="url(#r10)" shape-rendering="crispEdges"/>
<rect x="327.90" y="211.80" width="267.10" height="17.22" fill="url(#r11)" shape-rendering="crispEdges"/>
<rect x="327.90" y="228.52" width="267.10" height="17.22" fill="url(#r12)" shape-rendering="crispEdges"/>
<rect x="327.90" y="245.24" width="267.10" height="17.22" fill="url(#r13)" shape-rendering="crispEdges"/>
<rect x="327.90" y="261.95" width="267.10" height="17.22" fill="url(#r14)" shape-rendering="crispEdges"/>
<rect x="327.90" y="278.67" width="267.10" height="17.22" fill="url(#r15)" shape-rendering="crispEdges"/>
<rect x="327.90" y="295.39" width="267.10" height="17.22" fill="url(#r16)" shape-rendering="crispEdges"/>
<rect x="327.90" y="312.11" width="267.10" height="17.22" fill="url(#r17)" shape-rendering="crispEdges"/>
<rect x="327.90" y="328.83" width="267.10" height="17.22" fill="url(#r18)" shape-rendering="crispEdges"/>
<rect x="327.90" y="345.55" width="267.10" height="17.22" fill="url(#r19)" shape-rendering="crispEdges"/>
<rect x="327.90" y="362.26" width="267.10" height="17.22" fill="url(#r20)" shape-rendering="crispEdges"/>
<rect x="327.90" y="378.98" width="267.10" height="16.72" fill="url(#r21)" shape-rendering="crispEdges"/>
<rect x="48.90" y="43.87" width="266.10" height="1.00" fill="url(#lb1)" shape-rendering="crispEdges"/><rect x="48.90" y="77.75" width="266.10" height="1.00" fill="url(#lb3)" shape-rendering="crispEdges"/><rect x="48.90" y="344.80" width="266.10" height="1.00" fill="url(#lb19)" shape-rendering="crispEdges"/><rect x="48.90" y="361.96" width="266.10" height="1.00" fill="url(#lb20)" shape-rendering="crispEdges"/><rect x="327.90" y="60.59" width="267.10" height="1.00" fill="url(#rb2)" shape-rendering="crispEdges"/><rect x="327.90" y="77.75" width="267.10" height="1.00" fill="url(#rb3)" shape-rendering="crispEdges"/><rect x="327.90" y="344.80" width="267.10" height="1.00" fill="url(#rb19)" shape-rendering="crispEdges"/><rect x="327.90" y="378.68" width="267.10" height="1.00" fill="url(#rb21)" shape-rendering="crispEdges"/><rect x="160.20" y="161.65" width="1.50" height="16.72" fill="#eeee00"/><rect x="160.20" y="178.36" width="1.50" height="16.72" fill="#00ff00" opacity="0.35"/><rect x="440.50" y="144.93" width="1.50" height="33.44" fill="#ff9900"/><rect x="440.50" y="178.36" width="1.50" height="16.72" fill="#ffc200"/><rect x="440.50" y="195.08" width="1.50" height="16.72" fill="#4bff00" opacity="0.50"/>
<g clip-path="url(#cl)"><path d="M48.9 283.4 L50.4 283.4 L51.9 283.4 L53.4 283.4 L54.9 283.4 L56.4 283.4 L58.0 283.4 L59.5 283.4 L61.0 283.4 L62.5 283.4 L64.0 283.4 L65.5 283.4 L67.0 283.4 L68.5 283.5 L70.0 283.5 L71.5 283.5 L73.0 283.5 L74.5 283.5 L76.1 283.5 L77.6 283.5 L79.1 283.5 L80.6 283.5 L82.1 283.5 L83.6 283.5 L85.1 283.5 L86.6 283.5 L88.1 283.5 L89.6 283.5 L91.1 283.5 L92.6 283.5 L94.2 283.5 L95.7 283.5 L97.2 283.5 L98.7 283.5 L100.2 283.6 L101.7 283.6 L103.2 283.6 L103.7 281.9 L104.2 280.1 L104.6 278.4 L105.1 276.7 L105.6 275.0 L105.9 273.5 L106.1 272.0 L106.4 270.5 L106.6 269.0 L106.9 267.5 L107.2 266.0 L107.4 264.5 L107.7 263.0 L107.9 261.5 L108.2 260.0 L108.4 258.5 L108.5 257.0 L108.7 255.5 L108.8 254.0 L109.0 252.5 L109.1 251.0 L109.2 249.5 L109.4 248.0 L109.5 246.5 L109.7 245.0 L109.9 243.5 L110.0 242.0 L110.2 240.4 L110.3 238.0 L110.5 236.8 L110.6 236.0 L110.8 234.3 L110.9 232.3 L111.0 231.0 L111.2 230.2 L111.4 228.3 L111.7 226.4 L111.9 225.9 L112.1 223.6 L112.4 222.7 L112.6 221.2 L112.8 219.5 L113.1 218.5 L113.3 216.1 L113.5 214.9 L113.8 212.8 L114.0 212.0 L114.2 209.5 L114.5 208.1 L114.7 206.8 L115.0 205.1 L115.2 202.7 L115.5 201.8 L115.8 200.2 L116.1 198.1 L116.4 197.1 L116.6 195.1 L116.9 193.6 L117.2 192.2 L117.5 191.0 L117.9 190.1 L118.4 188.2 L118.9 187.1 L119.3 185.3 L119.8 182.8 L120.2 181.1 L121.8 178.7 L123.4 178.4 L124.7 177.4 L126.0 175.5 L127.3 173.2 L129.0 173.3 L130.7 172.0 L132.0 171.1 L133.2 169.4 L134.4 168.4 L135.6 168.9 L136.8 167.6 L138.2 165.3 L139.5 165.0 L140.9 164.1 L142.3 163.4 L143.6 161.8 L145.0 160.9 L146.4 160.0 L147.8 159.1 L149.1 157.6 L150.4 156.6 L151.7 156.5 L153.0 155.9 L154.2 154.0 L155.3 153.0 L156.4 151.5 L157.6 150.9 L158.8 150.7 L159.6 149.6 L160.5 147.8 L161.4 145.8 L162.3 145.0 L163.2 143.6 L164.1 142.6 L165.0 142.1 L166.2 140.2 L167.5 138.4 L168.8 138.0 L170.0 138.0 L171.2 135.9 L172.5 134.5 L173.8 134.2 L175.0 133.2 L176.2 132.6 L178.0 131.3 L179.0 132.7 L180.0 134.4 L181.0 136.3 L182.7 136.0 L184.3 134.6 L186.0 134.7 L186.8 135.6 L187.6 137.1 L188.4 138.9 L189.2 139.4 L190.0 141.0 L190.8 142.1 L191.5 144.0 L192.2 146.2 L193.0 147.6 L193.8 149.1 L195.0 149.2 L196.2 151.1 L197.5 152.7 L198.8 154.0 L199.2 155.7 L199.7 157.2 L200.2 158.8 L200.6 159.2 L201.1 161.5 L201.6 162.7 L202.0 163.7 L202.5 165.8 L203.3 168.0 L204.1 169.1 L204.9 171.0 L205.6 172.1 L206.4 173.1 L207.2 173.8 L208.0 175.3 L208.5 178.0 L209.0 179.0 L209.5 180.8 L210.0 182.8 L210.5 183.7 L211.0 185.7 L211.5 187.0 L212.0 187.8 L212.5 189.4 L213.0 190.7 L213.9 192.3 L214.8 193.5 L215.6 195.0 L216.5 196.2 L217.4 197.8 L218.2 198.8 L219.1 199.2 L220.0 201.4 L220.7 202.7 L221.4 204.7 L222.1 205.8 L222.9 207.1 L223.6 208.5 L224.3 209.6 L225.0 211.2 L226.0 212.8 L227.0 214.1 L228.0 214.9 L229.0 216.2 L230.0 216.8 L230.7 217.8 L231.4 219.8 L232.1 221.2 L232.8 223.6 L233.5 225.1 L234.2 225.2 L234.9 226.9 L235.6 228.3 L236.3 229.8 L237.0 231.3 L237.6 232.5 L238.2 234.7 L238.8 236.0 L239.4 237.7 L240.0 238.6 L240.6 239.7 L241.2 241.3 L241.8 242.3 L242.4 244.0 L243.0 246.3 L243.6 248.2 L244.2 249.1 L244.8 250.4 L245.4 252.0 L246.0 252.7" fill="none" stroke="#fff" stroke-width="2.40" stroke-linejoin="round" stroke-linecap="butt"/><path d="M48.9 283.4 L50.4 283.4 L51.9 283.4 L53.4 283.4 L54.9 283.4 L56.4 283.4 L58.0 283.4 L59.5 283.4 L61.0 283.4 L62.5 283.4 L64.0 283.4 L65.5 283.4 L67.0 283.5 L68.5 283.5 L70.0 283.5 L71.5 283.5 L73.0 283.5 L74.5 283.5 L76.1 283.5 L77.6 283.5 L79.1 283.5 L80.6 283.5 L82.1 283.5 L83.6 283.5 L85.1 283.5 L86.6 283.5 L88.1 283.5 L89.6 283.5 L91.1 283.5 L92.7 283.5 L94.2 283.5 L95.7 283.5 L97.2 283.6 L98.7 283.6 L100.2 283.6 L101.7 283.6 L103.2 283.6 L103.7 281.9 L104.2 280.1 L104.7 278.4 L105.2 276.7 L105.7 275.0 L106.0 273.5 L106.2 272.0 L106.5 270.5 L106.8 269.0 L107.0 267.5 L107.3 266.0 L107.6 264.5 L107.8 263.0 L108.1 261.5 L108.4 260.0 L108.5 258.5 L108.7 257.0 L108.8 255.5 L109.0 254.0 L109.2 252.5 L109.3 251.0 L109.5 249.5 L109.6 248.0 L109.8 246.5 L109.9 245.0 L110.1 242.8 L110.3 241.2 L110.4 240.4 L110.6 238.6 L110.7 237.2 L110.9 235.6 L111.0 233.9 L111.2 232.8 L111.4 231.2 L111.5 230.0 L111.8 228.4 L112.0 227.2 L112.3 225.4 L112.5 223.6 L112.7 222.2 L113.0 221.3 L113.2 219.2 L113.5 218.2 L113.7 216.6 L113.9 214.4 L114.2 213.5 L114.4 211.0 L114.7 210.2 L114.9 208.5 L115.2 206.1 L115.4 205.0 L115.7 203.2 L116.0 200.9 L116.3 199.8 L116.7 197.7 L117.0 196.9 L117.3 195.2 L117.6 194.1 L117.9 191.7 L118.4 190.7 L118.8 189.6 L119.3 188.1 L119.7 186.1 L120.1 185.1 L120.6 183.3 L121.7 181.1 L122.8 179.8 L123.9 179.7 L125.1 178.4 L126.4 176.8 L127.6 174.9 L128.9 174.2 L130.1 173.6 L131.4 172.7 L132.6 171.4 L133.9 170.5 L135.1 169.7 L136.3 169.4 L137.6 167.8 L138.9 166.6 L140.2 165.6 L141.5 165.0 L142.8 163.8 L144.1 162.0 L145.4 161.0 L146.8 161.5 L148.1 160.9 L149.3 159.3 L150.5 157.2 L151.8 157.2 L153.0 156.3 L154.2 156.0 L155.3 154.2 L156.4 153.0 L157.6 152.3 L158.8 151.6 L159.6 150.8 L160.5 149.3 L161.4 146.9 L162.3 145.7 L163.2 145.1 L164.1 144.3 L165.0 143.0 L166.2 141.5 L167.5 140.5 L168.8 139.0 L170.0 138.6 L171.2 138.0 L172.5 135.9 L173.8 135.4 L175.0 134.4 L176.2 134.5 L178.0 132.8 L179.0 134.4 L180.0 135.9 L181.0 137.9 L182.7 137.0 L184.3 135.6 L186.0 135.2 L186.8 137.2 L187.6 139.4 L188.4 140.1 L189.2 141.3 L190.0 142.6 L190.8 143.5 L191.5 145.3 L192.2 147.0 L193.0 149.2 L193.8 150.1 L194.8 151.7 L195.8 152.0 L196.8 153.2 L197.8 154.7 L198.8 156.3 L199.2 158.3 L199.7 159.6 L200.2 160.9 L200.6 161.3 L201.1 163.1 L201.6 164.8 L202.0 166.0 L202.5 167.4 L203.3 169.3 L204.1 170.6 L204.9 172.7 L205.6 173.9 L206.4 174.2 L207.2 175.6 L208.0 177.0 L208.5 178.4 L209.0 180.4 L209.5 182.4 L210.0 184.1 L210.5 185.0 L211.0 186.3 L211.5 188.3 L212.0 189.3 L212.5 190.7 L213.0 192.0 L213.9 192.7 L214.8 194.7 L215.6 196.2 L216.5 198.1 L217.4 199.0 L218.2 199.4 L219.1 200.8 L220.0 202.4 L220.7 203.8 L221.4 205.5 L222.1 207.3 L222.9 208.2 L223.6 209.6 L224.3 211.2 L225.0 212.4 L226.0 213.1 L227.0 215.7 L228.0 216.9 L229.0 217.8 L230.0 217.8 L230.7 219.8 L231.4 220.7 L232.1 223.0 L232.8 224.2 L233.5 225.7 L234.2 226.7 L234.9 228.4 L235.6 228.7 L236.3 230.5 L237.0 231.6 L237.6 233.0 L238.2 235.3 L238.8 236.9 L239.4 237.8 L240.0 239.9 L240.6 240.5 L241.2 241.4 L241.8 243.4 L242.4 244.9 L243.0 246.2 L243.8 248.1 L244.5 250.4 L245.2 252.2 L246.0 253.6" fill="none" stroke="#fff" stroke-width="2.40" stroke-linejoin="round" stroke-linecap="butt"/><path d="M48.9 283.4 L50.4 283.4 L51.9 283.4 L53.4 283.4 L54.9 283.4 L56.4 283.4 L58.0 283.4 L59.5 283.4 L61.0 283.4 L62.5 283.4 L64.0 283.4 L65.5 283.5 L67.0 283.5 L68.5 283.5 L70.0 283.5 L71.5 283.5 L73.0 283.5 L74.6 283.5 L76.1 283.5 L77.6 283.5 L79.1 283.5 L80.6 283.5 L82.1 283.5 L83.6 283.5 L85.1 283.5 L86.6 283.5 L88.1 283.5 L89.6 283.5 L91.2 283.5 L92.7 283.5 L94.2 283.6 L95.7 283.6 L97.2 283.6 L98.7 283.6 L100.2 283.6 L101.7 283.6 L103.2 283.6 L103.7 281.9 L104.3 280.2 L104.8 278.4 L105.3 276.7 L105.8 275.0 L106.1 273.5 L106.3 272.0 L106.6 270.5 L106.9 269.0 L107.2 267.5 L107.4 266.0 L107.7 264.5 L108.0 263.0 L108.3 261.5 L108.5 260.0 L108.7 258.5 L108.9 257.0 L109.0 255.5 L109.2 254.0 L109.4 252.5 L109.5 251.0 L109.7 249.5 L109.9 248.0 L110.0 245.7 L110.2 244.6 L110.4 243.1 L110.5 242.2 L110.7 240.7 L110.9 239.5 L111.0 237.3 L111.2 236.2 L111.3 234.4 L111.5 233.1 L111.7 232.0 L111.8 230.0 L112.1 228.6 L112.3 227.5 L112.6 225.8 L112.8 223.8 L113.1 222.5 L113.3 221.0 L113.6 218.5 L113.9 217.6 L114.1 215.8 L114.4 213.8 L114.6 212.0 L114.9 211.2 L115.1 209.0 L115.4 207.3 L115.6 205.8 L115.9 205.1 L116.2 203.5 L116.5 202.4 L116.8 201.0 L117.1 199.4 L117.4 198.5 L117.7 196.4 L118.0 195.0 L118.3 193.7 L118.9 191.6 L119.4 189.9 L119.9 187.7 L120.4 186.1 L120.9 183.8 L122.1 183.0 L123.2 182.1 L124.3 180.3 L125.5 178.5 L126.8 177.0 L128.0 176.5 L129.3 176.2 L130.7 174.4 L132.0 172.9 L133.3 172.1 L134.5 171.7 L135.8 171.2 L137.1 169.3 L138.3 168.2 L139.6 167.4 L140.8 167.2 L142.0 165.2 L143.3 163.9 L144.5 163.9 L145.8 163.2 L147.1 162.2 L148.3 160.7 L149.9 159.7 L151.4 159.2 L153.0 157.3 L154.2 155.5 L155.3 154.7 L156.4 154.2 L157.6 153.5 L158.8 153.0 L159.6 151.2 L160.5 149.2 L161.4 148.6 L162.3 147.6 L163.2 147.2 L164.1 145.4 L165.0 143.6 L166.2 142.1 L167.5 141.7 L168.8 141.0 L170.0 140.1 L171.2 138.7 L172.5 137.1 L173.8 136.6 L175.0 136.8 L176.2 134.9 L178.0 133.5 L179.0 135.3 L180.0 137.2 L181.0 139.2 L182.7 138.2 L184.3 137.6 L186.0 137.6 L186.8 139.3 L187.6 141.0 L188.4 141.5 L189.2 143.3 L190.0 144.8 L190.8 145.6 L191.5 148.0 L192.2 149.3 L193.0 150.2 L193.8 150.8 L194.8 152.2 L195.8 153.2 L196.8 155.4 L197.8 157.1 L198.8 158.6 L199.2 159.7 L199.7 160.3 L200.2 161.8 L200.6 162.9 L201.1 165.1 L201.6 166.7 L202.0 167.8 L202.5 169.9 L203.3 171.4 L204.1 172.1 L204.9 173.6 L205.6 174.3 L206.4 175.8 L207.2 177.1 L208.0 178.3 L208.5 180.3 L209.0 181.5 L209.5 183.8 L210.0 185.0 L210.5 186.1 L211.0 186.7 L211.5 187.7 L212.0 189.9 L212.5 191.5 L213.0 192.3 L213.9 194.5 L214.8 195.8 L215.6 197.7 L216.5 198.6 L217.4 199.0 L218.2 200.8 L219.1 202.7 L220.0 204.2 L220.7 206.3 L221.4 207.1 L222.1 207.9 L222.9 209.3 L223.6 210.8 L224.3 211.9 L225.0 213.8 L226.0 216.1 L227.0 216.9 L228.0 217.4 L229.0 218.4 L230.0 219.5 L230.8 221.4 L231.6 223.3 L232.3 224.9 L233.1 225.7 L233.9 226.6 L234.7 227.6 L235.4 229.7 L236.2 231.1 L237.0 233.6 L237.6 235.1 L238.2 235.6 L238.8 236.9 L239.4 238.4 L240.0 239.1 L240.6 240.4 L241.2 242.7 L241.8 244.1 L242.4 245.7 L243.0 247.7 L243.8 249.3 L244.5 250.0 L245.2 251.1 L246.0 252.8" fill="none" stroke="#fff" stroke-width="2.40" stroke-linejoin="round" stroke-linecap="butt"/><path d="M48.9 283.4 L50.4 283.4 L51.9 283.4 L53.4 283.4 L54.9 283.4 L56.4 283.4 L58.0 283.4 L59.5 283.4 L61.0 283.4 L62.5 283.4 L64.0 283.5 L65.5 283.5 L67.0 283.5 L68.5 283.5 L70.0 283.5 L71.5 283.5 L73.1 283.5 L74.6 283.5 L76.1 283.5 L77.6 283.5 L79.1 283.5 L80.6 283.5 L82.1 283.5 L83.6 283.5 L85.1 283.5 L86.6 283.5 L88.1 283.5 L89.7 283.5 L91.2 283.6 L92.7 283.6 L94.2 283.6 L95.7 283.6 L97.2 283.6 L98.7 283.6 L100.2 283.6 L101.7 283.6 L103.2 283.6 L103.8 281.9 L104.3 280.2 L104.8 278.4 L105.4 276.7 L105.9 275.0 L106.2 273.5 L106.5 272.0 L106.7 270.5 L107.0 269.0 L107.3 267.5 L107.6 266.0 L107.9 264.5 L108.2 263.0 L108.4 261.5 L108.7 260.0 L108.9 258.5 L109.1 257.0 L109.2 255.5 L109.4 254.0 L109.6 252.5 L109.8 251.0 L109.9 249.5 L110.1 248.7 L110.3 246.6 L110.5 245.3 L110.6 244.0 L110.8 242.5 L111.0 240.6 L111.1 239.0 L111.3 236.9 L111.5 235.7 L111.7 234.1 L111.8 233.0 L112.0 231.1 L112.2 229.8 L112.4 227.9 L112.7 226.0 L113.0 225.2 L113.2 223.7 L113.5 221.8 L113.7 220.1 L114.0 219.1 L114.3 217.6 L114.5 216.5 L114.8 214.9 L115.0 213.3 L115.3 211.8 L115.6 210.1 L115.8 208.1 L116.1 206.5 L116.3 205.7 L116.7 203.9 L117.0 201.6 L117.4 200.4 L117.7 198.3 L118.1 196.3 L118.4 195.5 L118.8 193.7 L119.3 192.7 L119.8 191.3 L120.3 189.5 L120.8 188.7 L121.3 187.4 L122.2 186.0 L123.1 183.7 L123.9 182.4 L124.8 181.5 L126.0 180.3 L127.1 180.0 L128.3 178.2 L129.8 175.7 L131.2 175.7 L132.7 174.7 L134.0 173.1 L135.3 172.0 L136.5 171.7 L137.8 170.8 L139.1 169.3 L140.3 168.0 L141.5 167.2 L142.7 166.9 L143.8 166.1 L145.0 164.1 L146.8 163.1 L148.6 162.1 L150.1 160.7 L151.5 159.0 L153.0 157.6 L154.2 157.7 L155.3 156.6 L156.4 156.0 L157.6 153.7 L158.8 153.1 L159.8 152.1 L160.8 150.8 L161.9 149.2 L162.9 148.3 L164.0 146.7 L165.0 144.7 L166.2 144.9 L167.5 144.1 L168.8 142.3 L170.0 140.9 L171.2 139.9 L172.5 139.6 L173.8 138.2 L175.0 137.2 L176.2 136.2 L178.0 136.7 L179.0 137.9 L180.0 138.3 L181.0 139.6 L182.7 139.4 L184.3 139.7 L186.0 139.5 L186.8 140.2 L187.6 142.1 L188.4 143.9 L189.2 145.4 L190.0 147.2 L190.9 148.6 L191.9 149.1 L192.8 150.5 L193.8 152.2 L194.6 153.9 L195.4 156.0 L196.2 156.9 L197.1 158.0 L197.9 158.6 L198.8 160.2 L199.3 161.3 L199.8 163.1 L200.4 165.0 L200.9 166.9 L201.4 169.0 L202.0 169.6 L202.5 171.2 L203.4 171.8 L204.3 173.1 L205.2 175.5 L206.2 177.5 L207.1 178.9 L208.0 180.5 L208.6 181.7 L209.1 183.0 L209.7 184.1 L210.2 185.4 L210.8 187.1 L211.3 189.6 L211.9 190.8 L212.4 192.3 L213.0 194.5 L213.8 194.9 L214.6 196.3 L215.3 196.9 L216.1 198.6 L216.9 199.9 L217.7 201.9 L218.4 203.3 L219.2 204.2 L220.0 205.0 L220.7 206.6 L221.4 208.1 L222.1 209.2 L222.9 210.8 L223.6 212.8 L224.3 214.6 L225.0 215.3 L226.0 216.5 L227.0 217.0 L228.0 219.2 L229.0 220.5 L230.0 222.0 L230.8 223.5 L231.6 224.1 L232.3 225.4 L233.1 226.4 L233.9 228.5 L234.7 229.8 L235.4 231.5 L236.2 232.5 L237.0 233.9 L237.7 235.0 L238.3 236.2 L239.0 238.2 L239.7 239.8 L240.3 241.8 L241.0 243.3 L241.7 244.8 L242.3 245.6 L243.0 247.5 L243.8 248.5 L244.5 250.3 L245.2 252.0 L246.0 253.3" fill="none" stroke="#fff" stroke-width="2.40" stroke-linejoin="round" stroke-linecap="butt"/><path d="M48.9 283.4 L50.4 283.4 L51.9 283.4 L53.4 283.4 L54.9 283.4 L56.4 283.4 L58.0 283.4 L59.5 283.4 L61.0 283.4 L62.5 283.5 L64.0 283.5 L65.5 283.5 L67.0 283.5 L68.5 283.5 L70.0 283.5 L71.5 283.5 L73.1 283.5 L74.6 283.5 L76.1 283.5 L77.6 283.5 L79.1 283.5 L80.6 283.5 L82.1 283.5 L83.6 283.5 L85.1 283.5 L86.6 283.5 L88.2 283.5 L89.7 283.6 L91.2 283.6 L92.7 283.6 L94.2 283.6 L95.7 283.6 L97.2 283.6 L98.7 283.6 L100.2 283.6 L101.7 283.6 L103.3 283.6 L103.7 282.2 L104.2 280.7 L104.6 279.3 L105.1 277.9 L105.5 276.4 L106.0 275.0 L106.3 273.5 L106.6 272.0 L106.9 270.5 L107.2 269.0 L107.4 267.5 L107.7 266.0 L108.0 264.5 L108.3 263.0 L108.6 261.5 L108.9 260.0 L109.1 258.5 L109.2 257.0 L109.4 255.5 L109.6 254.0 L109.8 252.5 L110.0 251.0 L110.2 249.1 L110.3 247.9 L110.5 245.7 L110.7 244.2 L110.9 242.6 L111.1 241.2 L111.2 239.7 L111.4 238.4 L111.6 237.3 L111.8 236.4 L112.0 234.7 L112.1 233.0 L112.3 231.6 L112.5 230.5 L112.8 228.7 L113.0 226.9 L113.3 226.2 L113.6 224.4 L113.9 222.2 L114.1 220.5 L114.4 218.9 L114.7 218.0 L114.9 215.4 L115.2 214.3 L115.5 212.9 L115.7 210.3 L116.0 209.1 L116.3 207.6 L116.5 206.5 L116.8 204.3 L117.2 202.9 L117.6 201.4 L118.0 199.7 L118.4 198.9 L118.8 197.5 L119.2 195.4 L119.8 193.2 L120.4 191.9 L121.1 190.0 L121.7 188.0 L122.6 186.4 L123.4 186.0 L124.3 184.8 L125.2 183.4 L126.4 181.5 L127.5 179.6 L128.7 178.9 L129.8 178.8 L131.0 177.7 L132.2 175.8 L133.3 175.0 L134.6 174.4 L135.9 173.2 L137.3 172.0 L138.6 170.4 L139.9 169.3 L141.0 169.7 L142.1 168.8 L143.2 167.2 L144.4 166.2 L145.5 164.6 L147.2 164.1 L148.9 162.4 L150.3 161.0 L151.6 160.8 L153.0 160.1 L154.2 158.4 L155.3 157.2 L156.4 155.6 L157.6 155.7 L158.8 154.6 L159.8 153.2 L160.8 151.9 L161.9 150.4 L162.9 149.2 L164.0 148.1 L165.0 147.3 L166.2 145.3 L167.5 143.5 L168.8 143.0 L170.0 142.9 L171.2 141.7 L172.5 139.5 L174.4 139.0 L176.2 138.5 L178.0 136.7 L179.0 138.4 L180.0 139.3 L181.0 140.9 L182.7 141.4 L184.3 141.0 L186.0 141.1 L186.8 142.9 L187.6 144.5 L188.4 145.6 L189.2 146.6 L190.0 147.8 L190.9 149.4 L191.9 151.6 L192.8 152.5 L193.8 154.1 L194.6 155.8 L195.4 156.5 L196.2 157.2 L197.1 159.2 L197.9 161.2 L198.8 163.2 L199.3 163.9 L199.8 166.0 L200.4 167.1 L200.9 167.8 L201.4 169.4 L202.0 171.1 L202.5 172.2 L203.4 174.5 L204.3 176.1 L205.2 176.9 L206.2 178.1 L207.1 179.2 L208.0 180.3 L208.6 182.8 L209.1 183.9 L209.7 185.7 L210.2 187.7 L210.8 189.1 L211.3 190.3 L211.9 191.5 L212.4 192.9 L213.0 194.6 L213.8 195.2 L214.6 197.7 L215.3 199.5 L216.1 200.8 L216.9 202.2 L217.7 202.7 L218.4 204.3 L219.2 205.3 L220.0 206.9 L220.7 208.4 L221.4 209.9 L222.1 211.8 L222.9 213.0 L223.6 213.2 L224.3 214.6 L225.0 216.2 L226.0 217.6 L227.0 219.3 L228.0 220.8 L229.0 221.4 L230.0 222.4 L230.9 224.1 L231.8 226.0 L232.6 227.9 L233.5 229.1 L234.4 230.0 L235.2 231.8 L236.1 232.6 L237.0 234.3 L237.7 236.1 L238.3 237.5 L239.0 239.4 L239.7 240.5 L240.3 242.0 L241.0 243.3 L241.7 243.7 L242.3 246.1 L243.0 247.1 L243.8 248.9 L244.5 250.7 L245.2 252.6 L246.0 254.0" fill="none" stroke="#fff" stroke-width="2.40" stroke-linejoin="round" stroke-linecap="butt"/><path d="M48.9 283.4 L50.4 283.4 L51.9 283.4 L53.4 283.4 L54.9 283.4 L56.5 283.4 L58.0 283.4 L59.5 283.4 L61.0 283.5 L62.5 283.5 L64.0 283.5 L65.5 283.5 L67.0 283.5 L68.5 283.5 L70.0 283.5 L71.6 283.5 L73.1 283.5 L74.6 283.5 L76.1 283.5 L77.6 283.5 L79.1 283.5 L80.6 283.5 L82.1 283.5 L83.6 283.5 L85.1 283.5 L86.7 283.6 L88.2 283.6 L89.7 283.6 L91.2 283.6 L92.7 283.6 L94.2 283.6 L95.7 283.6 L97.2 283.6 L98.7 283.6 L100.2 283.6 L101.8 283.6 L103.3 283.6 L103.7 282.2 L104.2 280.7 L104.7 279.3 L105.2 277.9 L105.6 276.4 L106.1 275.0 L106.4 273.5 L106.7 272.0 L107.0 270.5 L107.3 269.0 L107.6 267.5 L107.9 266.0 L108.2 264.5 L108.5 263.0 L108.8 261.5 L109.1 260.0 L109.2 258.5 L109.4 257.0 L109.6 255.5 L109.8 254.0 L110.0 252.5 L110.2 250.8 L110.4 248.8 L110.6 247.5 L110.8 245.6 L110.9 244.0 L111.1 242.8 L111.3 241.1 L111.5 239.8 L111.7 238.8 L111.9 236.6 L112.1 235.8 L112.3 233.9 L112.5 233.2 L112.6 231.7 L112.8 229.8 L113.1 229.0 L113.4 227.5 L113.7 225.3 L113.9 224.2 L114.2 222.9 L114.5 221.5 L114.8 219.1 L115.0 217.5 L115.3 216.3 L115.6 214.8 L115.9 212.2 L116.2 210.5 L116.4 209.5 L116.7 207.5 L117.0 205.9 L117.3 204.9 L117.7 203.4 L118.1 201.9 L118.4 200.9 L118.8 199.4 L119.2 198.2 L119.6 196.6 L120.2 195.0 L120.8 192.8 L121.4 191.9 L122.0 190.2 L122.9 188.0 L123.8 187.1 L124.8 185.4 L125.7 184.5 L126.8 183.0 L127.9 180.9 L129.0 179.8 L130.2 179.8 L131.5 178.3 L132.7 177.0 L133.9 175.0 L135.3 174.7 L136.6 174.8 L138.0 173.3 L139.3 171.0 L140.6 171.0 L142.0 170.2 L143.3 168.8 L144.6 166.7 L145.9 165.2 L147.5 164.7 L149.1 164.0 L150.4 161.8 L151.7 161.6 L153.0 160.4 L154.2 160.2 L155.3 158.8 L156.4 157.0 L157.6 156.0 L158.8 155.7 L159.8 154.7 L160.8 153.8 L161.9 151.6 L162.9 150.1 L164.0 149.4 L165.0 148.4 L166.2 146.9 L167.5 145.0 L168.8 144.7 L170.0 144.0 L171.2 142.5 L172.5 141.5 L174.4 140.0 L176.2 139.8 L178.0 138.3 L179.0 139.1 L180.0 140.4 L181.0 142.3 L182.7 142.6 L184.3 142.7 L186.0 142.6 L186.8 144.1 L187.6 146.4 L188.4 147.6 L189.2 149.3 L190.0 149.9 L190.9 150.8 L191.9 152.1 L192.8 154.2 L193.8 156.0 L194.5 156.5 L195.2 158.1 L195.9 159.3 L196.6 160.2 L197.3 161.0 L198.0 162.8 L198.8 165.0 L199.3 166.0 L199.8 168.3 L200.4 169.0 L200.9 170.3 L201.4 171.7 L202.0 172.8 L202.5 174.0 L203.4 175.8 L204.3 177.3 L205.2 179.3 L206.2 180.2 L207.1 181.0 L208.0 181.4 L208.6 183.7 L209.1 184.6 L209.7 186.4 L210.2 188.0 L210.8 190.2 L211.3 191.5 L211.9 193.1 L212.4 194.5 L213.0 195.8 L213.8 196.8 L214.6 198.3 L215.3 199.6 L216.1 201.1 L216.9 203.4 L217.7 204.9 L218.4 205.4 L219.2 206.9 L220.0 207.9 L220.7 209.4 L221.4 211.6 L222.1 212.5 L222.9 214.2 L223.6 215.7 L224.3 216.1 L225.0 217.6 L226.0 218.8 L227.0 220.5 L228.0 222.4 L229.0 224.0 L230.0 224.8 L230.9 225.7 L231.8 227.2 L232.6 228.5 L233.5 230.4 L234.4 231.3 L235.2 232.9 L236.1 233.7 L237.0 234.8 L237.7 236.6 L238.3 238.5 L239.0 240.0 L239.7 241.9 L240.3 242.9 L241.0 243.6 L241.7 245.3 L242.3 246.3 L243.0 247.7 L243.8 248.9 L244.5 251.1 L245.2 252.6 L246.0 254.1" fill="none" stroke="#fff" stroke-width="2.40" stroke-linejoin="round" stroke-linecap="butt"/><path d="M48.9 283.4 L50.4 283.4 L51.9 283.4 L53.4 283.4 L54.9 283.4 L56.5 283.4 L58.0 283.4 L59.5 283.5 L61.0 283.5 L62.5 283.5 L64.0 283.5 L65.5 283.5 L67.0 283.5 L68.5 283.5 L70.0 283.5 L71.6 283.5 L73.1 283.5 L74.6 283.5 L76.1 283.5 L77.6 283.5 L79.1 283.5 L80.6 283.5 L82.1 283.5 L83.6 283.5 L85.2 283.6 L86.7 283.6 L88.2 283.6 L89.7 283.6 L91.2 283.6 L92.7 283.6 L94.2 283.6 L95.7 283.6 L97.2 283.6 L98.8 283.6 L100.3 283.6 L101.8 283.6 L103.3 283.6 L103.8 282.2 L104.3 280.8 L104.7 279.3 L105.2 277.9 L105.7 276.4 L106.2 275.0 L106.5 273.5 L106.8 272.0 L107.1 270.5 L107.4 269.0 L107.7 267.5 L108.0 266.0 L108.3 264.5 L108.6 263.0 L108.9 261.5 L109.2 260.0 L109.4 258.5 L109.6 257.0 L109.8 255.5 L110.0 254.3 L110.2 253.1 L110.4 251.9 L110.6 249.7 L110.8 248.5 L111.0 247.0 L111.2 245.9 L111.4 243.3 L111.6 241.8 L111.8 240.4 L112.0 239.3 L112.2 237.8 L112.4 235.4 L112.6 234.6 L112.8 232.7 L113.0 231.5 L113.2 230.0 L113.5 227.5 L113.7 226.9 L114.0 224.9 L114.3 223.1 L114.6 222.0 L114.9 220.2 L115.2 219.5 L115.5 217.8 L115.7 216.0 L116.0 214.6 L116.3 213.3 L116.6 212.0 L116.9 209.9 L117.2 208.0 L117.5 206.6 L117.7 204.6 L118.2 203.0 L118.7 201.7 L119.2 199.3 L119.6 197.9 L120.1 197.0 L120.9 195.2 L121.6 193.8 L122.4 192.3 L123.2 191.0 L123.9 189.3 L124.6 187.6 L125.4 185.7 L126.1 184.9 L127.2 184.1 L128.3 183.3 L129.4 181.4 L130.7 180.2 L132.0 179.3 L133.3 178.6 L134.6 176.6 L136.0 175.3 L137.3 174.1 L138.7 173.8 L140.1 173.4 L141.4 171.1 L142.7 169.7 L143.9 169.7 L145.2 168.1 L146.4 166.4 L147.9 165.2 L149.4 165.1 L150.6 163.6 L151.8 162.9 L153.0 160.8 L154.2 160.7 L155.3 159.8 L156.4 158.8 L157.6 157.7 L158.8 156.4 L159.8 154.8 L160.8 154.3 L161.9 153.9 L162.9 152.5 L164.0 150.6 L165.0 148.9 L166.2 148.5 L167.5 147.3 L168.8 146.1 L170.0 144.3 L171.2 143.0 L172.5 142.4 L174.4 141.3 L176.2 140.4 L178.0 140.0 L179.0 141.5 L180.0 142.8 L181.0 143.6 L182.7 144.0 L184.3 145.1 L186.0 144.3 L186.8 145.6 L187.6 147.0 L188.4 148.5 L189.2 150.6 L190.0 152.2 L191.2 154.3 L192.5 154.6 L193.8 156.5 L194.5 158.2 L195.2 159.8 L195.9 161.1 L196.6 162.4 L197.3 164.5 L198.0 165.5 L198.8 166.2 L199.4 167.3 L200.0 169.8 L200.6 171.3 L201.2 173.3 L201.9 175.6 L202.5 177.0 L203.4 177.8 L204.3 177.8 L205.2 179.6 L206.2 181.2 L207.1 183.0 L208.0 183.6 L208.6 185.7 L209.1 186.1 L209.7 187.1 L210.2 189.0 L210.8 190.5 L211.3 192.0 L211.9 193.1 L212.4 195.0 L213.0 197.0 L213.7 198.4 L214.4 199.6 L215.1 199.8 L215.8 201.5 L216.5 202.4 L217.2 204.1 L217.9 205.6 L218.6 207.6 L219.3 208.8 L220.0 210.3 L220.7 210.9 L221.4 211.8 L222.1 213.3 L222.9 214.9 L223.6 216.6 L224.3 219.0 L225.0 220.1 L226.0 221.3 L227.0 222.0 L228.0 223.6 L229.0 224.9 L230.0 226.7 L231.0 227.9 L232.0 228.8 L233.0 230.4 L234.0 231.4 L235.0 233.5 L236.0 235.6 L237.0 236.4 L237.7 237.1 L238.3 238.7 L239.0 240.0 L239.7 241.6 L240.3 242.7 L241.0 244.2 L241.7 246.3 L242.3 247.8 L243.0 248.2 L243.8 249.9 L244.5 250.9 L245.2 251.5 L246.0 253.7" fill="none" stroke="#fff" stroke-width="2.40" stroke-linejoin="round" stroke-linecap="butt"/><path d="M48.9 283.4 L50.4 283.4 L51.9 283.4 L53.4 283.4 L54.9 283.4 L56.5 283.4 L58.0 283.4 L59.5 283.5 L61.0 283.5 L62.5 283.5 L64.0 283.5 L65.5 283.5 L67.0 283.5 L68.5 283.5 L70.1 283.5 L71.6 283.5 L73.1 283.5 L74.6 283.5 L76.1 283.5 L77.6 283.5 L79.1 283.5 L80.6 283.5 L82.1 283.5 L83.7 283.6 L85.2 283.6 L86.7 283.6 L88.2 283.6 L89.7 283.6 L91.2 283.6 L92.7 283.6 L94.2 283.6 L95.7 283.6 L97.3 283.6 L98.8 283.6 L100.3 283.6 L101.8 283.6 L103.3 283.6 L103.8 282.2 L104.3 280.8 L104.8 279.3 L105.3 277.9 L105.8 276.4 L106.3 275.0 L106.6 273.5 L106.9 272.0 L107.2 270.5 L107.5 269.0 L107.8 267.5 L108.2 266.0 L108.5 264.5 L108.8 263.0 L109.1 261.5 L109.4 260.0 L109.6 258.5 L109.8 257.0 L110.0 255.1 L110.2 253.5 L110.4 251.9 L110.6 250.5 L110.8 248.9 L111.0 247.0 L111.2 246.0 L111.4 244.1 L111.7 242.8 L111.9 241.6 L112.1 240.9 L112.3 239.0 L112.5 237.7 L112.7 236.7 L112.9 235.2 L113.1 233.5 L113.3 231.7 L113.5 230.5 L113.8 228.8 L114.1 227.8 L114.4 225.2 L114.7 223.8 L115.0 222.4 L115.3 220.6 L115.6 218.9 L115.8 217.4 L116.1 215.2 L116.4 214.2 L116.7 212.7 L117.0 210.3 L117.3 209.2 L117.6 207.8 L117.9 206.4 L118.2 205.2 L118.8 203.4 L119.4 202.1 L119.9 200.5 L120.5 198.5 L121.3 196.6 L122.0 194.4 L122.8 193.6 L123.5 192.5 L124.3 191.3 L125.0 190.0 L125.8 188.0 L126.6 186.6 L127.6 184.5 L128.6 183.7 L129.7 182.8 L130.8 182.3 L131.9 180.4 L133.0 179.1 L134.1 178.5 L135.3 177.4 L136.6 177.3 L138.0 175.8 L139.4 174.2 L140.8 173.7 L142.2 172.8 L143.4 171.5 L144.5 170.1 L145.7 168.9 L146.9 167.7 L148.3 166.8 L149.7 165.7 L151.3 163.7 L153.0 163.5 L154.2 161.8 L155.3 160.4 L156.4 159.6 L157.6 158.7 L158.8 158.5 L159.8 157.0 L160.8 155.9 L161.9 153.3 L162.9 152.5 L164.0 152.3 L165.0 151.3 L166.2 149.9 L167.5 148.0 L168.8 147.2 L170.0 146.8 L171.2 145.2 L172.5 143.2 L174.4 142.2 L176.2 142.1 L178.0 141.8 L179.0 142.5 L180.0 143.4 L181.0 144.6 L182.7 146.2 L184.3 145.1 L186.0 145.7 L186.8 148.3 L187.6 149.6 L188.4 151.1 L189.2 152.1 L190.0 153.0 L191.2 154.3 L192.5 156.2 L193.8 157.8 L194.4 159.1 L195.0 160.3 L195.6 161.6 L196.2 162.8 L196.9 164.5 L197.5 166.1 L198.1 167.6 L198.8 169.3 L199.4 170.3 L200.0 171.7 L200.6 173.7 L201.2 175.0 L201.9 175.7 L202.5 177.7 L203.6 179.6 L204.7 180.8 L205.8 181.9 L206.9 182.8 L208.0 183.9 L208.6 185.5 L209.2 187.9 L209.9 189.5 L210.5 191.9 L211.1 193.1 L211.8 194.5 L212.4 195.9 L213.0 197.0 L213.7 198.7 L214.4 199.3 L215.1 201.5 L215.8 203.3 L216.5 205.3 L217.2 206.0 L217.9 207.0 L218.6 207.9 L219.3 209.7 L220.0 210.9 L220.7 212.3 L221.4 214.8 L222.1 215.5 L222.9 217.1 L223.6 218.4 L224.3 219.4 L225.0 220.2 L226.0 222.0 L227.0 224.1 L228.0 225.1 L229.0 226.9 L230.0 227.7 L231.0 228.6 L232.0 229.9 L233.0 231.8 L234.0 233.7 L235.0 233.9 L236.0 234.6 L237.0 236.0 L237.8 238.2 L238.5 240.1 L239.2 241.6 L240.0 243.2 L240.8 244.5 L241.5 245.9 L242.2 247.3 L243.0 248.2 L244.0 250.9 L245.0 252.2 L246.0 253.8" fill="none" stroke="#fff" stroke-width="2.40" stroke-linejoin="round" stroke-linecap="butt"/><path d="M119.4 182.3 L121.0 180.6 L122.5 179.4 L123.7 177.9 L124.8 176.7 L126.0 175.5 L127.0 173.7 L128.0 172.1 L129.0 170.6 L130.0 169.2 L131.5 168.1 L133.0 166.2 L134.0 165.1 L135.0 163.6 L136.5 163.0 L138.0 160.9 L139.5 159.8 L141.0 159.5 L142.5 159.0 L145.0 157.1 L147.5 156.3 L149.0 155.0 L150.5 153.4 L152.1 152.5 L153.8 152.2 L155.4 150.2 L157.0 148.8 L158.5 147.5 L160.0 146.1" fill="none" stroke="#fff" stroke-width="1.90" stroke-linejoin="round" stroke-linecap="butt"/><path d="M48.9 283.4 L50.4 283.4 L52.0 283.4 L53.5 283.4 L55.0 283.4 L56.6 283.4 L58.1 283.4 L59.6 283.4 L61.1 283.4 L62.7 283.4 L64.2 283.5 L65.7 283.5 L67.3 283.5 L68.8 283.5 L70.3 283.5 L71.9 283.5 L73.4 283.5 L74.9 283.5 L76.5 283.5 L78.0 283.5 L79.5 283.5 L81.0 283.5 L82.6 283.5 L84.1 283.5 L85.6 283.5 L87.2 283.5 L88.7 283.5 L90.2 283.6 L91.8 283.6 L93.3 283.6 L94.8 283.6 L96.3 283.6 L97.9 283.6 L99.4 283.6 L100.9 283.6 L102.5 283.6 L104.0 283.6 L104.5 282.2 L105.0 280.7 L105.5 279.3 L106.0 277.9 L106.5 276.4 L107.0 275.0 L107.3 273.5 L107.6 272.0 L108.0 270.5 L108.3 269.0 L108.6 267.5 L108.9 266.0 L109.2 264.5 L109.6 263.0 L109.9 261.5 L110.2 260.0 L110.4 258.5 L110.6 257.0 L110.8 255.5 L111.0 254.0 L111.2 252.5 L111.4 251.0 L111.6 249.5 L111.8 248.0 L112.0 246.5 L112.2 245.0 L112.4 243.5 L112.6 242.0 L112.8 240.5 L113.0 239.0 L113.2 237.5 L113.4 236.0 L113.6 234.5 L113.8 233.0 L114.0 231.5 L114.2 230.0 L114.5 228.4 L114.8 226.9 L115.1 225.3 L115.3 223.8 L115.6 222.2 L115.9 220.6 L116.2 219.1 L116.5 217.5 L116.8 215.9 L117.1 214.4 L117.4 212.8 L117.7 211.2 L117.9 209.7 L118.2 208.1 L118.5 206.6 L118.8 205.0 L119.3 203.5 L119.9 202.0 L120.4 200.5 L120.9 199.0 L121.5 197.5 L122.0 196.0 L122.8 194.7 L123.7 193.3 L124.5 192.0 L125.3 190.7 L126.2 189.3 L127.0 188.0 L128.1 186.9 L129.2 185.8 L130.4 184.6 L131.5 183.5 L132.6 182.4 L133.8 181.2 L134.9 180.1 L136.0 179.0 L137.4 177.9 L138.8 176.8 L140.2 175.7 L141.6 174.6 L143.0 173.5 L144.1 172.1 L145.2 170.8 L146.4 169.4 L147.5 168.0 L148.9 166.8 L150.2 165.5 L151.6 164.2 L153.0 163.0 L154.2 162.0 L155.3 161.0 L156.4 160.0 L157.6 159.0 L158.8 158.0 L160.2 156.7 L161.6 155.3 L163.0 154.0 L165.0 153.8 L166.2 155.1 L167.5 156.5 L168.8 158.0 L170.6 157.6 L172.5 156.9 L173.8 157.9 L175.0 159.1 L176.2 160.1 L177.5 160.8 L178.8 162.2 L180.0 164.1 L181.2 165.4 L182.5 166.2 L185.0 167.4 L186.2 168.6 L187.5 169.7 L188.3 171.1 L189.2 172.8 L190.0 174.2 L190.6 175.6 L191.2 177.4 L191.9 178.7 L192.5 180.4 L193.4 181.5 L194.4 182.6 L195.3 183.6 L196.2 184.7 L196.9 186.4 L197.6 187.8 L198.3 189.3 L199.0 190.6 L199.7 191.8 L200.4 193.2 L201.1 194.3 L201.8 195.9 L202.5 197.6 L203.4 199.1 L204.4 200.2 L205.3 201.2 L206.2 202.3 L207.2 203.4 L208.1 204.8 L209.1 206.4 L210.0 207.8 L210.9 208.8 L211.7 210.3 L212.6 211.6 L213.4 213.0 L214.3 214.5 L215.1 216.2 L216.0 217.5 L216.6 219.2 L217.2 220.7 L217.9 222.1 L218.5 223.5 L219.1 225.3 L219.8 226.8 L220.4 228.4 L221.0 230.1 L222.2 231.5 L223.5 232.2 L224.8 233.7 L226.0 235.3 L226.7 236.8 L227.4 238.0 L228.1 239.3 L228.9 240.8 L229.6 242.0 L230.3 243.5 L231.0 244.8 L232.1 246.5 L233.2 248.0 L234.2 248.9 L235.3 250.0 L236.4 251.7 L237.5 253.1 L238.6 254.3 L239.8 255.3 L240.9 256.1 L242.0 257.2 L243.3 258.5 L244.7 259.6 L246.0 260.3" fill="none" stroke="#fff" stroke-width="2.00" stroke-linejoin="round" stroke-linecap="butt"/><path d="M154.9 152 L154.9 77.2 Q156 75.4 157.1 77.2 L157.1 150 Z" fill="#fff"/><path d="M158.9 150 L158.9 60 L159.3 27 L162.6 27 L163.0 60 L163.0 146 Z" fill="#fff"/><path d="M245.6 256.0 L246.2 200.0 L246.4 158.0 L247.5 156.6 L248.7 158.0 L249.1 200.0 L249.8 203.0 L250.6 198.0 L251.8 196.2 L253.2 198.0 L253.6 184.0 L254.6 180.5 L255.6 181.0 L256.4 177.0 L257.2 174.6 L258.2 177.0 L259.2 188.0 L260.2 196.0 L260.9 190.0 L261.6 186.0 L262.5 185.0 L263.5 187.0 L264.3 200.0 L264.5 254.0 L264.5 254.0 L263.9 268.0 L262.2 268.0 L261.6 258.0 L260.5 265.0 L258.0 265.5 L257.5 256.0 L256.7 264.0 L253.2 264.0 L252.4 256.0 L251.0 263.5 L248.2 263.5 L247.6 257.0 L247.2 260.0 L245.5 259.5Z" fill="#fff" stroke="#fff" stroke-width="0.6" stroke-linejoin="round"/><path d="M264.6 262.0 L265.6 271.0 L266.6 262.0 L267.6 238.6 L268.6 258.0 L269.3 262.0 L269.6 276.0" fill="none" stroke="#fff" stroke-width="2.00" stroke-linejoin="round" stroke-linecap="butt"/><path d="M48.5 27 L49.85 27 L49.85 283 L48.5 283 Z" fill="#fff"/><path d="M269.4 274.3 L272.0 274.9 L274.5 275.3 L277.0 276.3 L279.7 276.7 L282.3 278.2 L285.0 278.8 L287.5 279.7 L290.0 279.9 L292.5 280.7 L295.0 281.1 L297.5 281.5 L300.0 282.1 L302.5 282.3 L305.0 283.2 L307.6 282.9 L310.1 283.3 L312.6 283.2 L315.2 283.7" fill="none" stroke="#fff" stroke-width="1.90" stroke-linejoin="round" stroke-linecap="butt"/><path d="M269.4 275.4 L272.0 275.7 L274.5 276.7 L277.0 276.9 L279.7 278.2 L282.3 278.4 L285.0 279.7 L287.5 279.8 L290.0 280.6 L292.5 280.9 L295.0 281.7 L297.5 282.1 L300.0 282.4 L302.5 283.1 L305.0 283.0 L307.6 283.4 L310.1 283.3 L312.6 283.5 L315.2 283.8" fill="none" stroke="#fff" stroke-width="1.90" stroke-linejoin="round" stroke-linecap="butt"/><path d="M269.4 276.6 L272.0 277.0 L274.5 277.5 L277.0 277.9 L279.7 278.7 L282.3 279.6 L285.0 280.4 L287.5 280.9 L290.0 281.3 L292.5 282.0 L295.0 281.9 L297.5 282.6 L300.0 282.8 L302.5 283.3 L305.0 283.4 L307.6 283.6 L310.1 283.8 L312.6 283.7 L315.2 283.9" fill="none" stroke="#fff" stroke-width="1.90" stroke-linejoin="round" stroke-linecap="butt"/><path d="M269.4 277.2 L272.0 277.6 L274.5 278.3 L277.0 278.4 L279.7 279.5 L282.3 279.9 L285.0 280.9 L287.5 281.0 L290.0 281.6 L292.5 282.2 L295.0 282.2 L297.5 282.9 L300.0 282.9 L302.5 283.6 L305.0 283.5 L307.6 284.0 L310.1 283.9 L312.6 283.9 L315.2 283.9" fill="none" stroke="#fff" stroke-width="1.90" stroke-linejoin="round" stroke-linecap="butt"/></g><g clip-path="url(#cr)"><path d="M327.9 283.4 L329.4 283.4 L330.9 283.4 L332.4 283.4 L334.0 283.4 L335.5 283.4 L337.0 283.4 L338.5 283.4 L340.0 283.4 L341.5 283.4 L343.0 283.4 L344.6 283.5 L346.1 283.5 L347.6 283.5 L349.1 283.5 L350.6 283.5 L352.1 283.5 L353.7 283.5 L355.2 283.5 L356.7 283.5 L358.2 283.5 L359.7 283.5 L361.2 283.5 L362.7 283.5 L364.3 283.5 L365.8 283.5 L367.3 283.5 L368.8 283.6 L370.3 283.6 L371.8 283.6 L373.4 283.6 L374.9 283.6 L376.4 283.6 L377.9 283.6 L379.4 283.6 L380.9 283.6 L382.4 283.6 L383.0 282.2 L383.5 280.7 L384.0 279.3 L384.5 277.9 L385.1 276.4 L385.6 275.0 L385.8 273.5 L386.1 272.0 L386.3 270.5 L386.6 269.0 L386.8 267.5 L387.1 266.0 L387.3 264.5 L387.6 263.0 L387.8 261.5 L388.1 260.0 L388.2 258.5 L388.3 257.0 L388.5 255.5 L388.6 254.0 L388.7 252.5 L388.8 251.0 L389.0 249.5 L389.1 248.0 L389.2 246.5 L389.3 245.0 L389.5 243.5 L389.6 242.0 L389.7 240.5 L389.8 239.0 L390.0 237.5 L390.1 236.0 L390.2 234.5 L390.3 233.0 L390.5 231.5 L390.6 230.0 L390.9 228.4 L391.1 226.9 L391.4 225.3 L391.7 223.8 L392.0 222.2 L392.2 220.6 L392.5 219.1 L392.8 217.5 L393.0 215.9 L393.3 214.4 L393.6 212.8 L393.9 211.2 L394.1 209.7 L394.4 208.1 L394.7 206.6 L394.9 205.0 L395.3 203.5 L395.7 201.8 L396.1 200.3 L396.5 198.2 L396.9 196.7 L397.3 195.0 L397.7 193.7 L398.1 192.4 L398.5 191.1 L398.9 189.5 L399.4 187.9 L399.8 185.7 L400.2 184.1 L400.6 182.8 L401.0 180.7 L401.9 178.5 L402.7 177.0 L403.5 175.7 L404.4 174.1 L405.2 172.9 L406.0 171.2 L406.8 170.1 L407.6 167.7 L408.4 166.2 L409.6 165.4 L410.8 164.8 L412.0 163.7 L413.2 162.3 L414.4 161.6 L415.6 160.8 L416.8 160.2 L418.2 159.3 L419.6 158.0 L421.0 157.8 L422.4 157.2 L423.8 156.3 L425.2 155.1 L426.6 154.9 L428.1 154.4 L429.2 152.9 L430.3 151.8 L431.4 150.4 L432.5 149.3 L433.6 148.7 L434.7 147.4 L435.7 145.5 L437.0 144.3 L438.3 143.9 L439.5 142.8 L440.8 141.5 L442.0 140.2 L443.3 139.4 L444.5 138.6 L445.8 138.5 L447.0 137.1 L448.3 135.7 L449.8 135.2 L451.3 134.6 L452.8 133.2 L454.3 131.7 L455.9 130.9 L457.4 130.1 L458.9 128.6 L460.0 129.8 L461.1 131.2 L462.2 132.2 L463.9 131.3 L465.6 130.4 L467.3 130.2 L468.2 131.8 L469.0 133.5 L469.8 134.4 L470.6 135.6 L471.5 137.3 L472.3 138.6 L473.7 140.0 L475.0 140.9 L476.4 141.0 L477.8 142.2 L478.3 144.0 L478.9 145.5 L479.5 147.1 L480.1 148.8 L480.6 150.1 L481.2 151.5 L481.8 152.6 L482.5 154.6 L483.3 156.2 L484.0 157.3 L484.8 159.2 L485.5 160.8 L486.2 162.2 L487.0 163.4 L487.6 164.6 L488.3 166.2 L488.9 167.4 L489.6 169.0 L490.3 171.1 L490.9 172.3 L491.6 174.1 L492.1 175.0 L492.7 176.9 L493.3 177.5 L493.8 179.2 L494.4 181.0 L495.3 182.6 L496.1 184.2 L497.0 185.6 L497.9 186.9 L498.8 187.4 L499.7 189.0 L500.4 190.6 L501.1 191.7 L501.8 193.8 L502.5 195.5 L503.2 196.8 L503.9 198.1 L504.6 198.7 L505.5 200.2 L506.3 201.4 L507.2 203.0 L508.0 204.9 L508.9 205.6 L509.7 206.6 L510.4 208.2 L511.1 209.5 L511.8 211.0 L512.5 212.9 L513.2 214.8 L513.9 216.0 L514.6 217.5 L515.4 218.3 L516.3 219.9 L517.1 220.9 L517.9 222.8 L518.7 224.7 L519.5 226.2 L520.3 227.9 L521.1 229.2 L521.8 230.1 L522.6 231.1 L523.4 233.1 L524.2 235.1 L525.0 236.6 L525.9 238.5" fill="none" stroke="#fff" stroke-width="2.40" stroke-linejoin="round" stroke-linecap="butt"/><path d="M327.9 283.4 L329.4 283.4 L330.9 283.4 L332.4 283.4 L334.0 283.4 L335.5 283.4 L337.0 283.4 L338.5 283.4 L340.0 283.4 L341.5 283.5 L343.1 283.5 L344.6 283.5 L346.1 283.5 L347.6 283.5 L349.1 283.5 L350.6 283.5 L352.1 283.5 L353.7 283.5 L355.2 283.5 L356.7 283.5 L358.2 283.5 L359.7 283.5 L361.2 283.5 L362.8 283.5 L364.3 283.5 L365.8 283.6 L367.3 283.6 L368.8 283.6 L370.3 283.6 L371.9 283.6 L373.4 283.6 L374.9 283.6 L376.4 283.6 L377.9 283.6 L379.4 283.6 L380.9 283.6 L382.5 283.6 L383.0 282.2 L383.6 280.7 L384.1 279.3 L384.7 277.9 L385.2 276.4 L385.8 275.0 L386.1 273.5 L386.3 272.0 L386.6 270.5 L386.8 269.0 L387.1 267.5 L387.3 266.0 L387.6 264.5 L387.8 263.0 L388.1 261.5 L388.3 260.0 L388.5 258.5 L388.6 257.0 L388.7 255.5 L388.8 254.0 L389.0 252.5 L389.1 251.0 L389.2 249.5 L389.4 248.0 L389.5 246.5 L389.6 245.0 L389.8 243.5 L389.9 242.0 L390.0 240.5 L390.2 239.0 L390.3 237.5 L390.4 236.0 L390.5 234.5 L390.7 233.0 L390.8 231.5 L390.9 230.0 L391.2 228.4 L391.5 226.9 L391.8 225.3 L392.1 223.8 L392.4 222.2 L392.7 220.6 L393.0 219.1 L393.3 217.5 L393.6 215.9 L393.9 214.4 L394.1 212.8 L394.4 211.2 L394.7 209.7 L395.0 207.8 L395.3 206.3 L395.6 204.6 L396.0 203.4 L396.4 201.5 L396.8 200.3 L397.2 199.1 L397.6 197.6 L398.1 196.4 L398.5 194.4 L398.9 192.8 L399.3 191.2 L399.7 189.2 L400.2 187.4 L400.7 185.9 L401.1 184.0 L401.6 182.6 L402.0 181.4 L402.9 180.0 L403.8 178.5 L404.6 176.4 L405.5 174.8 L406.4 173.4 L407.2 171.5 L408.1 170.7 L409.0 169.2 L409.8 168.1 L411.2 166.8 L412.6 165.7 L413.9 164.7 L415.3 164.2 L416.7 162.5 L418.0 161.0 L419.4 160.8 L420.7 160.3 L422.0 159.6 L423.4 157.9 L424.7 157.0 L426.0 157.0 L427.4 156.3 L428.7 155.0 L429.8 154.0 L430.9 153.1 L432.1 151.8 L433.2 150.5 L434.3 149.0 L435.4 147.5 L436.5 146.9 L437.8 145.9 L439.0 145.2 L440.3 142.9 L441.5 141.9 L442.8 140.9 L444.0 140.8 L445.2 139.3 L446.4 137.8 L447.6 137.2 L448.8 136.9 L450.3 135.5 L451.7 134.2 L453.2 133.6 L454.7 132.9 L456.1 131.7 L457.6 130.8 L459.1 129.8 L460.1 130.9 L461.2 132.0 L462.3 132.8 L463.9 132.3 L465.5 132.2 L467.1 132.1 L468.0 133.2 L468.8 134.0 L469.6 135.1 L470.4 136.8 L471.3 138.6 L472.1 140.0 L473.5 140.9 L474.8 141.3 L476.2 142.5 L477.5 144.0 L478.1 145.2 L478.6 147.3 L479.2 148.6 L479.8 149.7 L480.4 150.9 L480.9 152.7 L481.5 154.2 L482.2 155.8 L483.0 157.8 L483.7 159.4 L484.4 160.7 L485.1 161.8 L485.8 162.7 L486.6 163.9 L487.2 165.8 L487.9 167.0 L488.6 169.0 L489.2 170.4 L489.9 171.8 L490.5 173.5 L491.2 174.3 L491.8 175.4 L492.3 177.4 L492.9 178.4 L493.4 179.9 L494.0 181.9 L494.9 183.2 L495.8 185.2 L496.6 186.0 L497.5 187.5 L498.4 188.8 L499.3 190.0 L500.0 191.9 L500.7 193.8 L501.4 195.1 L502.1 196.3 L502.8 197.1 L503.5 198.4 L504.3 200.3 L505.1 201.9 L505.9 203.2 L506.8 204.8 L507.6 205.7 L508.4 207.3 L509.3 208.1 L510.0 209.6 L510.7 211.3 L511.4 212.5 L512.1 214.5 L512.8 215.8 L513.5 217.0 L514.3 218.1 L515.1 219.6 L515.9 220.6 L516.7 222.3 L517.5 224.1 L518.3 225.7 L519.2 227.0 L519.9 227.9 L520.7 229.5 L521.5 230.2 L522.3 232.3 L523.1 233.9 L523.9 235.5 L524.8 236.8 L525.7 238.5" fill="none" stroke="#fff" stroke-width="2.40" stroke-linejoin="round" stroke-linecap="butt"/><path d="M327.9 283.4 L329.4 283.4 L330.9 283.4 L332.4 283.4 L334.0 283.4 L335.5 283.4 L337.0 283.4 L338.5 283.4 L340.0 283.4 L341.5 283.5 L343.1 283.5 L344.6 283.5 L346.1 283.5 L347.6 283.5 L349.1 283.5 L350.6 283.5 L352.2 283.5 L353.7 283.5 L355.2 283.5 L356.7 283.5 L358.2 283.5 L359.7 283.5 L361.3 283.5 L362.8 283.5 L364.3 283.6 L365.8 283.6 L367.3 283.6 L368.8 283.6 L370.4 283.6 L371.9 283.6 L373.4 283.6 L374.9 283.6 L376.4 283.6 L377.9 283.6 L379.4 283.6 L381.0 283.6 L382.5 283.6 L383.1 282.2 L383.7 280.8 L384.2 279.3 L384.8 277.9 L385.4 276.4 L386.0 275.0 L386.2 273.5 L386.5 272.0 L386.8 270.5 L387.0 269.0 L387.3 267.5 L387.5 266.0 L387.8 264.5 L388.0 263.0 L388.3 261.5 L388.5 260.0 L388.7 258.5 L388.8 257.0 L388.9 255.5 L389.1 254.0 L389.2 252.5 L389.3 251.0 L389.5 249.5 L389.6 248.0 L389.8 246.5 L389.9 245.0 L390.0 243.5 L390.2 242.0 L390.3 240.5 L390.4 239.0 L390.6 237.5 L390.7 236.0 L390.9 234.5 L391.0 233.0 L391.1 231.5 L391.3 230.0 L391.6 228.4 L391.9 226.9 L392.2 225.3 L392.5 223.8 L392.8 222.2 L393.1 220.6 L393.4 219.1 L393.7 217.5 L394.1 215.9 L394.4 214.4 L394.7 212.8 L395.0 211.2 L395.3 210.0 L395.6 208.3 L395.9 207.0 L396.2 205.2 L396.6 203.5 L397.1 201.8 L397.5 199.9 L397.9 199.0 L398.3 197.2 L398.7 196.0 L399.2 194.3 L399.6 193.1 L400.0 192.1 L400.5 190.0 L401.0 188.3 L401.5 186.7 L402.0 184.9 L402.5 183.2 L403.0 181.5 L403.9 179.7 L404.8 178.2 L405.7 177.1 L406.6 175.7 L407.5 174.2 L408.4 172.6 L409.3 171.3 L410.2 170.0 L411.1 169.0 L412.5 168.2 L413.8 166.9 L415.2 165.7 L416.5 164.7 L417.9 164.1 L419.2 163.2 L420.7 162.0 L422.1 161.1 L423.6 160.3 L425.0 158.8 L426.5 157.7 L427.9 157.2 L429.3 157.2 L430.5 155.6 L431.6 153.5 L432.7 152.2 L433.9 152.0 L435.0 150.7 L436.1 149.3 L437.2 147.3 L438.5 146.6 L439.7 145.8 L441.0 144.5 L442.2 142.8 L443.5 141.3 L444.9 140.4 L446.4 139.9 L447.8 137.7 L449.3 136.5 L450.7 136.1 L452.1 135.5 L453.6 134.4 L455.0 132.7 L456.4 132.5 L457.8 131.9 L459.2 130.5 L460.8 132.0 L462.4 134.1 L463.9 133.8 L465.4 132.9 L466.9 132.5 L467.8 134.6 L468.6 136.0 L469.4 137.2 L470.3 137.8 L471.1 139.1 L471.9 140.5 L473.3 141.5 L474.6 143.0 L475.9 143.7 L477.3 144.1 L477.8 146.2 L478.4 147.9 L479.0 149.3 L479.5 151.0 L480.1 152.7 L480.7 154.6 L481.3 155.7 L482.0 157.2 L482.7 158.5 L483.4 159.2 L484.1 161.1 L484.8 162.8 L485.5 164.3 L486.2 165.8 L486.8 166.9 L487.5 168.0 L488.2 169.7 L488.9 170.5 L489.5 172.5 L490.2 174.1 L490.9 175.4 L491.4 177.1 L492.0 178.3 L492.5 179.6 L493.1 181.2 L493.6 181.9 L494.4 183.1 L495.1 185.0 L495.9 186.2 L496.6 187.9 L497.4 189.5 L498.1 190.8 L498.9 192.0 L499.6 193.1 L500.3 194.0 L501.0 195.5 L501.7 197.6 L502.5 199.2 L503.2 200.4 L503.9 201.6 L504.7 202.8 L505.6 204.2 L506.4 205.1 L507.2 206.6 L508.1 208.3 L508.9 209.9 L509.6 211.7 L510.3 212.3 L511.0 213.4 L511.8 215.1 L512.5 216.7 L513.2 218.4 L513.9 220.0 L514.7 221.5 L515.5 222.6 L516.4 223.7 L517.2 224.5 L518.0 226.1 L518.8 227.2 L519.6 228.9 L520.4 230.8 L521.2 231.6 L522.0 232.6 L522.8 233.8 L523.7 235.2 L524.6 236.7 L525.5 239.2" fill="none" stroke="#fff" stroke-width="2.40" stroke-linejoin="round" stroke-linecap="butt"/><path d="M327.9 283.4 L329.4 283.4 L330.9 283.4 L332.4 283.4 L334.0 283.4 L335.5 283.4 L337.0 283.4 L338.5 283.4 L340.0 283.5 L341.5 283.5 L343.1 283.5 L344.6 283.5 L346.1 283.5 L347.6 283.5 L349.1 283.5 L350.6 283.5 L352.2 283.5 L353.7 283.5 L355.2 283.5 L356.7 283.5 L358.2 283.5 L359.8 283.5 L361.3 283.6 L362.8 283.6 L364.3 283.6 L365.8 283.6 L367.3 283.6 L368.9 283.6 L370.4 283.6 L371.9 283.6 L373.4 283.6 L374.9 283.6 L376.4 283.6 L377.9 283.6 L379.5 283.6 L381.0 283.6 L382.5 283.6 L383.1 282.2 L383.7 280.8 L384.4 279.3 L385.0 277.9 L385.6 276.4 L386.2 275.0 L386.5 273.5 L386.7 272.0 L387.0 270.5 L387.2 269.0 L387.5 267.5 L387.7 266.0 L388.0 264.5 L388.2 263.0 L388.5 261.5 L388.8 260.0 L388.9 258.5 L389.0 257.0 L389.2 255.5 L389.3 254.0 L389.5 252.5 L389.6 251.0 L389.7 249.5 L389.9 248.0 L390.0 246.5 L390.2 245.0 L390.3 243.5 L390.5 242.0 L390.6 240.5 L390.7 239.0 L390.9 237.5 L391.0 236.0 L391.2 234.5 L391.3 233.0 L391.5 231.5 L391.6 230.0 L391.9 228.5 L392.2 227.1 L392.5 225.6 L392.8 224.1 L393.2 222.6 L393.5 221.2 L393.8 219.7 L394.1 218.2 L394.4 216.8 L394.7 215.3 L395.0 213.8 L395.3 211.7 L395.6 210.4 L395.9 208.8 L396.3 207.8 L396.6 206.1 L396.9 204.8 L397.3 203.9 L397.7 202.0 L398.2 200.8 L398.6 199.4 L399.0 198.3 L399.5 196.5 L399.9 195.0 L400.3 193.6 L400.8 191.5 L401.3 190.0 L401.8 188.3 L402.4 187.3 L402.9 185.4 L403.5 184.5 L404.0 182.7 L404.9 181.1 L405.8 178.8 L406.8 177.5 L407.7 175.8 L408.7 175.0 L409.6 174.4 L410.6 172.7 L411.5 170.9 L412.5 169.3 L413.8 169.2 L415.2 168.6 L416.5 167.5 L417.8 166.0 L419.2 165.5 L420.5 164.5 L421.9 163.7 L423.2 162.6 L424.6 161.4 L425.9 160.9 L427.3 160.1 L428.6 158.6 L430.0 157.4 L431.0 156.5 L432.0 156.1 L433.0 154.6 L434.0 153.1 L435.0 151.7 L436.0 150.4 L437.0 150.0 L438.0 149.1 L439.0 147.6 L440.1 146.2 L441.1 145.3 L442.2 143.9 L443.2 143.4 L444.2 142.3 L445.6 140.6 L447.0 139.7 L448.4 138.7 L449.8 137.7 L451.2 136.7 L452.6 135.2 L454.0 135.0 L455.4 134.0 L456.7 133.3 L458.0 132.3 L459.4 131.7 L460.9 133.2 L462.5 134.3 L464.6 134.0 L466.8 134.7 L467.6 135.8 L468.4 136.4 L469.2 137.5 L470.1 139.0 L470.9 140.4 L471.8 142.3 L473.1 142.8 L474.4 143.9 L475.7 144.6 L477.0 146.0 L477.6 147.5 L478.1 149.4 L478.7 150.9 L479.3 152.2 L479.9 154.1 L480.4 154.9 L481.0 156.3 L481.8 158.5 L482.6 160.4 L483.4 162.0 L484.2 163.5 L485.0 165.1 L485.8 165.8 L486.4 167.2 L487.1 168.7 L487.8 170.0 L488.5 172.3 L489.1 173.7 L489.8 175.0 L490.5 176.6 L491.2 178.2 L491.9 179.5 L492.6 181.2 L493.2 182.9 L494.0 184.4 L494.8 186.4 L495.5 187.9 L496.2 188.8 L497.0 189.9 L497.8 191.0 L498.5 192.8 L499.2 194.4 L499.9 195.9 L500.6 197.8 L501.4 198.8 L502.1 200.0 L502.8 201.2 L503.5 202.6 L504.3 203.8 L505.2 205.8 L506.0 207.1 L506.8 209.1 L507.7 210.3 L508.5 211.3 L509.2 212.7 L509.9 213.8 L510.6 215.4 L511.4 217.1 L512.1 218.5 L512.8 219.7 L513.5 220.8 L514.3 222.2 L515.2 222.8 L516.0 224.5 L516.8 225.5 L517.7 227.1 L518.5 228.9 L519.5 230.0 L520.5 230.9 L521.5 232.6 L522.5 234.2 L523.4 236.2 L524.3 238.0 L525.2 239.2" fill="none" stroke="#fff" stroke-width="2.40" stroke-linejoin="round" stroke-linecap="butt"/><path d="M327.9 283.4 L329.4 283.4 L330.9 283.4 L332.5 283.4 L334.0 283.4 L335.5 283.4 L337.0 283.4 L338.5 283.5 L340.0 283.5 L341.6 283.5 L343.1 283.5 L344.6 283.5 L346.1 283.5 L347.6 283.5 L349.1 283.5 L350.7 283.5 L352.2 283.5 L353.7 283.5 L355.2 283.5 L356.7 283.5 L358.2 283.5 L359.8 283.6 L361.3 283.6 L362.8 283.6 L364.3 283.6 L365.8 283.6 L367.3 283.6 L368.9 283.6 L370.4 283.6 L371.9 283.6 L373.4 283.6 L374.9 283.6 L376.5 283.6 L378.0 283.6 L379.5 283.6 L381.0 283.7 L382.5 283.7 L383.2 282.2 L383.8 280.8 L384.5 279.3 L385.1 277.9 L385.8 276.4 L386.4 275.0 L386.7 273.5 L386.9 272.0 L387.2 270.5 L387.4 269.0 L387.7 267.5 L387.9 266.0 L388.2 264.5 L388.5 263.0 L388.7 261.5 L389.0 260.0 L389.1 258.5 L389.3 257.0 L389.4 255.5 L389.6 254.0 L389.7 252.5 L389.9 251.0 L390.0 249.5 L390.2 248.0 L390.3 246.5 L390.5 245.0 L390.6 243.5 L390.8 242.0 L390.9 240.5 L391.0 239.0 L391.2 237.5 L391.3 236.0 L391.5 234.5 L391.6 233.0 L391.8 231.5 L391.9 230.0 L392.3 228.5 L392.6 227.1 L392.9 225.6 L393.3 224.1 L393.6 222.6 L393.9 221.2 L394.2 219.7 L394.6 218.2 L394.9 216.8 L395.2 215.4 L395.6 213.4 L395.9 212.1 L396.2 211.4 L396.5 209.6 L396.9 208.1 L397.2 206.8 L397.5 205.4 L398.0 203.8 L398.5 201.9 L399.0 200.1 L399.5 198.6 L400.0 196.6 L400.5 195.3 L401.0 194.2 L401.5 192.7 L402.1 191.2 L402.7 189.4 L403.3 188.4 L403.8 186.1 L404.4 184.8 L405.0 182.6 L406.0 181.1 L406.9 179.9 L407.8 178.4 L408.8 176.9 L409.9 175.6 L410.9 174.2 L411.9 172.9 L412.9 171.9 L413.9 171.0 L415.2 170.5 L416.5 169.1 L417.8 168.2 L419.1 167.6 L420.5 167.4 L421.8 166.3 L423.0 164.9 L424.3 164.1 L425.6 163.5 L426.9 162.2 L428.1 160.4 L429.4 159.8 L430.7 159.3 L431.7 158.0 L432.7 156.6 L433.7 155.1 L434.7 154.0 L435.7 153.1 L436.7 152.7 L437.8 151.4 L438.8 149.6 L439.8 147.9 L440.8 147.4 L441.9 146.5 L442.9 144.9 L444.0 144.0 L445.0 141.8 L446.3 141.3 L447.6 140.5 L448.9 139.8 L450.2 138.0 L451.6 136.6 L453.0 136.5 L454.4 136.1 L455.7 134.5 L457.6 133.5 L459.5 133.0 L461.1 134.3 L462.6 134.8 L464.6 135.4 L466.6 135.5 L467.6 137.2 L468.6 138.2 L469.6 140.1 L470.6 141.7 L471.6 143.0 L472.9 143.6 L474.2 145.0 L475.4 146.4 L476.7 147.9 L477.3 149.1 L477.9 150.7 L478.5 152.2 L479.0 153.3 L479.6 154.6 L480.2 156.2 L480.7 158.1 L481.5 159.8 L482.3 161.8 L483.0 163.3 L483.8 164.1 L484.6 165.4 L485.3 166.8 L486.0 168.6 L486.7 170.1 L487.4 171.5 L488.1 173.4 L488.8 174.4 L489.5 175.6 L490.1 177.3 L490.8 178.2 L491.5 180.3 L492.2 182.1 L492.9 183.7 L493.6 185.4 L494.4 186.7 L495.1 188.1 L495.9 190.0 L496.6 191.2 L497.4 192.2 L498.1 194.1 L498.8 195.9 L499.5 197.3 L500.3 198.4 L501.0 200.3 L501.7 201.1 L502.4 202.1 L503.1 203.9 L503.9 205.2 L504.8 207.5 L505.6 208.9 L506.4 210.4 L507.3 211.2 L508.1 212.6 L508.9 214.2 L509.8 215.9 L510.6 217.7 L511.4 219.4 L512.3 221.0 L513.1 222.1 L514.1 223.0 L515.1 224.5 L516.1 226.6 L517.2 228.0 L518.2 229.0 L519.2 230.1 L520.2 231.5 L521.2 233.3 L522.2 235.3 L523.1 236.7 L524.1 237.6 L525.0 239.3" fill="none" stroke="#fff" stroke-width="2.40" stroke-linejoin="round" stroke-linecap="butt"/><path d="M327.9 283.4 L329.4 283.4 L330.9 283.4 L332.5 283.4 L334.0 283.4 L335.5 283.4 L337.0 283.5 L338.5 283.5 L340.0 283.5 L341.6 283.5 L343.1 283.5 L344.6 283.5 L346.1 283.5 L347.6 283.5 L349.1 283.5 L350.7 283.5 L352.2 283.5 L353.7 283.5 L355.2 283.5 L356.7 283.5 L358.3 283.6 L359.8 283.6 L361.3 283.6 L362.8 283.6 L364.3 283.6 L365.8 283.6 L367.4 283.6 L368.9 283.6 L370.4 283.6 L371.9 283.6 L373.4 283.6 L375.0 283.6 L376.5 283.6 L378.0 283.7 L379.5 283.7 L381.0 283.7 L382.5 283.7 L383.2 282.2 L383.9 280.8 L384.6 279.3 L385.2 277.9 L385.9 276.4 L386.6 275.0 L386.9 273.5 L387.1 272.0 L387.4 270.5 L387.6 269.0 L387.9 267.5 L388.1 266.0 L388.4 264.5 L388.7 263.0 L388.9 261.5 L389.2 260.0 L389.3 258.5 L389.5 257.0 L389.6 255.5 L389.8 254.0 L389.9 252.5 L390.1 251.0 L390.3 249.5 L390.4 248.0 L390.6 246.5 L390.7 245.0 L390.9 243.5 L391.0 242.0 L391.2 240.5 L391.3 239.0 L391.5 237.5 L391.6 236.0 L391.8 234.5 L392.0 233.0 L392.1 231.5 L392.3 230.0 L392.6 228.5 L393.0 227.1 L393.3 225.6 L393.6 224.1 L394.0 222.6 L394.3 221.2 L394.7 219.7 L395.0 218.6 L395.4 216.7 L395.7 215.6 L396.1 213.5 L396.4 212.1 L396.8 210.8 L397.1 209.4 L397.5 207.6 L397.8 206.3 L398.1 204.8 L398.7 203.7 L399.2 202.0 L399.7 200.9 L400.2 199.4 L400.7 197.7 L401.2 196.0 L401.7 194.0 L402.2 192.7 L402.8 191.0 L403.5 189.6 L404.1 188.2 L404.7 187.2 L405.3 185.7 L406.0 184.2 L406.9 182.0 L407.9 180.1 L408.9 178.7 L409.9 177.4 L411.0 176.5 L412.0 175.6 L413.1 173.9 L414.1 173.0 L415.2 171.8 L416.7 171.2 L418.3 170.6 L419.9 168.9 L421.4 168.2 L423.0 168.2 L424.2 166.3 L425.3 164.9 L426.5 164.1 L427.7 163.8 L428.9 162.5 L430.1 161.3 L431.3 159.6 L432.3 158.6 L433.3 157.8 L434.4 157.1 L435.4 155.8 L436.4 154.2 L437.4 152.4 L438.5 151.7 L439.5 150.6 L440.5 149.8 L441.6 147.9 L442.6 146.8 L443.6 145.4 L444.7 144.6 L445.7 143.2 L447.0 142.3 L448.2 140.6 L449.5 139.2 L450.7 139.1 L452.0 137.8 L453.4 137.1 L454.7 135.6 L456.1 135.2 L457.9 134.8 L459.7 133.1 L461.2 134.9 L462.7 136.5 L464.5 136.1 L466.4 136.8 L467.4 138.4 L468.4 140.0 L469.4 141.3 L470.4 142.5 L471.4 143.8 L472.7 144.9 L473.9 146.3 L475.2 147.7 L476.5 148.2 L477.1 149.7 L477.6 151.2 L478.2 153.2 L478.8 154.7 L479.4 156.9 L479.9 158.2 L480.5 160.0 L481.2 160.9 L482.0 162.0 L482.7 163.5 L483.5 164.8 L484.2 166.5 L484.9 168.0 L485.6 169.9 L486.3 171.1 L487.0 172.1 L487.7 173.5 L488.4 174.6 L489.1 175.9 L489.8 177.7 L490.5 179.5 L491.1 181.3 L491.8 182.7 L492.5 184.8 L493.1 185.9 L493.8 186.9 L494.5 188.4 L495.1 189.6 L495.8 191.0 L496.4 192.6 L497.1 194.4 L497.7 196.2 L498.5 197.0 L499.2 198.2 L499.9 199.5 L500.6 200.5 L501.3 202.7 L502.0 204.2 L502.7 205.3 L503.6 206.6 L504.4 208.5 L505.2 209.7 L506.1 210.6 L506.9 212.5 L507.7 214.2 L508.6 215.8 L509.4 217.6 L510.2 218.4 L511.1 220.1 L511.9 221.1 L512.7 223.4 L513.8 225.0 L514.8 226.3 L515.8 226.8 L516.8 228.1 L517.8 229.1 L518.9 231.2 L519.9 232.6 L520.9 234.4 L521.9 235.6 L522.9 236.3 L523.9 238.3 L524.8 240.0" fill="none" stroke="#fff" stroke-width="2.40" stroke-linejoin="round" stroke-linecap="butt"/><path d="M327.9 283.4 L329.4 283.4 L330.9 283.4 L332.5 283.4 L334.0 283.4 L335.5 283.5 L337.0 283.5 L338.5 283.5 L340.0 283.5 L341.6 283.5 L343.1 283.5 L344.6 283.5 L346.1 283.5 L347.6 283.5 L349.2 283.5 L350.7 283.5 L352.2 283.5 L353.7 283.5 L355.2 283.6 L356.7 283.6 L358.3 283.6 L359.8 283.6 L361.3 283.6 L362.8 283.6 L364.3 283.6 L365.9 283.6 L367.4 283.6 L368.9 283.6 L370.4 283.6 L371.9 283.6 L373.4 283.6 L375.0 283.7 L376.5 283.7 L378.0 283.7 L379.5 283.7 L381.0 283.7 L382.6 283.7 L383.3 282.2 L384.0 280.8 L384.7 279.3 L385.4 277.9 L386.1 276.4 L386.8 275.0 L387.1 273.5 L387.3 272.0 L387.6 270.5 L387.8 269.0 L388.1 267.5 L388.4 266.0 L388.6 264.5 L388.9 263.0 L389.1 261.5 L389.4 260.0 L389.6 258.5 L389.7 257.0 L389.9 255.5 L390.0 254.0 L390.2 252.5 L390.4 251.0 L390.5 249.5 L390.7 248.0 L390.8 246.5 L391.0 245.0 L391.2 243.5 L391.3 242.0 L391.5 240.5 L391.6 239.0 L391.8 237.5 L392.0 236.0 L392.1 234.5 L392.3 233.0 L392.4 231.5 L392.6 230.0 L393.0 228.5 L393.3 227.1 L393.7 225.6 L394.1 224.1 L394.4 222.6 L394.8 221.2 L395.2 219.3 L395.5 218.6 L395.9 216.8 L396.2 215.2 L396.6 213.9 L397.0 212.7 L397.3 211.3 L397.7 209.8 L398.1 208.2 L398.4 206.1 L398.8 205.0 L399.3 202.9 L399.8 202.0 L400.4 200.4 L400.9 199.2 L401.4 198.1 L401.9 196.4 L402.5 194.9 L403.0 194.0 L403.6 191.7 L404.3 190.1 L405.0 188.2 L405.6 187.0 L406.3 185.6 L407.0 184.4 L408.0 183.4 L409.0 181.3 L410.0 179.2 L411.1 178.2 L412.2 177.3 L413.3 176.3 L414.4 175.7 L415.5 174.2 L416.6 172.5 L418.1 172.2 L419.6 171.9 L421.2 170.5 L422.7 169.6 L424.2 169.3 L425.3 168.3 L426.4 167.2 L427.5 165.3 L428.6 164.5 L429.7 163.9 L430.8 163.0 L431.9 161.9 L433.0 160.2 L434.0 158.6 L435.1 157.3 L436.1 156.5 L437.1 155.2 L438.2 153.8 L439.2 152.7 L440.3 151.6 L441.3 150.5 L442.3 149.5 L443.4 147.7 L444.4 146.1 L445.4 144.5 L446.5 143.6 L447.7 142.3 L448.8 141.7 L450.0 139.9 L451.2 138.6 L452.5 138.6 L453.8 137.9 L455.1 137.0 L456.4 135.5 L458.1 135.3 L459.8 135.3 L461.3 135.8 L462.8 136.5 L464.5 137.8 L466.2 138.7 L467.2 139.6 L468.2 140.7 L469.2 142.3 L470.2 143.4 L471.2 145.5 L472.5 145.9 L473.7 147.2 L475.0 148.3 L476.2 150.3 L476.8 151.6 L477.4 153.1 L477.9 154.4 L478.5 155.8 L479.1 157.2 L479.7 158.8 L480.2 160.4 L480.9 162.1 L481.7 164.0 L482.4 165.0 L483.1 166.2 L483.8 167.9 L484.5 168.3 L485.2 169.8 L485.9 171.2 L486.6 173.3 L487.3 174.8 L488.0 176.7 L488.7 177.6 L489.4 179.0 L490.1 180.0 L490.8 181.6 L491.4 183.3 L492.1 184.6 L492.8 186.3 L493.4 188.3 L494.1 189.7 L494.7 190.9 L495.4 192.4 L496.0 193.8 L496.7 195.2 L497.3 196.5 L498.1 198.1 L498.8 200.1 L499.5 201.0 L500.2 202.3 L500.9 203.6 L501.6 205.1 L502.4 206.2 L503.1 207.5 L503.8 208.9 L504.5 210.5 L505.2 211.9 L505.9 213.2 L506.6 214.7 L507.3 215.8 L508.1 216.6 L509.0 218.3 L509.8 220.5 L510.7 222.1 L511.5 223.0 L512.4 224.2 L513.4 225.3 L514.4 226.5 L515.4 227.8 L516.5 229.4 L517.5 230.6 L518.5 231.4 L519.6 233.0 L520.6 234.2 L521.6 236.6 L522.6 237.5 L523.6 238.7 L524.6 239.9" fill="none" stroke="#fff" stroke-width="2.40" stroke-linejoin="round" stroke-linecap="butt"/><path d="M435.3 147 L435.3 137.5 Q436.3 135.5 437.3 137.5 L437.3 145 Z" fill="#fff"/><path d="M439.7 147 L439.7 27 L443.1 27 L443.1 141 Z" fill="#fff"/><path d="M525.6 244.0 L525.8 200.0 L526.3 137.0 L527.8 133.6 L529.2 137.0 L529.8 166.0 L531.0 166.0 L531.4 151.0 L532.5 147.4 L533.6 151.0 L534.2 162.0 L535.2 159.5 L536.5 158.4 L538.0 160.0 L539.2 158.6 L540.5 160.5 L542.0 158.8 L543.4 160.5 L544.3 164.0 L545.2 182.0 L546.0 190.0 L547.0 196.5 L549.4 202.0 L549.6 240.0 L549.6 244.0 L545.2 243.0 L544.6 215.0 L543.4 208.0 L542.2 214.0 L541.9 243.0 L539.0 243.0 L538.8 214.0 L537.8 206.0 L536.6 211.0 L535.4 205.5 L534.0 210.0 L533.0 207.0 L532.6 243.0 L530.8 243.5 L529.0 242.5 L527.2 244.0Z" fill="#fff" stroke="#fff" stroke-width="0.6" stroke-linejoin="round"/><path d="M548.6 236.0 L548.7 269.5" fill="none" stroke="#fff" stroke-width="2.20" stroke-linejoin="round" stroke-linecap="butt"/><path d="M548.7 268.7 L551.0 270.4 L555.0 272.4 L560.0 274.2 L565.0 275.4 L571.0 276.2 L577.0 277.0 L580.0 278.6 L583.0 280.4 L586.5 281.6 L590.0 282.4 L595.3 282.9" fill="none" stroke="#fff" stroke-width="2.20" stroke-linejoin="round" stroke-linecap="butt"/><path d="M548.7 269.9 L551.0 271.6 L555.0 273.6 L560.0 275.4 L565.0 276.6 L571.0 277.4 L577.0 278.2 L580.0 279.8 L583.0 281.6 L586.5 282.8 L590.0 283.6 L595.3 284.1" fill="none" stroke="#fff" stroke-width="2.20" stroke-linejoin="round" stroke-linecap="butt"/><path d="M327.5 130 L329.9 130 L331 283 L327.5 283 Z" fill="#fff"/></g>
</svg>
<svg width="640" height="440" viewBox="0 0 640 440" style="position:absolute;left:0;top:0;will-change:transform">
<g opacity="0.999"><text x="181.9" y="16.0" font-size="17.00" text-anchor="middle" fill="#000" textLength="156.4" lengthAdjust="spacingAndGlyphs">7.2 (Tile072=72) X</text><text x="462.2" y="16.0" font-size="17.00" text-anchor="middle" fill="#000" textLength="156.0" lengthAdjust="spacingAndGlyphs">7.2 (Tile072=72) Y</text><text x="32.4" y="41.8" font-size="14.10" text-anchor="end" fill="#000" textLength="19.6" lengthAdjust="spacingAndGlyphs">On</text><text x="611.7" y="41.8" font-size="14.10" text-anchor="start" fill="#000" textLength="19.6" lengthAdjust="spacingAndGlyphs">On</text><text x="32.4" y="58.5" font-size="14.10" text-anchor="end" fill="#000">Y</text><text x="611.7" y="58.5" font-size="14.10" text-anchor="start" fill="#000">Y</text><text x="32.4" y="75.2" font-size="14.10" text-anchor="end" fill="#000" textLength="20.3" lengthAdjust="spacingAndGlyphs">Off</text><text x="611.7" y="75.2" font-size="14.10" text-anchor="start" fill="#000" textLength="20.3" lengthAdjust="spacingAndGlyphs">Off</text><text x="32.4" y="92.0" font-size="14.10" text-anchor="end" fill="#000">P</text><text x="611.7" y="92.0" font-size="14.10" text-anchor="start" fill="#000">P</text><text x="32.4" y="108.7" font-size="14.10" text-anchor="end" fill="#000">O</text><text x="611.7" y="108.7" font-size="14.10" text-anchor="start" fill="#000">O</text><text x="32.4" y="125.4" font-size="14.10" text-anchor="end" fill="#000">N</text><text x="611.7" y="125.4" font-size="14.10" text-anchor="start" fill="#000">N</text><text x="32.4" y="142.1" font-size="14.10" text-anchor="end" fill="#000">M</text><text x="611.7" y="142.1" font-size="14.10" text-anchor="start" fill="#000">M</text><text x="32.4" y="158.8" font-size="14.10" text-anchor="end" fill="#000">L</text><text x="611.7" y="158.8" font-size="14.10" text-anchor="start" fill="#000">L</text><text x="32.4" y="175.6" font-size="14.10" text-anchor="end" fill="#000">K</text><text x="611.7" y="175.6" font-size="14.10" text-anchor="start" fill="#000">K</text><text x="32.4" y="192.3" font-size="14.10" text-anchor="end" fill="#000" textLength="22.6" lengthAdjust="spacingAndGlyphs">** J</text><text x="611.7" y="192.3" font-size="14.10" text-anchor="start" fill="#000">J</text><text x="32.4" y="209.0" font-size="14.10" text-anchor="end" fill="#000">I</text><text x="611.7" y="209.0" font-size="14.10" text-anchor="start" fill="#000">I</text><text x="32.4" y="225.7" font-size="14.10" text-anchor="end" fill="#000">H</text><text x="611.7" y="225.7" font-size="14.10" text-anchor="start" fill="#000">H</text><text x="32.4" y="242.4" font-size="14.10" text-anchor="end" fill="#000">G</text><text x="611.7" y="242.4" font-size="14.10" text-anchor="start" fill="#000">G</text><text x="32.4" y="259.1" font-size="14.10" text-anchor="end" fill="#000">F</text><text x="611.7" y="259.1" font-size="14.10" text-anchor="start" fill="#000">F</text><text x="32.4" y="275.9" font-size="14.10" text-anchor="end" fill="#000">E</text><text x="611.7" y="275.9" font-size="14.10" text-anchor="start" fill="#000">E</text><text x="32.4" y="292.6" font-size="14.10" text-anchor="end" fill="#000">D</text><text x="611.7" y="292.6" font-size="14.10" text-anchor="start" fill="#000">D</text><text x="32.4" y="309.3" font-size="14.10" text-anchor="end" fill="#000">C</text><text x="611.7" y="309.3" font-size="14.10" text-anchor="start" fill="#000">C</text><text x="32.4" y="326.0" font-size="14.10" text-anchor="end" fill="#000">B</text><text x="611.7" y="326.0" font-size="14.10" text-anchor="start" fill="#000">B</text><text x="32.4" y="342.7" font-size="14.10" text-anchor="end" fill="#000">A</text><text x="611.7" y="342.7" font-size="14.10" text-anchor="start" fill="#000">A</text><text x="32.4" y="359.5" font-size="14.10" text-anchor="end" fill="#000" textLength="20.3" lengthAdjust="spacingAndGlyphs">Off</text><text x="611.7" y="359.5" font-size="14.10" text-anchor="start" fill="#000" textLength="20.3" lengthAdjust="spacingAndGlyphs">Off</text><text x="32.4" y="376.2" font-size="14.10" text-anchor="end" fill="#000">X</text><text x="611.7" y="376.2" font-size="14.10" text-anchor="start" fill="#000">X</text><text x="32.4" y="392.9" font-size="14.10" text-anchor="end" fill="#000" textLength="19.6" lengthAdjust="spacingAndGlyphs">On</text><text x="611.7" y="392.9" font-size="14.10" text-anchor="start" fill="#000" textLength="19.6" lengthAdjust="spacingAndGlyphs">On</text><path d="M68.8 43.40H74.9M350.3 43.40H355.2" stroke="#fff" stroke-width="1.3" fill="none"/><text x="79.0" y="49.1" font-size="14.10" text-anchor="start" fill="#fff" textLength="17.3" lengthAdjust="spacingAndGlyphs">25</text><text x="359.0" y="49.1" font-size="14.10" text-anchor="start" fill="#fff" textLength="17.3" lengthAdjust="spacingAndGlyphs">25</text><text x="301.1" y="49.1" font-size="14.10" text-anchor="start" fill="#fff" textLength="17.3" lengthAdjust="spacingAndGlyphs">25</text><path d="M68.8 91.40H74.9M350.3 91.40H355.2" stroke="#fff" stroke-width="1.3" fill="none"/><text x="79.0" y="97.1" font-size="14.10" text-anchor="start" fill="#fff" textLength="17.3" lengthAdjust="spacingAndGlyphs">20</text><text x="359.0" y="97.1" font-size="14.10" text-anchor="start" fill="#fff" textLength="17.3" lengthAdjust="spacingAndGlyphs">20</text><text x="301.1" y="97.1" font-size="14.10" text-anchor="start" fill="#fff" textLength="17.3" lengthAdjust="spacingAndGlyphs">20</text><path d="M68.8 139.40H74.9M350.3 139.40H355.2" stroke="#fff" stroke-width="1.3" fill="none"/><text x="79.0" y="145.1" font-size="14.10" text-anchor="start" fill="#fff" textLength="17.3" lengthAdjust="spacingAndGlyphs">15</text><text x="359.0" y="145.1" font-size="14.10" text-anchor="start" fill="#fff" textLength="17.3" lengthAdjust="spacingAndGlyphs">15</text><text x="301.1" y="145.1" font-size="14.10" text-anchor="start" fill="#fff" textLength="17.3" lengthAdjust="spacingAndGlyphs">15</text><path d="M68.8 187.40H74.9M350.3 187.40H355.2" stroke="#fff" stroke-width="1.3" fill="none"/><text x="79.0" y="193.1" font-size="14.10" text-anchor="start" fill="#fff" textLength="17.3" lengthAdjust="spacingAndGlyphs">10</text><text x="359.0" y="193.1" font-size="14.10" text-anchor="start" fill="#fff" textLength="17.3" lengthAdjust="spacingAndGlyphs">10</text><text x="301.1" y="193.1" font-size="14.10" text-anchor="start" fill="#fff" textLength="17.3" lengthAdjust="spacingAndGlyphs">10</text><path d="M68.8 235.40H74.9M350.3 235.40H355.2" stroke="#fff" stroke-width="1.3" fill="none"/><text x="79.0" y="241.1" font-size="14.10" text-anchor="start" fill="#fff">5</text><text x="359.0" y="241.1" font-size="14.10" text-anchor="start" fill="#fff">5</text><text x="311.2" y="241.1" font-size="14.10" text-anchor="start" fill="#fff">5</text><path d="M68.8 283.40H74.9M350.3 283.40H355.2" stroke="#fff" stroke-width="1.3" fill="none"/><text x="79.0" y="289.1" font-size="14.10" text-anchor="start" fill="#fff">0</text><text x="359.0" y="289.1" font-size="14.10" text-anchor="start" fill="#fff">0</text><text x="311.2" y="289.1" font-size="14.10" text-anchor="start" fill="#fff">0</text><path d="M49.40 408V413.6" stroke="#000" stroke-width="1.1" fill="none"/><text x="49.4" y="425.7" font-size="10.50" text-anchor="middle" fill="#000">0</text><path d="M329.40 408V413.6" stroke="#000" stroke-width="1.1" fill="none"/><text x="329.4" y="425.7" font-size="10.50" text-anchor="middle" fill="#000">0</text><path d="M90.05 408V413.6" stroke="#000" stroke-width="1.1" fill="none"/><text x="90.0" y="425.7" font-size="10.50" text-anchor="middle" fill="#000" textLength="12.0" lengthAdjust="spacingAndGlyphs">50</text><path d="M370.08 408V413.6" stroke="#000" stroke-width="1.1" fill="none"/><text x="370.1" y="425.7" font-size="10.50" text-anchor="middle" fill="#000" textLength="12.0" lengthAdjust="spacingAndGlyphs">50</text><path d="M130.70 408V413.6" stroke="#000" stroke-width="1.1" fill="none"/><text x="130.7" y="425.7" font-size="10.50" text-anchor="middle" fill="#000" textLength="18.0" lengthAdjust="spacingAndGlyphs">100</text><path d="M410.76 408V413.6" stroke="#000" stroke-width="1.1" fill="none"/><text x="410.8" y="425.7" font-size="10.50" text-anchor="middle" fill="#000" textLength="18.0" lengthAdjust="spacingAndGlyphs">100</text><path d="M171.35 408V413.6" stroke="#000" stroke-width="1.1" fill="none"/><text x="171.3" y="425.7" font-size="10.50" text-anchor="middle" fill="#000" textLength="18.0" lengthAdjust="spacingAndGlyphs">150</text><path d="M451.44 408V413.6" stroke="#000" stroke-width="1.1" fill="none"/><text x="451.4" y="425.7" font-size="10.50" text-anchor="middle" fill="#000" textLength="18.0" lengthAdjust="spacingAndGlyphs">150</text><path d="M212.00 408V413.6" stroke="#000" stroke-width="1.1" fill="none"/><text x="212.0" y="425.7" font-size="10.50" text-anchor="middle" fill="#000" textLength="18.0" lengthAdjust="spacingAndGlyphs">200</text><path d="M492.12 408V413.6" stroke="#000" stroke-width="1.1" fill="none"/><text x="492.1" y="425.7" font-size="10.50" text-anchor="middle" fill="#000" textLength="18.0" lengthAdjust="spacingAndGlyphs">200</text><path d="M252.65 408V413.6" stroke="#000" stroke-width="1.1" fill="none"/><text x="252.7" y="425.7" font-size="10.50" text-anchor="middle" fill="#000" textLength="18.0" lengthAdjust="spacingAndGlyphs">250</text><path d="M532.80 408V413.6" stroke="#000" stroke-width="1.1" fill="none"/><text x="532.8" y="425.7" font-size="10.50" text-anchor="middle" fill="#000" textLength="18.0" lengthAdjust="spacingAndGlyphs">250</text><path d="M293.30 408V413.6" stroke="#000" stroke-width="1.1" fill="none"/><text x="293.3" y="425.7" font-size="10.50" text-anchor="middle" fill="#000" textLength="18.0" lengthAdjust="spacingAndGlyphs">300</text><path d="M573.48 408V413.6" stroke="#000" stroke-width="1.1" fill="none"/><text x="573.5" y="425.7" font-size="10.50" text-anchor="middle" fill="#000" textLength="18.0" lengthAdjust="spacingAndGlyphs">300</text></g>
</svg>
</body></html>
